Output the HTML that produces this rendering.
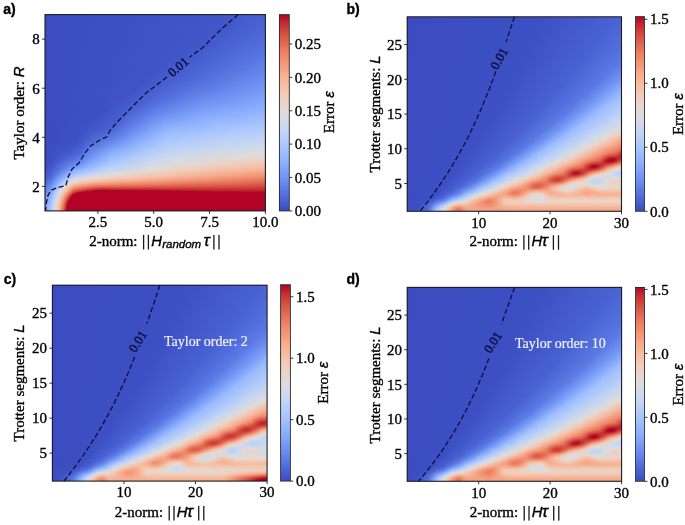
<!DOCTYPE html>
<html><head><meta charset="utf-8"><style>
html,body{margin:0;padding:0;background:#fff}
#w{position:relative;width:685px;height:525px;overflow:hidden;background:#fff}
.hm{position:absolute;overflow:hidden}
.hm i{position:absolute;left:0;width:100%;display:block}
svg{position:absolute;left:0;top:0;will-change:transform}
text{stroke:#000;stroke-width:.35px}
</style></head><body><div id="w">
<div class="hm" style="left:45px;top:15px;width:220px;height:196px"><i style="top:0px;height:1px;background:linear-gradient(90deg,#3a4cc0 0.2%,#4156c9 81.6%,#4962d3 99.8%)"></i><i style="top:1px;height:2px;background:linear-gradient(90deg,#3a4cc0 0.2%,#4156c9 81.6%,#4962d3 99.8%)"></i><i style="top:3px;height:1px;background:linear-gradient(90deg,#3a4cc0 0.2%,#4156c9 81.1%,#4962d3 99.8%)"></i><i style="top:4px;height:1px;background:linear-gradient(90deg,#3a4cc0 0.2%,#4156c9 81.1%,#4962d3 99.8%)"></i><i style="top:5px;height:1px;background:linear-gradient(90deg,#3a4cc0 0.2%,#4156c9 81.1%,#4962d3 99.8%)"></i><i style="top:6px;height:1px;background:linear-gradient(90deg,#3a4cc0 0.2%,#4156c9 80.7%,#4962d3 99.8%)"></i><i style="top:7px;height:1px;background:linear-gradient(90deg,#3a4cc0 0.2%,#4156c9 80.7%,#4962d3 99.8%)"></i><i style="top:8px;height:1px;background:linear-gradient(90deg,#3a4cc0 0.2%,#4156c9 80.2%,#4b64d4 99.8%)"></i><i style="top:9px;height:1px;background:linear-gradient(90deg,#3a4cc0 0.2%,#4258ca 83.0%,#4b64d4 99.8%)"></i><i style="top:10px;height:1px;background:linear-gradient(90deg,#3a4cc0 0.2%,#4258ca 83.0%,#4b64d4 99.8%)"></i><i style="top:11px;height:1px;background:linear-gradient(90deg,#3a4cc0 0.2%,#4258ca 82.5%,#4b64d4 99.8%)"></i><i style="top:12px;height:1px;background:linear-gradient(90deg,#3a4cc0 0.2%,#4258ca 82.0%,#4b64d4 99.8%)"></i><i style="top:13px;height:1px;background:linear-gradient(90deg,#3a4cc0 0.2%,#4258ca 81.6%,#4c66d6 99.8%)"></i><i style="top:14px;height:1px;background:linear-gradient(90deg,#3a4cc0 0.2%,#4258ca 81.1%,#4c66d6 99.8%)"></i><i style="top:15px;height:1px;background:linear-gradient(90deg,#3a4cc0 0.2%,#4156c9 77.0%,#4c66d6 99.8%)"></i><i style="top:16px;height:1px;background:linear-gradient(90deg,#3a4cc0 0.2%,#4156c9 76.6%,#4d67d7 99.8%)"></i><i style="top:17px;height:1px;background:linear-gradient(90deg,#3a4cc0 0.2%,#4258ca 79.8%,#4d67d7 99.8%)"></i><i style="top:18px;height:1px;background:linear-gradient(90deg,#3a4cc0 0.2%,#4156c9 75.2%,#4d67d7 99.8%)"></i><i style="top:19px;height:1px;background:linear-gradient(90deg,#3a4cc0 0.2%,#4156c9 74.8%,#4e69d8 99.8%)"></i><i style="top:20px;height:1px;background:linear-gradient(90deg,#3a4cc0 0.2%,#4156c9 74.3%,#4e69d8 99.8%)"></i><i style="top:21px;height:1px;background:linear-gradient(90deg,#3a4cc0 0.2%,#4156c9 73.4%,#4e69d8 99.8%)"></i><i style="top:22px;height:1px;background:linear-gradient(90deg,#3a4cc0 0.2%,#4156c9 73.0%,#506bda 99.8%)"></i><i style="top:23px;height:1px;background:linear-gradient(90deg,#3a4cc0 0.2%,#4156c9 72.5%,#506bda 99.8%)"></i><i style="top:24px;height:1px;background:linear-gradient(90deg,#3a4cc0 0.2%,#4156c9 72.0%,#516cdb 99.8%)"></i><i style="top:25px;height:1px;background:linear-gradient(90deg,#3a4cc0 0.2%,#4156c9 71.1%,#516cdb 99.8%)"></i><i style="top:26px;height:1px;background:linear-gradient(90deg,#3a4cc0 0.2%,#4156c9 70.7%,#516cdb 99.8%)"></i><i style="top:27px;height:1px;background:linear-gradient(90deg,#3a4cc0 0.2%,#4156c9 70.2%,#526edc 99.8%)"></i><i style="top:28px;height:1px;background:linear-gradient(90deg,#3a4cc0 0.2%,#4156c9 69.8%,#526edc 99.8%)"></i><i style="top:29px;height:1px;background:linear-gradient(90deg,#3a4cc0 0.2%,#4156c9 69.3%,#5370dd 99.8%)"></i><i style="top:30px;height:1px;background:linear-gradient(90deg,#3a4cc0 0.2%,#4156c9 68.9%,#526edc 98.0%,#5370dd 99.8%)"></i><i style="top:31px;height:1px;background:linear-gradient(90deg,#3a4cc0 0.2%,#4156c9 68.4%,#5571de 99.8%)"></i><i style="top:32px;height:1px;background:linear-gradient(90deg,#3a4cc0 0.2%,#4156c9 68.0%,#5571de 99.8%)"></i><i style="top:33px;height:1px;background:linear-gradient(90deg,#3a4cc0 0.2%,#4156c9 67.0%,#5673e0 99.8%)"></i><i style="top:34px;height:1px;background:linear-gradient(90deg,#3a4cc0 0.2%,#4156c9 66.6%,#5571de 98.4%,#5673e0 99.8%)"></i><i style="top:35px;height:1px;background:linear-gradient(90deg,#3a4cc0 0.2%,#4156c9 65.7%,#5571de 97.5%,#5775e1 99.8%)"></i><i style="top:36px;height:1px;background:linear-gradient(90deg,#3a4cc0 0.2%,#4156c9 65.2%,#5673e0 98.4%,#5775e1 99.8%)"></i><i style="top:37px;height:1px;background:linear-gradient(90deg,#3a4cc0 0.2%,#4156c9 64.3%,#5571de 96.1%,#5775e1 99.8%)"></i><i style="top:38px;height:1px;background:linear-gradient(90deg,#3a4cc0 0.2%,#4156c9 63.9%,#5876e2 99.8%)"></i><i style="top:39px;height:1px;background:linear-gradient(90deg,#3a4cc0 0.2%,#4156c9 63.4%,#5673e0 96.1%,#5876e2 99.8%)"></i><i style="top:40px;height:1px;background:linear-gradient(90deg,#3a4cc0 0.2%,#4156c9 62.5%,#5876e2 98.9%,#5a78e3 99.8%)"></i><i style="top:41px;height:1px;background:linear-gradient(90deg,#3a4cc0 0.2%,#4156c9 62.0%,#5571de 93.0%,#5a78e3 99.8%)"></i><i style="top:42px;height:1px;background:linear-gradient(90deg,#3a4cc0 0.2%,#4156c9 61.6%,#4b64d4 78.4%,#5b79e4 99.8%)"></i><i style="top:43px;height:1px;background:linear-gradient(90deg,#3a4cc0 0.2%,#4156c9 60.7%,#5571de 91.6%,#5b79e4 99.8%)"></i><i style="top:44px;height:1px;background:linear-gradient(90deg,#3a4cc0 0.2%,#4156c9 60.2%,#4e69d8 82.5%,#5c7be5 99.8%)"></i><i style="top:45px;height:1px;background:linear-gradient(90deg,#3a4cc0 0.2%,#4156c9 59.8%,#5673e0 91.6%,#5c7be5 99.8%)"></i><i style="top:46px;height:1px;background:linear-gradient(90deg,#3a4cc0 0.2%,#4156c9 58.9%,#4d67d7 78.9%,#5d7de6 99.8%)"></i><i style="top:47px;height:1px;background:linear-gradient(90deg,#3a4cc0 0.2%,#4156c9 58.4%,#4d67d7 78.4%,#5d7de6 99.8%)"></i><i style="top:48px;height:1px;background:linear-gradient(90deg,#3a4cc0 0.2%,#4156c9 58.0%,#4e69d8 78.9%,#5f7ee7 99.8%)"></i><i style="top:49px;height:1px;background:linear-gradient(90deg,#3a4cc0 0.2%,#4156c9 57.5%,#4e69d8 78.4%,#6080e8 99.8%)"></i><i style="top:50px;height:1px;background:linear-gradient(90deg,#3a4cc0 0.2%,#4156c9 57.0%,#4e69d8 77.5%,#6080e8 99.8%)"></i><i style="top:51px;height:1px;background:linear-gradient(90deg,#3a4cc0 0.2%,#4156c9 56.1%,#4e69d8 77.0%,#6182ea 99.8%)"></i><i style="top:52px;height:1px;background:linear-gradient(90deg,#3a4cc0 0.2%,#4054c7 53.0%,#4e69d8 76.1%,#6182ea 99.8%)"></i><i style="top:53px;height:1px;background:linear-gradient(90deg,#3a4cc0 0.2%,#4156c9 55.2%,#4e69d8 75.7%,#6383ea 99.8%)"></i><i style="top:54px;height:1px;background:linear-gradient(90deg,#3a4cc0 0.2%,#4054c7 51.6%,#4e69d8 74.8%,#6383ea 99.8%)"></i><i style="top:55px;height:1px;background:linear-gradient(90deg,#3a4cc0 0.2%,#4054c7 51.1%,#4e69d8 74.3%,#6485eb 99.8%)"></i><i style="top:56px;height:1px;background:linear-gradient(90deg,#3a4cc0 0.2%,#4054c7 50.7%,#4e69d8 73.4%,#6586ec 99.8%)"></i><i style="top:57px;height:1px;background:linear-gradient(90deg,#3a4cc0 0.2%,#4054c7 50.2%,#516cdb 75.7%,#6586ec 98.9%,#6586ec 99.8%)"></i><i style="top:58px;height:1px;background:linear-gradient(90deg,#3a4cc0 0.2%,#4054c7 49.3%,#516cdb 74.8%,#6586ec 98.0%,#6788ed 99.8%)"></i><i style="top:59px;height:1px;background:linear-gradient(90deg,#3a4cc0 0.2%,#4054c7 48.9%,#4e69d8 71.1%,#6586ec 97.5%,#6889ee 99.8%)"></i><i style="top:60px;height:1px;background:linear-gradient(90deg,#3a4cc0 0.2%,#4054c7 48.4%,#526edc 74.8%,#6586ec 96.6%,#6889ee 99.8%)"></i><i style="top:61px;height:1px;background:linear-gradient(90deg,#3a4cc0 0.2%,#4054c7 47.5%,#4e69d8 69.8%,#6383ea 92.0%,#698bef 99.8%)"></i><i style="top:62px;height:1px;background:linear-gradient(90deg,#3a4cc0 0.2%,#4054c7 47.0%,#4e69d8 68.9%,#6383ea 91.1%,#6b8df0 99.8%)"></i><i style="top:63px;height:1px;background:linear-gradient(90deg,#3a4cc0 0.2%,#4054c7 46.6%,#4b64d4 63.4%,#6485eb 92.0%,#6b8df0 99.8%)"></i><i style="top:64px;height:1px;background:linear-gradient(90deg,#3a4cc0 0.2%,#4054c7 46.1%,#4d67d7 65.7%,#6586ec 92.0%,#6c8ef1 99.8%)"></i><i style="top:65px;height:1px;background:linear-gradient(90deg,#3a4cc0 0.2%,#4054c7 45.2%,#4d67d7 64.8%,#6586ec 91.1%,#6d90f1 99.8%)"></i><i style="top:66px;height:1px;background:linear-gradient(90deg,#3a4cc0 0.2%,#4054c7 44.8%,#4d67d7 63.9%,#6383ea 87.0%,#6d90f1 99.8%)"></i><i style="top:67px;height:1px;background:linear-gradient(90deg,#3a4cc0 0.2%,#4054c7 44.3%,#4e69d8 64.3%,#6383ea 86.1%,#6f91f2 99.8%)"></i><i style="top:68px;height:1px;background:linear-gradient(90deg,#3a4cc0 0.2%,#4054c7 43.9%,#4e69d8 63.4%,#6889ee 90.7%,#7093f3 99.8%)"></i><i style="top:69px;height:1px;background:linear-gradient(90deg,#3a4cc0 0.2%,#4054c7 43.4%,#4e69d8 63.0%,#6586ec 86.6%,#7194f4 99.8%)"></i><i style="top:70px;height:1px;background:linear-gradient(90deg,#3a4cc0 0.2%,#4054c7 43.0%,#516cdb 64.3%,#6586ec 85.2%,#7194f4 99.8%)"></i><i style="top:71px;height:1px;background:linear-gradient(90deg,#3a4cc0 0.2%,#4054c7 42.5%,#4e69d8 61.1%,#6586ec 84.3%,#7395f4 99.8%)"></i><i style="top:72px;height:1px;background:linear-gradient(90deg,#3a4cc0 0.2%,#4054c7 42.0%,#516cdb 62.5%,#6889ee 85.7%,#7497f5 99.8%)"></i><i style="top:73px;height:1px;background:linear-gradient(90deg,#3a4cc0 0.2%,#4054c7 41.6%,#526edc 63.0%,#6889ee 84.8%,#7598f6 99.8%)"></i><i style="top:74px;height:1px;background:linear-gradient(90deg,#3a4cc0 0.2%,#4054c7 41.1%,#526edc 62.0%,#6c8ef1 88.0%,#779af6 99.8%)"></i><i style="top:75px;height:1px;background:linear-gradient(90deg,#3a4cc0 0.2%,#4054c7 40.7%,#5673e0 64.3%,#6f91f2 89.8%,#779af6 99.8%)"></i><i style="top:76px;height:1px;background:linear-gradient(90deg,#3a4cc0 0.2%,#4054c7 40.2%,#5673e0 63.4%,#6f91f2 88.9%,#789bf7 99.8%)"></i><i style="top:77px;height:1px;background:linear-gradient(90deg,#3a4cc0 0.2%,#4054c7 39.8%,#5876e2 64.3%,#7395f4 91.1%,#7a9df8 99.8%)"></i><i style="top:78px;height:1px;background:linear-gradient(90deg,#3a4cc0 0.2%,#4054c7 39.3%,#6485eb 74.3%,#7b9ef8 99.8%)"></i><i style="top:79px;height:1px;background:linear-gradient(90deg,#3a4cc0 0.2%,#4054c7 38.9%,#6586ec 74.3%,#7ca0f9 99.8%)"></i><i style="top:80px;height:1px;background:linear-gradient(90deg,#3a4cc0 0.2%,#4054c7 38.4%,#6586ec 73.0%,#7ea1f9 99.8%)"></i><i style="top:81px;height:1px;background:linear-gradient(90deg,#3a4cc0 0.2%,#3f53c6 34.8%,#4962d3 48.0%,#6788ed 73.0%,#7fa2fa 99.8%)"></i><i style="top:82px;height:1px;background:linear-gradient(90deg,#3a4cc0 0.2%,#4054c7 37.0%,#6586ec 70.2%,#80a4fa 99.8%)"></i><i style="top:83px;height:1px;background:linear-gradient(90deg,#3a4cc0 0.2%,#3f53c6 33.9%,#4962d3 46.6%,#6889ee 70.7%,#80a4fa 99.8%)"></i><i style="top:84px;height:1px;background:linear-gradient(90deg,#3a4cc0 0.2%,#4054c7 36.1%,#4e69d8 49.3%,#6b8df0 72.5%,#82a5fb 99.8%)"></i><i style="top:85px;height:1px;background:linear-gradient(90deg,#3a4cc0 0.2%,#3f53c6 33.0%,#4860d1 44.3%,#5876e2 56.6%,#6f91f2 74.8%,#83a6fb 99.8%)"></i><i style="top:86px;height:1px;background:linear-gradient(90deg,#3a4cc0 0.2%,#3f53c6 32.5%,#4962d3 44.8%,#5876e2 55.2%,#6f91f2 73.4%,#85a8fb 99.8%)"></i><i style="top:87px;height:1px;background:linear-gradient(90deg,#3a4cc0 0.2%,#3f53c6 32.0%,#4962d3 44.3%,#5876e2 53.9%,#7093f3 73.4%,#86a9fc 99.8%)"></i><i style="top:88px;height:1px;background:linear-gradient(90deg,#3a4cc0 0.2%,#3f53c6 31.6%,#4962d3 43.9%,#5876e2 53.0%,#7194f4 73.0%,#87aafc 99.8%)"></i><i style="top:89px;height:1px;background:linear-gradient(90deg,#3a4cc0 0.2%,#3f53c6 31.1%,#4962d3 43.0%,#5b79e4 53.9%,#7395f4 72.0%,#89acfc 99.8%)"></i><i style="top:90px;height:1px;background:linear-gradient(90deg,#3a4cc0 0.2%,#3f53c6 30.7%,#4962d3 42.5%,#5d7de6 54.3%,#7598f6 73.4%,#8aadfd 99.8%)"></i><i style="top:91px;height:1px;background:linear-gradient(90deg,#3a4cc0 0.2%,#3e51c4 27.5%,#4860d1 41.1%,#5b79e4 51.6%,#7598f6 71.6%,#8baefd 99.8%)"></i><i style="top:92px;height:1px;background:linear-gradient(90deg,#3a4cc0 0.2%,#3f53c6 30.2%,#4b64d4 42.0%,#5f7ee7 53.0%,#789bf7 73.0%,#8daffd 99.8%)"></i><i style="top:93px;height:1px;background:linear-gradient(90deg,#3a4cc0 0.2%,#3e51c4 26.6%,#465dcf 38.0%,#6383ea 54.8%,#7b9ef8 73.9%,#8eb1fd 99.8%)"></i><i style="top:94px;height:1px;background:linear-gradient(90deg,#3a4cc0 0.2%,#3e51c4 26.1%,#465dcf 37.5%,#5c7be5 49.3%,#7b9ef8 72.0%,#90b2fe 99.8%)"></i><i style="top:95px;height:1px;background:linear-gradient(90deg,#3a4cc0 0.2%,#3e51c4 25.7%,#465dcf 37.0%,#5f7ee7 49.8%,#7ea1f9 72.5%,#91b3fe 99.8%)"></i><i style="top:96px;height:1px;background:linear-gradient(90deg,#3a4cc0 0.2%,#3e51c4 25.2%,#465dcf 36.6%,#5d7de6 48.4%,#7ca0f9 69.8%,#92b4fe 99.8%)"></i><i style="top:97px;height:1px;background:linear-gradient(90deg,#3a4cc0 0.2%,#3e51c4 24.8%,#465dcf 36.1%,#6080e8 48.9%,#7fa2fa 69.8%,#95b7fe 99.8%)"></i><i style="top:98px;height:1px;background:linear-gradient(90deg,#3a4cc0 0.2%,#3e51c4 24.8%,#465dcf 35.7%,#6383ea 49.3%,#7fa2fa 68.4%,#97b8fe 99.8%)"></i><i style="top:99px;height:1px;background:linear-gradient(90deg,#3a4cc0 0.2%,#3e51c4 24.3%,#465dcf 34.8%,#6080e8 47.5%,#7194f4 57.0%,#86a9fc 74.3%,#98b9fe 99.8%)"></i><i style="top:100px;height:1px;background:linear-gradient(90deg,#3a4cc0 0.2%,#3e51c4 23.9%,#465dcf 34.3%,#6080e8 47.0%,#7395f4 56.6%,#87aafc 73.9%,#99bafe 99.8%)"></i><i style="top:101px;height:1px;background:linear-gradient(90deg,#3a4cc0 0.2%,#3e51c4 23.4%,#465dcf 33.9%,#698bef 49.8%,#85a8fb 68.4%,#9bbbfe 99.8%)"></i><i style="top:102px;height:1px;background:linear-gradient(90deg,#3a4cc0 0.2%,#3e51c4 23.0%,#455bcd 32.5%,#6182ea 46.1%,#7395f4 53.4%,#8baefd 73.9%,#9cbcfe 99.8%)"></i><i style="top:103px;height:1px;background:linear-gradient(90deg,#3a4cc0 0.2%,#3e51c4 22.5%,#455bcd 32.0%,#698bef 48.4%,#7b9ef8 57.5%,#8daffd 73.4%,#9fbefe 99.8%)"></i><i style="top:104px;height:1px;background:linear-gradient(90deg,#3a4cc0 0.2%,#3e51c4 22.0%,#455bcd 31.6%,#698bef 48.0%,#7ca0f9 57.0%,#91b3fe 76.6%,#a0bffe 99.8%)"></i><i style="top:105px;height:1px;background:linear-gradient(90deg,#3a4cc0 0.2%,#3e51c4 21.6%,#455bcd 31.1%,#5673e0 39.3%,#7a9df8 53.4%,#91b3fe 73.9%,#a2c0fe 99.8%)"></i><i style="top:106px;height:1px;background:linear-gradient(90deg,#3a4cc0 0.2%,#3e51c4 21.1%,#465dcf 31.6%,#6d90f1 48.0%,#80a4fa 56.6%,#95b7fe 76.1%,#a3c1fe 99.8%)"></i><i style="top:107px;height:1px;background:linear-gradient(90deg,#3a4cc0 0.2%,#3e51c4 20.7%,#465dcf 31.1%,#5876e2 38.9%,#7fa2fa 53.9%,#98b9fe 77.0%,#a4c2fe 99.8%)"></i><i style="top:108px;height:1px;background:linear-gradient(90deg,#3a4cc0 0.2%,#3e51c4 20.2%,#465dcf 30.7%,#5876e2 38.4%,#80a4fa 53.4%,#98b9fe 75.2%,#a7c4fd 99.8%)"></i><i style="top:109px;height:1px;background:linear-gradient(90deg,#3a4cc0 0.2%,#3e51c4 19.3%,#475fd0 30.7%,#5571de 37.0%,#7194f4 47.0%,#86a9fc 55.7%,#9bbbfe 76.1%,#a8c5fd 99.8%)"></i><i style="top:110px;height:1px;background:linear-gradient(90deg,#3a4cc0 0.2%,#3e51c4 18.9%,#4860d1 31.1%,#698bef 43.4%,#87aafc 54.3%,#9dbdfe 77.0%,#aac6fd 99.8%)"></i><i style="top:111px;height:1px;background:linear-gradient(90deg,#3a4cc0 0.2%,#3e51c4 18.4%,#4860d1 30.2%,#6c8ef1 43.9%,#8aadfd 54.8%,#a0bffe 78.0%,#acc8fc 99.8%)"></i><i style="top:112px;height:1px;background:linear-gradient(90deg,#3a4cc0 0.2%,#3e51c4 18.0%,#4860d1 29.8%,#5f7ee7 38.4%,#83a6fb 51.1%,#8eb1fd 56.6%,#a4c2fe 81.6%,#aec9fc 99.8%)"></i><i style="top:113px;height:1px;background:linear-gradient(90deg,#3a4cc0 0.2%,#3e51c4 17.5%,#4860d1 28.9%,#5c7be5 37.0%,#7ca0f9 48.0%,#90b2fe 56.1%,#a4c2fe 78.9%,#afcafb 99.8%)"></i><i style="top:114px;height:1px;background:linear-gradient(90deg,#3a4cc0 0.2%,#3e51c4 17.0%,#4962d3 28.9%,#5f7ee7 37.5%,#6d90f1 42.0%,#91b3fe 54.3%,#a7c4fd 79.8%,#b2cbfb 99.8%)"></i><i style="top:115px;height:1px;background:linear-gradient(90deg,#3a4cc0 0.2%,#3e51c4 16.6%,#4d67d7 30.2%,#6586ec 38.4%,#8baefd 51.6%,#98b9fe 58.4%,#acc8fc 86.1%,#b3ccfa 99.8%)"></i><i style="top:116px;height:1px;background:linear-gradient(90deg,#3a4cc0 0.2%,#3e51c4 16.6%,#4e69d8 30.2%,#6788ed 38.4%,#8daffd 51.1%,#99bafe 58.0%,#acc8fc 83.0%,#b4cdfa 99.8%)"></i><i style="top:117px;height:1px;background:linear-gradient(90deg,#3a4cc0 0.2%,#3e51c4 16.1%,#4e69d8 29.3%,#6182ea 36.6%,#7395f4 41.1%,#98b9fe 54.8%,#acc8fc 79.3%,#b7cff9 99.8%)"></i><i style="top:118px;height:1px;background:linear-gradient(90deg,#3a4cc0 0.2%,#3e51c4 15.7%,#516cdb 29.8%,#698bef 38.0%,#7497f5 41.1%,#9bbbfe 54.8%,#b0cbfb 83.4%,#b8cff8 99.8%)"></i><i style="top:119px;height:1px;background:linear-gradient(90deg,#3a4cc0 0.2%,#3e51c4 15.7%,#5370dd 29.8%,#6889ee 37.0%,#7ca0f9 43.0%,#9dbdfe 55.2%,#b3ccfa 83.9%,#b9d0f8 99.8%)"></i><i style="top:120px;height:1px;background:linear-gradient(90deg,#3a4cc0 0.2%,#3e51c4 15.2%,#5370dd 28.9%,#6889ee 36.6%,#7b9ef8 41.6%,#a0bffe 55.2%,#b7cff9 89.3%,#bcd1f6 99.8%)"></i><i style="top:121px;height:1px;background:linear-gradient(90deg,#3a4cc0 0.2%,#3e51c4 15.2%,#5876e2 30.2%,#7395f4 38.4%,#87aafc 45.2%,#a3c1fe 56.1%,#b8cff8 88.0%,#bdd2f6 99.8%)"></i><i style="top:122px;height:1px;background:linear-gradient(90deg,#3a4cc0 0.2%,#3e51c4 14.8%,#5d7de6 31.6%,#779af6 38.9%,#9cbcfe 52.0%,#a7c4fd 58.0%,#b9d0f8 87.0%,#c0d3f5 99.8%)"></i><i style="top:123px;height:1px;background:linear-gradient(90deg,#3a4cc0 0.2%,#3e51c4 14.8%,#6383ea 32.5%,#7fa2fa 40.2%,#a7c4fd 55.7%,#bdd2f6 90.7%,#c1d4f4 99.8%)"></i><i style="top:124px;height:1px;background:linear-gradient(90deg,#3a4cc0 0.2%,#3e51c4 14.3%,#698bef 33.9%,#82a5fb 40.7%,#a8c5fd 55.2%,#bdd2f6 86.1%,#c3d5f2 99.8%)"></i><i style="top:125px;height:1px;background:linear-gradient(90deg,#3a4cc0 0.2%,#3e51c4 13.9%,#465dcf 18.0%,#6d90f1 34.3%,#89acfc 42.5%,#abc7fc 55.7%,#c1d4f4 91.6%,#c5d5f2 99.8%)"></i><i style="top:126px;height:1px;background:linear-gradient(90deg,#3a4cc0 0.2%,#3c4fc3 11.6%,#4258ca 16.6%,#526edc 23.0%,#789bf7 36.6%,#8baefd 42.0%,#acc8fc 55.2%,#c2d4f3 89.3%,#c7d6f0 99.8%)"></i><i style="top:127px;height:1px;background:linear-gradient(90deg,#3a4cc0 0.2%,#3e51c4 13.0%,#465dcf 17.5%,#5775e1 24.3%,#83a6fb 38.4%,#afcafb 55.2%,#c6d6f1 93.9%,#c8d7ef 99.8%)"></i><i style="top:128px;height:1px;background:linear-gradient(90deg,#3a4cc0 0.2%,#3e51c4 12.5%,#455bcd 17.0%,#516cdb 20.2%,#7a9df8 35.2%,#97b8fe 44.3%,#b2cbfb 56.1%,#c8d7ef 95.2%,#cad8ee 99.8%)"></i><i style="top:129px;height:1px;background:linear-gradient(90deg,#3a4cc0 0.2%,#3e51c4 12.0%,#465dcf 17.0%,#5571de 21.1%,#7a9df8 34.3%,#97b8fe 43.4%,#b4cdfa 56.6%,#c9d7ee 93.4%,#ccd8ed 99.8%)"></i><i style="top:130px;height:1px;background:linear-gradient(90deg,#3a4cc0 0.2%,#3e51c4 11.1%,#465dcf 16.6%,#5370dd 20.2%,#779af6 32.0%,#99bafe 43.4%,#b6cef9 56.6%,#ced9eb 99.3%,#ced9eb 99.8%)"></i><i style="top:131px;height:1px;background:linear-gradient(90deg,#3a4cc0 0.2%,#3e51c4 10.7%,#455bcd 16.1%,#5775e1 20.7%,#7a9df8 32.0%,#9cbcfe 43.4%,#b8cff8 56.6%,#ced9eb 95.2%,#d0dae9 99.8%)"></i><i style="top:132px;height:1px;background:linear-gradient(90deg,#3a4cc0 0.2%,#3f53c6 11.1%,#4860d1 16.6%,#5a78e3 20.7%,#7ea1f9 32.0%,#9dbdfe 43.4%,#b9d0f8 56.1%,#cfd9ea 92.5%,#d2dae7 99.8%)"></i><i style="top:133px;height:1px;background:linear-gradient(90deg,#3a4cc0 0.2%,#4054c7 11.6%,#475fd0 16.1%,#5a78e3 20.2%,#7ea1f9 31.1%,#9fbefe 42.5%,#bcd1f6 56.6%,#d2dae7 96.6%,#d3dbe6 99.8%)"></i><i style="top:134px;height:1px;background:linear-gradient(90deg,#3a4cc0 0.2%,#4156c9 12.0%,#4b64d4 16.6%,#5c7be5 20.2%,#82a5fb 31.1%,#abc7fc 46.6%,#bdd2f6 56.1%,#d2dae7 91.6%,#d6dbe4 99.8%)"></i><i style="top:135px;height:1px;background:linear-gradient(90deg,#3a4cc0 0.2%,#4156c9 11.1%,#4b64d4 16.1%,#6080e8 20.7%,#83a6fb 30.2%,#acc8fc 46.1%,#c1d4f4 57.5%,#d8dbe1 99.8%)"></i><i style="top:136px;height:1px;background:linear-gradient(90deg,#3a4cc0 0.2%,#4258ca 11.1%,#4d67d7 16.6%,#6182ea 20.2%,#89acfc 31.1%,#b0cbfb 47.0%,#c2d4f3 57.0%,#dadcdf 99.8%)"></i><i style="top:137px;height:1px;background:linear-gradient(90deg,#3a4cc0 0.2%,#4156c9 9.8%,#4d67d7 16.1%,#6182ea 19.8%,#89acfc 29.8%,#b2cbfb 46.6%,#c3d5f2 56.6%,#dcdcdd 98.9%,#dcdcdd 99.8%)"></i><i style="top:138px;height:1px;background:linear-gradient(90deg,#3a4cc0 0.2%,#4156c9 8.9%,#4d67d7 15.7%,#6485eb 19.8%,#8baefd 29.8%,#b3ccfa 45.7%,#c6d6f1 57.0%,#dfdbd9 99.8%)"></i><i style="top:139px;height:1px;background:linear-gradient(90deg,#3a4cc0 0.2%,#3e51c4 5.2%,#4b64d4 13.4%,#5370dd 16.6%,#6b8df0 20.7%,#90b2fe 30.2%,#b7cff9 46.6%,#c8d7ef 57.5%,#dfdbd9 96.1%,#e1dad6 99.8%)"></i><i style="top:140px;height:1px;background:linear-gradient(90deg,#3a4cc0 0.2%,#4156c9 7.5%,#5370dd 16.1%,#6d90f1 20.7%,#94b5fe 30.2%,#b7cff9 45.7%,#cad8ee 57.0%,#e1dad6 95.7%,#e3d9d3 99.8%)"></i><i style="top:141px;height:1px;background:linear-gradient(90deg,#3a4cc0 0.2%,#3e51c4 4.3%,#526edc 15.2%,#6f91f2 20.2%,#97b8fe 30.2%,#bbd1f7 46.1%,#ced9eb 59.3%,#e3d9d3 95.2%,#e5d8d0 99.8%)"></i><i style="top:142px;height:1px;background:linear-gradient(90deg,#3a4cc0 0.2%,#4054c7 5.2%,#516cdb 13.4%,#5b79e4 16.6%,#7194f4 20.2%,#99bafe 30.2%,#bbd1f7 44.8%,#cfd9ea 58.4%,#e3d9d3 90.2%,#e7d6cc 99.8%)"></i><i style="top:143px;height:1px;background:linear-gradient(90deg,#3a4cc0 0.2%,#4054c7 4.8%,#5b79e4 16.1%,#7497f5 20.2%,#9cbcfe 29.8%,#c0d3f5 46.1%,#d1dae8 58.4%,#e3d9d3 86.1%,#ead3c7 99.8%)"></i><i style="top:144px;height:1px;background:linear-gradient(90deg,#3a4cc0 0.2%,#4258ca 5.7%,#6080e8 16.6%,#779af6 20.2%,#9dbdfe 29.3%,#c0d3f5 44.8%,#d3dbe6 58.9%,#e6d7cf 87.0%,#ecd2c4 99.8%)"></i><i style="top:145px;height:1px;background:linear-gradient(90deg,#3a4cc0 0.2%,#4156c9 4.8%,#5571de 12.0%,#6485eb 16.6%,#7ca0f9 20.7%,#a3c1fe 30.2%,#c2d4f3 44.8%,#d8dbe1 61.1%,#e8d5ca 88.0%,#edcfc0 99.8%)"></i><i style="top:146px;height:1px;background:linear-gradient(90deg,#3a4cc0 0.2%,#4054c7 3.9%,#5a78e3 12.5%,#6889ee 16.6%,#80a4fa 20.7%,#a8c5fd 30.7%,#c9d7ee 47.5%,#d9dce0 60.2%,#edcfc0 94.8%,#efcdbb 99.8%)"></i><i style="top:147px;height:1px;background:linear-gradient(90deg,#3a4cc0 0.2%,#4054c7 3.9%,#5d7de6 12.5%,#6d90f1 17.0%,#82a5fb 20.2%,#acc8fc 31.1%,#ced9eb 49.3%,#dedbda 63.9%,#f1cab6 99.8%)"></i><i style="top:148px;height:1px;background:linear-gradient(90deg,#3a4cc0 0.2%,#4258ca 4.3%,#5f7ee7 12.0%,#7598f6 17.5%,#86a9fc 20.2%,#afcafb 30.7%,#d5dbe5 51.6%,#e6d7cf 71.6%,#f2c7b2 99.8%)"></i><i style="top:149px;height:1px;background:linear-gradient(90deg,#3a4cc0 0.2%,#4258ca 3.9%,#6080e8 11.6%,#7ca0f9 18.0%,#8baefd 20.7%,#b2cbfb 30.7%,#d2dae7 48.4%,#e3d9d3 64.8%,#f2c7b2 95.2%,#f4c4ad 99.8%)"></i><i style="top:150px;height:1px;background:linear-gradient(90deg,#3b4dc1 0.2%,#4156c9 3.4%,#698bef 12.5%,#7ea1f9 17.5%,#92b4fe 21.1%,#b7cff9 31.1%,#dbdcde 53.0%,#efcebc 81.1%,#f5c1a8 99.8%)"></i><i style="top:151px;height:1px;background:linear-gradient(90deg,#3b4dc1 0.2%,#4258ca 3.4%,#698bef 11.6%,#86a9fc 18.0%,#97b8fe 21.1%,#bbd1f7 31.1%,#dddcdb 52.5%,#efcdbb 78.0%,#f6bda4 99.8%)"></i><i style="top:152px;height:1px;background:linear-gradient(90deg,#3b4dc1 0.2%,#465dcf 3.9%,#6d90f1 11.6%,#7b9ef8 14.3%,#92b4fe 18.9%,#b9d0f8 28.9%,#dbdcde 48.9%,#e9d4c9 63.0%,#f6bca2 97.0%,#f6ba9f 99.8%)"></i><i style="top:153px;height:1px;background:linear-gradient(90deg,#3c4fc3 0.2%,#475fd0 3.9%,#6f91f2 11.1%,#7ea1f9 13.4%,#94b5fe 18.4%,#b2cbfb 25.7%,#c3d5f2 31.6%,#dfdbd9 49.8%,#edcfc0 67.0%,#f6b69a 99.8%)"></i><i style="top:154px;height:1px;background:linear-gradient(90deg,#3c4fc3 0.2%,#465dcf 3.4%,#6b8df0 9.8%,#85a8fb 13.4%,#9dbdfe 18.9%,#c1d4f4 28.9%,#dedbda 46.1%,#efcebc 66.1%,#f7b295 99.8%)"></i><i style="top:155px;height:1px;background:linear-gradient(90deg,#3e51c4 0.2%,#475fd0 3.4%,#6383ea 8.0%,#8baefd 13.4%,#a4c2fe 18.9%,#c3d5f2 28.0%,#dedbda 43.4%,#efcebc 62.0%,#f7ad8f 99.8%)"></i><i style="top:156px;height:1px;background:linear-gradient(90deg,#3e51c4 0.2%,#4962d3 3.4%,#7598f6 9.8%,#95b7fe 13.9%,#abc7fc 18.9%,#ced9eb 30.2%,#e3d9d3 44.8%,#f1cab6 62.5%,#f6aa8c 97.5%,#f6a98a 99.8%)"></i><i style="top:157px;height:1px;background:linear-gradient(90deg,#3f53c6 0.2%,#465dcf 2.5%,#6f91f2 8.4%,#94b5fe 12.5%,#bbd1f7 21.6%,#d7dbe2 32.5%,#e8d5ca 46.6%,#f2c7b2 62.0%,#f6a384 99.8%)"></i><i style="top:158px;height:1px;background:linear-gradient(90deg,#4054c7 0.2%,#4962d3 3.0%,#7093f3 8.0%,#9fbefe 13.0%,#c1d4f4 21.1%,#dbdcde 32.0%,#f1cab6 53.9%,#f6a98a 88.9%,#f59e7f 99.8%)"></i><i style="top:159px;height:1px;background:linear-gradient(90deg,#4156c9 0.2%,#4860d1 2.5%,#6d90f1 7.0%,#95b7fe 11.1%,#abc7fc 13.4%,#c9d7ee 21.6%,#dfdbd9 31.6%,#f1cab6 50.2%,#f6ab8d 82.0%,#f39879 99.8%)"></i><i style="top:160px;height:1px;background:linear-gradient(90deg,#4258ca 0.2%,#4b64d4 2.5%,#7395f4 7.0%,#a3c1fe 11.6%,#b7cff9 14.3%,#d8dbe1 24.3%,#ecd2c4 38.4%,#f6bda4 58.4%,#f49a7b 93.4%,#f29375 99.8%)"></i><i style="top:161px;height:1px;background:linear-gradient(90deg,#435acc 0.2%,#4c66d6 2.5%,#7ca0f9 7.5%,#a4c2fe 11.1%,#bcd1f6 13.4%,#dbdcde 23.0%,#ebd3c6 33.0%,#f6b99d 58.4%,#f18e70 99.3%,#f08d6f 99.8%)"></i><i style="top:162px;height:1px;background:linear-gradient(90deg,#455bcd 0.2%,#526edc 3.0%,#7ca0f9 7.0%,#a8c5fd 10.7%,#c5d5f2 13.4%,#dfdbd9 21.6%,#efcebc 32.5%,#f7b397 57.0%,#ef896c 98.0%,#ee876a 99.8%)"></i><i style="top:163px;height:1px;background:linear-gradient(90deg,#475fd0 0.2%,#5571de 3.0%,#7ea1f9 6.6%,#a6c3fd 9.8%,#ccd8ed 13.0%,#e1dad6 19.3%,#efcdbb 28.0%,#f7ae91 55.2%,#ec8064 99.8%)"></i><i style="top:164px;height:1px;background:linear-gradient(90deg,#4860d1 0.2%,#5370dd 2.5%,#7ea1f9 6.1%,#a7c4fd 9.3%,#cad8ee 12.0%,#d7dbe2 13.4%,#e8d5ca 19.3%,#f2c8b3 26.6%,#f7b194 45.7%,#f19072 78.4%,#e9795e 99.8%)"></i><i style="top:165px;height:1px;background:linear-gradient(90deg,#4b64d4 0.2%,#5673e0 2.5%,#7ea1f9 5.7%,#a2c0fe 8.4%,#c8d7ef 11.1%,#dfdbd9 13.4%,#f2c8b3 22.0%,#f6b99d 32.0%,#f49d7e 57.5%,#e6745a 99.8%)"></i><i style="top:166px;height:1px;background:linear-gradient(90deg,#4c66d6 0.2%,#5a78e3 2.5%,#83a6fb 5.7%,#b0cbfb 8.9%,#d6dbe4 11.6%,#e7d6cc 13.4%,#f5c0a7 21.6%,#f7b397 27.5%,#f39678 53.9%,#e36c54 99.8%)"></i><i style="top:167px;height:1px;background:linear-gradient(90deg,#4e69d8 0.2%,#5c7be5 2.5%,#89acfc 5.7%,#b2cbfb 8.4%,#d3dbe6 10.7%,#e4d8d1 12.0%,#efcdbb 13.9%,#f7ad8f 23.9%,#f39678 43.4%,#e7755c 81.6%,#e06650 99.8%)"></i><i style="top:168px;height:1px;background:linear-gradient(90deg,#516cdb 0.2%,#6080e8 2.5%,#87aafc 5.2%,#abc7fc 7.5%,#cfd9ea 9.8%,#e1dad6 11.1%,#f2c9b5 13.0%,#f5c0a7 14.8%,#f5a182 23.4%,#f29375 33.9%,#eb7f63 57.5%,#dc5e4b 99.8%)"></i><i style="top:169px;height:1px;background:linear-gradient(90deg,#5370dd 0.2%,#6383ea 2.5%,#8daffd 5.2%,#b3ccfa 7.5%,#d7dbe2 9.8%,#e8d5ca 11.1%,#f5c0a7 13.0%,#f6b99d 13.9%,#f19072 23.9%,#e7755c 54.3%,#d95847 99.8%)"></i><i style="top:170px;height:1px;background:linear-gradient(90deg,#5673e0 0.2%,#6182ea 2.0%,#92b4fe 5.2%,#b2cbfb 7.0%,#d8dbe1 9.3%,#ead3c7 10.7%,#f7b397 13.0%,#f6a789 14.8%,#eb7f63 23.9%,#e16852 55.7%,#d65243 98.0%,#d44f42 99.8%)"></i><i style="top:171px;height:1px;background:linear-gradient(90deg,#5876e2 0.2%,#6b8df0 2.5%,#98b9fe 5.2%,#c1d4f4 7.5%,#d9dce0 8.9%,#f0ccb9 10.7%,#f6a789 13.0%,#f39879 14.8%,#e26a53 24.3%,#da5a48 58.0%,#d34d40 91.1%,#d1493e 99.8%)"></i><i style="top:172px;height:1px;background:linear-gradient(90deg,#5b79e4 0.2%,#6889ee 2.0%,#95b7fe 4.8%,#c1d4f4 7.0%,#d9dce0 8.4%,#f1cbb8 10.2%,#f6ab8d 12.0%,#f29173 13.4%,#dc5e4b 22.5%,#d85646 25.2%,#d34d40 52.0%,#d1493e 79.3%,#cc3f39 99.8%)"></i><i style="top:173px;height:1px;background:linear-gradient(90deg,#5d7de6 0.2%,#6c8ef1 2.0%,#92b4fe 4.3%,#b6cef9 6.1%,#d8dbe1 8.0%,#e7d6cd 8.9%,#f6bba0 10.7%,#f29173 12.5%,#ec8064 13.4%,#d34d40 21.6%,#ca3d38 24.8%,#ca3d38 46.1%,#c93b37 92.5%,#c83835 99.8%)"></i><i style="top:174px;height:1px;background:linear-gradient(90deg,#6080e8 0.2%,#7598f6 2.5%,#a0bffe 4.8%,#c5d5f2 6.6%,#dddcdb 8.0%,#f1cbb8 9.3%,#f6a789 11.1%,#e9795e 13.0%,#e36c54 13.9%,#c53233 22.0%,#be232d 24.8%,#be232d 27.0%,#bf282e 28.0%,#c12a30 54.3%,#c43032 67.0%,#c43032 99.8%)"></i><i style="top:175px;height:1px;background:linear-gradient(90deg,#6383ea 0.2%,#7395f4 2.0%,#9cbcfe 4.3%,#c2d4f3 6.1%,#dcdcdd 7.5%,#f4c4ad 9.3%,#f49a7b 11.1%,#e06650 13.0%,#d44f42 14.8%,#bc1f2c 20.7%,#b60d28 22.0%,#b30326 23.0%,#b30326 40.7%,#b50827 41.6%,#b50827 50.7%,#b60d28 51.6%,#b60d28 53.4%,#b81129 55.2%,#b81129 57.0%,#b9162a 58.0%,#b9162a 61.1%,#bb1a2b 63.0%,#bb1a2b 66.6%,#bc1f2c 67.5%,#bc1f2c 74.8%,#be232d 76.6%,#be232d 99.8%)"></i><i style="top:176px;height:1px;background:linear-gradient(90deg,#6586ec 0.2%,#7ea1f9 2.5%,#a2c0fe 4.3%,#c7d6f0 6.1%,#d9dce0 7.0%,#efcebc 8.4%,#f7b194 9.8%,#eb7f63 11.6%,#d75444 13.0%,#cd423a 13.9%,#be232d 17.0%,#b30326 19.3%,#b30326 68.9%,#b50827 69.8%,#b50827 73.9%,#b60d28 74.8%,#b60d28 80.2%,#b81129 82.0%,#b81129 90.2%,#b9162a 91.1%,#b9162a 99.8%)"></i><i style="top:177px;height:1px;background:linear-gradient(90deg,#698bef 0.2%,#7a9df8 2.0%,#a7c4fd 4.3%,#c3d5f2 5.7%,#dfdbd9 7.0%,#f6bda4 8.9%,#f08d6f 10.7%,#dc5e4b 12.0%,#ca3d38 13.0%,#b81129 15.2%,#b30326 16.1%,#b30326 95.2%,#b50827 96.1%,#b50827 99.8%)"></i><i style="top:178px;height:1px;background:linear-gradient(90deg,#6b8df0 0.2%,#7ca0f9 2.0%,#a2c0fe 3.9%,#bed3f5 5.2%,#dbdcde 6.6%,#f1cbb8 8.0%,#f6aa8c 9.3%,#ec8064 10.7%,#c93b37 12.5%,#b81129 13.4%,#b30326 13.9%,#b30326 99.8%)"></i><i style="top:179px;height:1px;background:linear-gradient(90deg,#6d90f1 0.2%,#80a4fa 2.0%,#a6c3fd 3.9%,#c3d5f2 5.2%,#e0dad7 6.6%,#f3c5af 8.0%,#f5a081 9.3%,#de624e 11.1%,#be232d 12.5%,#b30326 13.0%,#b30326 99.8%)"></i><i style="top:180px;height:1px;background:linear-gradient(90deg,#7093f3 0.2%,#8baefd 2.5%,#b4cdfa 4.3%,#dbdcde 6.1%,#f2c9b5 7.5%,#f6a687 8.9%,#e7755c 10.2%,#ca3d38 11.6%,#b30326 12.5%,#b30326 99.8%)"></i><i style="top:181px;height:1px;background:linear-gradient(90deg,#7395f4 0.2%,#87aafc 2.0%,#aec9fc 3.9%,#d6dbe4 5.7%,#e8d5ca 6.6%,#f6b99d 8.0%,#f08d6f 9.3%,#cd423a 11.1%,#c12a30 11.6%,#b30326 12.0%,#b30326 99.8%)"></i><i style="top:182px;height:1px;background:linear-gradient(90deg,#7598f6 0.2%,#8aadfd 2.0%,#b2cbfb 3.9%,#cfd9ea 5.2%,#e3d9d3 6.1%,#f5c0a7 7.5%,#f39576 8.9%,#d1493e 10.7%,#c53233 11.1%,#b60d28 11.6%,#b30326 12.0%,#b30326 99.8%)"></i><i style="top:183px;height:1px;background:linear-gradient(90deg,#789bf7 0.2%,#8daffd 2.0%,#b6cef9 3.9%,#d3dbe6 5.2%,#dddcdb 5.7%,#f3c5af 7.0%,#f7ad8f 8.0%,#e9795e 9.3%,#c93b37 10.7%,#bb1a2b 11.1%,#b30326 11.6%,#b30326 99.8%)"></i><i style="top:184px;height:1px;background:linear-gradient(90deg,#7a9df8 0.2%,#98b9fe 2.5%,#b8cff8 3.9%,#d7dbe2 5.2%,#e9d4c9 6.1%,#f7b598 7.5%,#f39576 8.4%,#da5a48 9.8%,#c12a30 10.7%,#b30326 11.1%,#b30326 99.8%)"></i><i style="top:185px;height:1px;background:linear-gradient(90deg,#7ca0f9 0.2%,#91b3fe 2.0%,#bcd1f6 3.9%,#dadcdf 5.2%,#ecd2c4 6.1%,#f7b092 7.5%,#ea7b60 8.9%,#c83835 10.2%,#b9162a 10.7%,#b30326 11.1%,#b30326 99.8%)"></i><i style="top:186px;height:1px;background:linear-gradient(90deg,#7ea1f9 0.2%,#8daffd 1.6%,#a8c5fd 3.0%,#c8d7ef 4.3%,#dcdcdd 5.2%,#f3c5af 6.6%,#f49b7c 8.0%,#dc5e4b 9.3%,#c12a30 10.2%,#b30326 10.7%,#b30326 99.8%)"></i><i style="top:187px;height:1px;background:linear-gradient(90deg,#7fa2fa 0.2%,#95b7fe 2.0%,#c1d4f4 3.9%,#dedbda 5.2%,#f4c3ab 6.6%,#f39576 8.0%,#d85646 9.3%,#ca3d38 9.8%,#bb1a2b 10.2%,#b30326 10.7%,#b30326 99.8%)"></i><i style="top:188px;height:1px;background:linear-gradient(90deg,#80a4fa 0.2%,#97b8fe 2.0%,#b8cff8 3.4%,#d7dbe2 4.8%,#e9d4c9 5.7%,#f5c0a7 6.6%,#f6a384 7.5%,#e06650 8.9%,#c53233 9.8%,#b50827 10.2%,#b30326 11.1%,#b30326 99.8%)"></i><i style="top:189px;height:1px;background:linear-gradient(90deg,#82a5fb 0.2%,#99bafe 2.0%,#c5d5f2 3.9%,#d8dbe1 4.8%,#ebd3c6 5.7%,#f7b092 7.0%,#e8775d 8.4%,#c12a30 9.8%,#b30326 10.2%,#b30326 99.8%)"></i><i style="top:190px;height:1px;background:linear-gradient(90deg,#83a6fb 0.2%,#99bafe 2.0%,#bcd1f6 3.4%,#dadcdf 4.8%,#ecd1c3 5.7%,#f7ad8f 7.0%,#ef896c 8.0%,#cd423a 9.3%,#bc1f2c 9.8%,#b30326 10.2%,#b30326 99.8%)"></i><i style="top:191px;height:1px;background:linear-gradient(90deg,#83a6fb 0.2%,#9bbbfe 2.0%,#bdd2f6 3.4%,#dbdcde 4.8%,#edd0c1 5.7%,#f6ba9f 6.6%,#f49a7b 7.5%,#d95847 8.9%,#ca3d38 9.3%,#b9162a 9.8%,#b30326 10.2%,#b30326 99.8%)"></i><i style="top:192px;height:1px;background:linear-gradient(90deg,#85a8fb 0.2%,#9cbcfe 2.0%,#bdd2f6 3.4%,#dcdcdd 4.8%,#f3c5af 6.1%,#f6a98a 7.0%,#ec8266 8.0%,#d75444 8.9%,#c83835 9.3%,#b60d28 9.8%,#b30326 10.2%,#b30326 99.8%)"></i><i style="top:193px;height:1px;background:linear-gradient(90deg,#85a8fb 0.2%,#9cbcfe 2.0%,#bed3f5 3.4%,#dddcdb 4.8%,#eecfbe 5.7%,#f6b69a 6.6%,#f39576 7.5%,#d65243 8.9%,#c63534 9.3%,#b50827 9.8%,#b30326 10.7%,#b30326 99.8%)"></i><i style="top:194px;height:1px;background:linear-gradient(90deg,#86a9fc 0.2%,#9dbdfe 2.0%,#bed3f5 3.4%,#dddcdb 4.8%,#f4c3ab 6.1%,#f6a687 7.0%,#e16852 8.4%,#c53233 9.3%,#b30326 9.8%,#b30326 99.8%)"></i><i style="top:195px;height:1px;background:linear-gradient(90deg,#86a9fc 0.2%,#9dbdfe 2.0%,#c0d3f5 3.4%,#dddcdb 4.8%,#f4c3ab 6.1%,#f6a687 7.0%,#e16852 8.4%,#c43032 9.3%,#b30326 9.8%,#b30326 99.8%)"></i></div>
<div class="hm" style="left:279px;top:15px;width:10px;height:196px;background:linear-gradient(180deg,#b40426 0%,#c53334 5%,#d65244 10%,#e36c55 15%,#ee8468 20%,#f4987a 25%,#f7ac8e 30%,#f6bda2 35%,#f2cbb7 40%,#e9d5cb 45%,#dddcdc 50%,#cfdaea 55%,#c0d4f5 60%,#afcafc 65%,#9ebeff 70%,#8db0fe 75%,#7b9ff9 80%,#6a8bef 85%,#5977e3 90%,#4961d2 95%,#3b4cc0 100%)"></div>
<div class="hm" style="left:407px;top:17px;width:215px;height:194px"><i style="top:0px;height:1px;background:linear-gradient(90deg,#3a4cc0 0.2%,#3c4fc3 59.8%,#4962d3 96.0%,#4c66d6 99.8%)"></i><i style="top:1px;height:1px;background:linear-gradient(90deg,#3a4cc0 0.2%,#3c4fc3 59.8%,#4860d1 93.7%,#4c66d6 99.8%)"></i><i style="top:2px;height:1px;background:linear-gradient(90deg,#3a4cc0 0.2%,#3c4fc3 59.8%,#4962d3 96.0%,#4c66d6 99.8%)"></i><i style="top:3px;height:1px;background:linear-gradient(90deg,#3a4cc0 0.2%,#3c4fc3 59.8%,#4962d3 96.0%,#4c66d6 99.8%)"></i><i style="top:4px;height:1px;background:linear-gradient(90deg,#3a4cc0 0.2%,#3c4fc3 59.8%,#4962d3 95.6%,#4c66d6 99.8%)"></i><i style="top:5px;height:1px;background:linear-gradient(90deg,#3a4cc0 0.2%,#3c4fc3 59.3%,#4962d3 95.6%,#4c66d6 99.8%)"></i><i style="top:6px;height:1px;background:linear-gradient(90deg,#3a4cc0 0.2%,#3c4fc3 59.3%,#4962d3 95.1%,#4c66d6 99.8%)"></i><i style="top:7px;height:1px;background:linear-gradient(90deg,#3a4cc0 0.2%,#3c4fc3 59.3%,#4962d3 94.7%,#4d67d7 99.8%)"></i><i style="top:8px;height:1px;background:linear-gradient(90deg,#3a4cc0 0.2%,#3c4fc3 58.8%,#4962d3 94.7%,#4d67d7 99.8%)"></i><i style="top:9px;height:1px;background:linear-gradient(90deg,#3a4cc0 0.2%,#3c4fc3 58.8%,#4962d3 94.2%,#4d67d7 99.8%)"></i><i style="top:10px;height:1px;background:linear-gradient(90deg,#3a4cc0 0.2%,#3c4fc3 58.4%,#4860d1 91.4%,#4d67d7 99.8%)"></i><i style="top:11px;height:1px;background:linear-gradient(90deg,#3a4cc0 0.2%,#3c4fc3 58.4%,#4962d3 93.3%,#4d67d7 99.8%)"></i><i style="top:12px;height:1px;background:linear-gradient(90deg,#3a4cc0 0.2%,#3c4fc3 57.9%,#4962d3 92.8%,#4e69d8 99.8%)"></i><i style="top:13px;height:1px;background:linear-gradient(90deg,#3a4cc0 0.2%,#3c4fc3 57.9%,#4962d3 92.8%,#4e69d8 99.8%)"></i><i style="top:14px;height:1px;background:linear-gradient(90deg,#3a4cc0 0.2%,#3c4fc3 57.9%,#4962d3 92.3%,#4e69d8 99.8%)"></i><i style="top:15px;height:1px;background:linear-gradient(90deg,#3a4cc0 0.2%,#3c4fc3 57.4%,#4962d3 91.9%,#4e69d8 99.8%)"></i><i style="top:16px;height:1px;background:linear-gradient(90deg,#3a4cc0 0.2%,#3c4fc3 57.4%,#4962d3 91.4%,#4e69d8 99.8%)"></i><i style="top:17px;height:1px;background:linear-gradient(90deg,#3a4cc0 0.2%,#3c4fc3 57.0%,#4962d3 91.4%,#506bda 99.8%)"></i><i style="top:18px;height:1px;background:linear-gradient(90deg,#3a4cc0 0.2%,#3c4fc3 57.0%,#4962d3 90.9%,#506bda 99.8%)"></i><i style="top:19px;height:1px;background:linear-gradient(90deg,#3a4cc0 0.2%,#3c4fc3 56.5%,#4962d3 90.5%,#506bda 99.8%)"></i><i style="top:20px;height:1px;background:linear-gradient(90deg,#3a4cc0 0.2%,#3c4fc3 56.5%,#4962d3 90.0%,#506bda 99.8%)"></i><i style="top:21px;height:1px;background:linear-gradient(90deg,#3a4cc0 0.2%,#3c4fc3 56.0%,#4962d3 90.0%,#516cdb 99.8%)"></i><i style="top:22px;height:1px;background:linear-gradient(90deg,#3a4cc0 0.2%,#3c4fc3 56.0%,#4962d3 89.5%,#516cdb 99.8%)"></i><i style="top:23px;height:1px;background:linear-gradient(90deg,#3a4cc0 0.2%,#3c4fc3 56.0%,#4962d3 89.1%,#516cdb 99.8%)"></i><i style="top:24px;height:1px;background:linear-gradient(90deg,#3a4cc0 0.2%,#3c4fc3 55.6%,#4962d3 88.6%,#516cdb 99.8%)"></i><i style="top:25px;height:1px;background:linear-gradient(90deg,#3a4cc0 0.2%,#3c4fc3 55.6%,#4962d3 88.6%,#526edc 99.8%)"></i><i style="top:26px;height:1px;background:linear-gradient(90deg,#3a4cc0 0.2%,#3c4fc3 55.1%,#4962d3 88.1%,#526edc 99.8%)"></i><i style="top:27px;height:1px;background:linear-gradient(90deg,#3a4cc0 0.2%,#3c4fc3 55.1%,#4962d3 87.7%,#526edc 99.8%)"></i><i style="top:28px;height:1px;background:linear-gradient(90deg,#3a4cc0 0.2%,#3c4fc3 54.7%,#4962d3 87.2%,#5370dd 99.8%)"></i><i style="top:29px;height:1px;background:linear-gradient(90deg,#3a4cc0 0.2%,#3c4fc3 54.7%,#4962d3 86.7%,#5370dd 99.8%)"></i><i style="top:30px;height:1px;background:linear-gradient(90deg,#3a4cc0 0.2%,#3c4fc3 54.2%,#4962d3 86.7%,#5370dd 99.8%)"></i><i style="top:31px;height:1px;background:linear-gradient(90deg,#3a4cc0 0.2%,#3c4fc3 54.2%,#4962d3 86.3%,#5370dd 99.8%)"></i><i style="top:32px;height:1px;background:linear-gradient(90deg,#3a4cc0 0.2%,#3c4fc3 53.7%,#4962d3 85.8%,#5571de 99.8%)"></i><i style="top:33px;height:1px;background:linear-gradient(90deg,#3a4cc0 0.2%,#3c4fc3 53.7%,#4962d3 85.3%,#5571de 99.8%)"></i><i style="top:34px;height:1px;background:linear-gradient(90deg,#3a4cc0 0.2%,#3c4fc3 53.3%,#4962d3 84.9%,#5571de 99.8%)"></i><i style="top:35px;height:1px;background:linear-gradient(90deg,#3a4cc0 0.2%,#3c4fc3 53.3%,#4962d3 84.9%,#5673e0 99.8%)"></i><i style="top:36px;height:1px;background:linear-gradient(90deg,#3a4cc0 0.2%,#3c4fc3 53.3%,#4962d3 84.4%,#5673e0 99.8%)"></i><i style="top:37px;height:1px;background:linear-gradient(90deg,#3a4cc0 0.2%,#3c4fc3 52.8%,#4962d3 84.0%,#5775e1 99.8%)"></i><i style="top:38px;height:1px;background:linear-gradient(90deg,#3a4cc0 0.2%,#3c4fc3 52.8%,#4962d3 83.5%,#5775e1 99.8%)"></i><i style="top:39px;height:1px;background:linear-gradient(90deg,#3a4cc0 0.2%,#3c4fc3 52.3%,#4962d3 83.5%,#5876e2 99.8%)"></i><i style="top:40px;height:1px;background:linear-gradient(90deg,#3a4cc0 0.2%,#3c4fc3 52.3%,#4962d3 83.0%,#5876e2 99.8%)"></i><i style="top:41px;height:1px;background:linear-gradient(90deg,#3a4cc0 0.2%,#3c4fc3 51.9%,#4962d3 82.6%,#5a78e3 99.8%)"></i><i style="top:42px;height:1px;background:linear-gradient(90deg,#3a4cc0 0.2%,#3c4fc3 51.9%,#4962d3 82.1%,#5a78e3 99.8%)"></i><i style="top:43px;height:1px;background:linear-gradient(90deg,#3a4cc0 0.2%,#3c4fc3 51.4%,#4962d3 81.6%,#5b79e4 99.8%)"></i><i style="top:44px;height:1px;background:linear-gradient(90deg,#3a4cc0 0.2%,#3c4fc3 51.4%,#4962d3 81.6%,#5c7be5 99.8%)"></i><i style="top:45px;height:1px;background:linear-gradient(90deg,#3a4cc0 0.2%,#3c4fc3 50.9%,#4962d3 81.2%,#5b79e4 98.4%,#5c7be5 99.8%)"></i><i style="top:46px;height:1px;background:linear-gradient(90deg,#3a4cc0 0.2%,#3c4fc3 50.9%,#4962d3 80.7%,#5b79e4 97.9%,#5d7de6 99.8%)"></i><i style="top:47px;height:1px;background:linear-gradient(90deg,#3a4cc0 0.2%,#3c4fc3 50.5%,#4962d3 80.2%,#5b79e4 97.4%,#5f7ee7 99.8%)"></i><i style="top:48px;height:1px;background:linear-gradient(90deg,#3a4cc0 0.2%,#3c4fc3 50.5%,#4962d3 79.8%,#5b79e4 97.0%,#6080e8 99.8%)"></i><i style="top:49px;height:1px;background:linear-gradient(90deg,#3a4cc0 0.2%,#3c4fc3 50.0%,#4962d3 79.8%,#5b79e4 96.5%,#6182ea 99.8%)"></i><i style="top:50px;height:1px;background:linear-gradient(90deg,#3a4cc0 0.2%,#3c4fc3 50.0%,#4962d3 79.3%,#5b79e4 96.0%,#6182ea 99.8%)"></i><i style="top:51px;height:1px;background:linear-gradient(90deg,#3a4cc0 0.2%,#3c4fc3 49.5%,#4962d3 78.8%,#5b79e4 95.6%,#6383ea 99.8%)"></i><i style="top:52px;height:1px;background:linear-gradient(90deg,#3a4cc0 0.2%,#3c4fc3 49.5%,#4962d3 78.4%,#5b79e4 95.1%,#6485eb 99.8%)"></i><i style="top:53px;height:1px;background:linear-gradient(90deg,#3a4cc0 0.2%,#3c4fc3 49.1%,#4962d3 77.9%,#5b79e4 94.7%,#6586ec 99.8%)"></i><i style="top:54px;height:1px;background:linear-gradient(90deg,#3a4cc0 0.2%,#3c4fc3 49.1%,#4962d3 77.4%,#5b79e4 94.2%,#6889ee 99.8%)"></i><i style="top:55px;height:1px;background:linear-gradient(90deg,#3a4cc0 0.2%,#3c4fc3 48.6%,#4962d3 77.4%,#5b79e4 93.7%,#698bef 99.8%)"></i><i style="top:56px;height:1px;background:linear-gradient(90deg,#3a4cc0 0.2%,#3c4fc3 48.6%,#4962d3 77.0%,#5b79e4 93.3%,#6b8df0 99.8%)"></i><i style="top:57px;height:1px;background:linear-gradient(90deg,#3a4cc0 0.2%,#3c4fc3 48.1%,#4962d3 76.5%,#5b79e4 92.8%,#6c8ef1 99.8%)"></i><i style="top:58px;height:1px;background:linear-gradient(90deg,#3a4cc0 0.2%,#3c4fc3 48.1%,#4962d3 76.0%,#5b79e4 92.3%,#6d90f1 99.8%)"></i><i style="top:59px;height:1px;background:linear-gradient(90deg,#3a4cc0 0.2%,#3c4fc3 47.7%,#4962d3 75.6%,#5b79e4 91.9%,#6f91f2 99.3%,#6f91f2 99.8%)"></i><i style="top:60px;height:1px;background:linear-gradient(90deg,#3a4cc0 0.2%,#3c4fc3 47.7%,#4962d3 75.1%,#5b79e4 91.4%,#7194f4 99.8%)"></i><i style="top:61px;height:1px;background:linear-gradient(90deg,#3a4cc0 0.2%,#3c4fc3 47.2%,#4962d3 75.1%,#5c7be5 91.4%,#7395f4 99.8%)"></i><i style="top:62px;height:1px;background:linear-gradient(90deg,#3a4cc0 0.2%,#3c4fc3 47.2%,#4962d3 74.7%,#5c7be5 90.9%,#7598f6 99.8%)"></i><i style="top:63px;height:1px;background:linear-gradient(90deg,#3a4cc0 0.2%,#3c4fc3 47.2%,#4962d3 74.2%,#5c7be5 90.5%,#779af6 99.8%)"></i><i style="top:64px;height:1px;background:linear-gradient(90deg,#3a4cc0 0.2%,#3c4fc3 46.7%,#4962d3 73.7%,#5c7be5 90.0%,#7a9df8 99.8%)"></i><i style="top:65px;height:1px;background:linear-gradient(90deg,#3a4cc0 0.2%,#3c4fc3 46.7%,#4962d3 73.3%,#5b79e4 88.6%,#7b9ef8 99.8%)"></i><i style="top:66px;height:1px;background:linear-gradient(90deg,#3a4cc0 0.2%,#3c4fc3 46.3%,#4962d3 72.8%,#5b79e4 88.1%,#789bf7 97.9%,#7ea1f9 99.8%)"></i><i style="top:67px;height:1px;background:linear-gradient(90deg,#3a4cc0 0.2%,#3c4fc3 46.3%,#4962d3 72.8%,#5b79e4 87.7%,#779af6 97.0%,#80a4fa 99.8%)"></i><i style="top:68px;height:1px;background:linear-gradient(90deg,#3a4cc0 0.2%,#3c4fc3 45.8%,#4962d3 72.3%,#5b79e4 87.2%,#7598f6 96.0%,#83a6fb 99.8%)"></i><i style="top:69px;height:1px;background:linear-gradient(90deg,#3a4cc0 0.2%,#3c4fc3 45.3%,#4962d3 71.9%,#5b79e4 86.7%,#7598f6 95.6%,#86a9fc 99.8%)"></i><i style="top:70px;height:1px;background:linear-gradient(90deg,#3a4cc0 0.2%,#3c4fc3 45.3%,#4962d3 71.4%,#5b79e4 86.3%,#7497f5 94.7%,#89acfc 99.8%)"></i><i style="top:71px;height:1px;background:linear-gradient(90deg,#3a4cc0 0.2%,#3c4fc3 44.9%,#4962d3 70.9%,#5b79e4 85.8%,#7497f5 94.2%,#8baefd 99.8%)"></i><i style="top:72px;height:1px;background:linear-gradient(90deg,#3a4cc0 0.2%,#3c4fc3 44.9%,#4962d3 70.5%,#5b79e4 85.3%,#779af6 94.2%,#8eb1fd 99.8%)"></i><i style="top:73px;height:1px;background:linear-gradient(90deg,#3a4cc0 0.2%,#3c4fc3 44.4%,#4860d1 68.6%,#5b79e4 84.9%,#779af6 93.7%,#91b3fe 99.8%)"></i><i style="top:74px;height:1px;background:linear-gradient(90deg,#3a4cc0 0.2%,#3c4fc3 44.4%,#4860d1 68.1%,#5b79e4 84.4%,#789bf7 93.3%,#94b5fe 99.3%,#94b5fe 99.8%)"></i><i style="top:75px;height:1px;background:linear-gradient(90deg,#3a4cc0 0.2%,#3c4fc3 44.0%,#4962d3 69.5%,#5c7be5 84.4%,#7ca0f9 93.7%,#97b8fe 99.8%)"></i><i style="top:76px;height:1px;background:linear-gradient(90deg,#3a4cc0 0.2%,#3c4fc3 44.0%,#4962d3 69.1%,#5c7be5 84.0%,#80a4fa 94.2%,#98b9fe 99.3%,#99bafe 99.8%)"></i><i style="top:77px;height:1px;background:linear-gradient(90deg,#3a4cc0 0.2%,#3c4fc3 43.5%,#4860d1 67.2%,#5b79e4 83.0%,#7ca0f9 92.8%,#9bbbfe 99.3%,#9cbcfe 99.8%)"></i><i style="top:78px;height:1px;background:linear-gradient(90deg,#3a4cc0 0.2%,#3c4fc3 43.5%,#4962d3 68.1%,#5c7be5 83.0%,#7b9ef8 91.9%,#9dbdfe 99.3%,#9dbdfe 99.8%)"></i><i style="top:79px;height:1px;background:linear-gradient(90deg,#3a4cc0 0.2%,#3c4fc3 43.0%,#4860d1 66.3%,#5b79e4 82.1%,#789bf7 90.5%,#9cbcfe 98.4%,#a0bffe 99.8%)"></i><i style="top:80px;height:1px;background:linear-gradient(90deg,#3a4cc0 0.2%,#3c4fc3 43.0%,#4962d3 67.2%,#5b79e4 81.2%,#7598f6 89.5%,#9dbdfe 97.9%,#a2c0fe 99.8%)"></i><i style="top:81px;height:1px;background:linear-gradient(90deg,#3a4cc0 0.2%,#3c4fc3 42.6%,#4962d3 67.2%,#5b79e4 80.7%,#7497f5 88.6%,#9cbcfe 97.0%,#a3c1fe 99.8%)"></i><i style="top:82px;height:1px;background:linear-gradient(90deg,#3a4cc0 0.2%,#3c4fc3 42.6%,#4962d3 66.7%,#5b79e4 80.2%,#7497f5 88.1%,#9bbbfe 96.0%,#a6c3fd 99.8%)"></i><i style="top:83px;height:1px;background:linear-gradient(90deg,#3a4cc0 0.2%,#3c4fc3 42.1%,#4962d3 66.3%,#5b79e4 79.8%,#779af6 88.1%,#9dbdfe 96.0%,#a7c4fd 99.8%)"></i><i style="top:84px;height:1px;background:linear-gradient(90deg,#3a4cc0 0.2%,#3c4fc3 42.1%,#4962d3 65.8%,#5b79e4 79.3%,#7598f6 87.2%,#9dbdfe 95.6%,#a8c5fd 99.8%)"></i><i style="top:85px;height:1px;background:linear-gradient(90deg,#3a4cc0 0.2%,#3c4fc3 41.6%,#4962d3 65.3%,#5876e2 77.4%,#7194f4 85.8%,#9bbbfe 94.2%,#aac6fd 99.8%)"></i><i style="top:86px;height:1px;background:linear-gradient(90deg,#3a4cc0 0.2%,#3c4fc3 41.6%,#4962d3 64.9%,#5876e2 77.0%,#7093f3 84.9%,#97b8fe 92.8%,#abc7fc 98.8%,#abc7fc 99.8%)"></i><i style="top:87px;height:1px;background:linear-gradient(90deg,#3a4cc0 0.2%,#3c4fc3 41.2%,#4962d3 64.4%,#5876e2 76.5%,#7497f5 85.3%,#99bafe 92.8%,#acc8fc 98.8%,#aec9fc 99.8%)"></i><i style="top:88px;height:1px;background:linear-gradient(90deg,#3a4cc0 0.2%,#3c4fc3 41.2%,#4962d3 64.0%,#5876e2 76.0%,#7395f4 84.4%,#98b9fe 91.9%,#afcafb 99.3%,#afcafb 99.8%)"></i><i style="top:89px;height:1px;background:linear-gradient(90deg,#3a4cc0 0.2%,#3c4fc3 40.7%,#4962d3 64.0%,#5b79e4 77.0%,#7ca0f9 85.8%,#9fbefe 92.8%,#b0cbfb 99.8%)"></i><i style="top:90px;height:1px;background:linear-gradient(90deg,#3a4cc0 0.2%,#3c4fc3 40.7%,#4962d3 63.5%,#5c7be5 77.0%,#789bf7 84.4%,#9dbdfe 91.9%,#b2cbfb 99.3%,#b2cbfb 99.8%)"></i><i style="top:91px;height:1px;background:linear-gradient(90deg,#3a4cc0 0.2%,#3c4fc3 40.2%,#4962d3 63.0%,#5b79e4 75.6%,#7497f5 83.0%,#9bbbfe 90.5%,#b4cdfa 99.8%)"></i><i style="top:92px;height:1px;background:linear-gradient(90deg,#3a4cc0 0.2%,#3c4fc3 39.8%,#4860d1 61.2%,#5b79e4 75.1%,#7598f6 82.6%,#9cbcfe 90.5%,#b3ccfa 97.9%,#b6cef9 99.8%)"></i><i style="top:93px;height:1px;background:linear-gradient(90deg,#3a4cc0 0.2%,#3c4fc3 39.8%,#4962d3 62.1%,#5b79e4 74.7%,#7598f6 82.1%,#99bafe 89.1%,#aec9fc 95.6%,#b7cff9 99.8%)"></i><i style="top:94px;height:1px;background:linear-gradient(90deg,#3a4cc0 0.2%,#3c4fc3 39.3%,#4962d3 61.6%,#5b79e4 74.2%,#7598f6 81.6%,#9cbcfe 89.1%,#b8cff8 99.3%,#b9d0f8 99.8%)"></i><i style="top:95px;height:1px;background:linear-gradient(90deg,#3a4cc0 0.2%,#3c4fc3 39.3%,#4860d1 59.8%,#5b79e4 73.7%,#7b9ef8 82.1%,#9fbefe 89.1%,#bbd1f7 99.8%)"></i><i style="top:96px;height:1px;background:linear-gradient(90deg,#3a4cc0 0.2%,#3c4fc3 38.8%,#4860d1 59.3%,#5b79e4 73.3%,#779af6 80.7%,#9dbdfe 88.1%,#bcd1f6 98.8%,#bcd1f6 99.8%)"></i><i style="top:97px;height:1px;background:linear-gradient(90deg,#3a4cc0 0.2%,#3c4fc3 38.8%,#4962d3 60.2%,#5c7be5 73.3%,#86a9fc 83.0%,#a2c0fe 88.6%,#bed3f5 99.8%)"></i><i style="top:98px;height:1px;background:linear-gradient(90deg,#3a4cc0 0.2%,#3c4fc3 38.4%,#4962d3 59.8%,#5c7be5 72.8%,#82a5fb 81.6%,#a4c2fe 88.6%,#c0d3f5 99.8%)"></i><i style="top:99px;height:1px;background:linear-gradient(90deg,#3a4cc0 0.2%,#3c4fc3 38.4%,#4962d3 59.3%,#5b79e4 71.4%,#7497f5 78.4%,#99bafe 85.3%,#b7cff9 94.7%,#c2d4f3 99.8%)"></i><i style="top:100px;height:1px;background:linear-gradient(90deg,#3a4cc0 0.2%,#3c4fc3 37.9%,#4962d3 59.3%,#5b79e4 70.9%,#779af6 78.4%,#9cbcfe 85.3%,#b8cff8 94.7%,#c5d5f2 99.8%)"></i><i style="top:101px;height:1px;background:linear-gradient(90deg,#3a4cc0 0.2%,#3c4fc3 37.9%,#4962d3 58.8%,#5b79e4 70.5%,#7598f6 77.4%,#9bbbfe 84.4%,#bed3f5 96.0%,#c6d6f1 99.8%)"></i><i style="top:102px;height:1px;background:linear-gradient(90deg,#3a4cc0 0.2%,#3c4fc3 37.4%,#4962d3 58.4%,#5b79e4 70.0%,#789bf7 77.4%,#9cbcfe 84.0%,#bdd2f6 95.1%,#c8d7ef 99.8%)"></i><i style="top:103px;height:1px;background:linear-gradient(90deg,#3a4cc0 0.2%,#3c4fc3 37.0%,#4962d3 57.9%,#5d7de6 70.5%,#80a4fa 78.4%,#9fbefe 84.0%,#c3d5f2 96.5%,#cad8ee 99.8%)"></i><i style="top:104px;height:1px;background:linear-gradient(90deg,#3a4cc0 0.2%,#3c4fc3 37.0%,#4962d3 57.4%,#5d7de6 70.0%,#82a5fb 77.9%,#a3c1fe 84.4%,#c7d6f0 97.0%,#ccd8ed 99.8%)"></i><i style="top:105px;height:1px;background:linear-gradient(90deg,#3a4cc0 0.2%,#3c4fc3 36.5%,#4860d1 55.6%,#5a78e3 67.7%,#7395f4 74.7%,#99bafe 81.6%,#afcafb 87.7%,#ced9eb 99.8%)"></i><i style="top:106px;height:1px;background:linear-gradient(90deg,#3a4cc0 0.2%,#3c4fc3 36.5%,#4962d3 56.5%,#5c7be5 68.1%,#7ea1f9 76.0%,#9fbefe 82.1%,#c5d5f2 94.7%,#d0dae9 99.8%)"></i><i style="top:107px;height:1px;background:linear-gradient(90deg,#3a4cc0 0.2%,#3c4fc3 36.0%,#4962d3 56.0%,#5c7be5 67.7%,#7ca0f9 75.1%,#9fbefe 81.6%,#c1d4f4 92.8%,#d2dae7 99.8%)"></i><i style="top:108px;height:1px;background:linear-gradient(90deg,#3a4cc0 0.2%,#3c4fc3 36.0%,#4962d3 55.6%,#5c7be5 67.2%,#7ca0f9 74.7%,#9dbdfe 80.7%,#b8cff8 89.1%,#d5dbe5 99.8%)"></i><i style="top:109px;height:1px;background:linear-gradient(90deg,#3a4cc0 0.2%,#3c4fc3 35.6%,#4962d3 55.1%,#5c7be5 66.7%,#7b9ef8 73.7%,#9dbdfe 79.8%,#c1d4f4 91.4%,#d8dbe1 99.8%)"></i><i style="top:110px;height:1px;background:linear-gradient(90deg,#3a4cc0 0.2%,#3c4fc3 35.1%,#4962d3 54.7%,#5c7be5 66.3%,#7ca0f9 73.3%,#a2c0fe 80.2%,#c6d6f1 92.3%,#dbdcde 99.8%)"></i><i style="top:111px;height:1px;background:linear-gradient(90deg,#3a4cc0 0.2%,#3c4fc3 35.1%,#4962d3 54.2%,#5b79e4 64.9%,#7093f3 70.5%,#98b9fe 77.4%,#b8cff8 86.7%,#d5dbe5 96.5%,#dedbda 99.8%)"></i><i style="top:112px;height:1px;background:linear-gradient(90deg,#3a4cc0 0.2%,#3c4fc3 34.7%,#4860d1 52.8%,#5b79e4 64.4%,#7598f6 70.9%,#9dbdfe 77.9%,#c1d4f4 89.1%,#d8dbe1 96.5%,#e1dad6 99.8%)"></i><i style="top:113px;height:1px;background:linear-gradient(90deg,#3a4cc0 0.2%,#3c4fc3 34.7%,#4962d3 53.3%,#5b79e4 64.0%,#7b9ef8 71.4%,#9cbcfe 77.0%,#b7cff9 84.9%,#d7dbe2 95.6%,#e5d8d0 99.8%)"></i><i style="top:114px;height:1px;background:linear-gradient(90deg,#3a4cc0 0.2%,#3c4fc3 34.2%,#4962d3 52.8%,#5c7be5 64.0%,#7ca0f9 70.9%,#9cbcfe 76.5%,#bcd1f6 85.8%,#d8dbe1 95.1%,#e8d5ca 99.8%)"></i><i style="top:115px;height:1px;background:linear-gradient(90deg,#3a4cc0 0.2%,#3c4fc3 34.2%,#4962d3 52.3%,#5b79e4 63.0%,#789bf7 69.5%,#9cbcfe 75.6%,#c1d4f4 86.7%,#dbdcde 95.1%,#ecd2c4 99.8%)"></i><i style="top:116px;height:1px;background:linear-gradient(90deg,#3a4cc0 0.2%,#3c4fc3 33.7%,#4962d3 51.9%,#5a78e3 62.1%,#7497f5 68.1%,#9bbbfe 74.7%,#bdd2f6 84.9%,#d9dce0 93.7%,#eecfbe 99.3%,#eecfbe 99.8%)"></i><i style="top:117px;height:1px;background:linear-gradient(90deg,#3a4cc0 0.2%,#3c4fc3 33.3%,#4962d3 51.4%,#5b79e4 61.6%,#779af6 68.1%,#9dbdfe 74.7%,#c1d4f4 85.3%,#d9dce0 92.8%,#ecd2c4 97.4%,#f1cab6 99.8%)"></i><i style="top:118px;height:1px;background:linear-gradient(90deg,#3a4cc0 0.2%,#3c4fc3 33.3%,#4962d3 50.9%,#5b79e4 61.2%,#789bf7 67.7%,#a2c0fe 74.7%,#c7d6f0 86.3%,#dbdcde 92.3%,#ecd2c4 96.5%,#f3c6b0 99.3%,#f3c6b0 99.8%)"></i><i style="top:119px;height:1px;background:linear-gradient(90deg,#3a4cc0 0.2%,#3c4fc3 32.8%,#4962d3 50.5%,#5b79e4 60.7%,#7598f6 66.7%,#9dbdfe 73.3%,#c3d5f2 84.4%,#dadcdf 91.4%,#edd0c1 96.0%,#f4c2aa 99.3%,#f5c1a8 99.8%)"></i><i style="top:120px;height:1px;background:linear-gradient(90deg,#3a4cc0 0.2%,#3c4fc3 32.8%,#4962d3 50.5%,#5a78e3 59.8%,#7497f5 65.8%,#99bafe 71.9%,#b3ccfa 78.4%,#d2dae7 88.6%,#e2d9d4 92.3%,#f2c7b2 97.0%,#f6bca2 99.3%,#f6bca2 99.8%)"></i><i style="top:121px;height:1px;background:linear-gradient(90deg,#3a4cc0 0.2%,#3c4fc3 32.3%,#4860d1 48.6%,#5876e2 58.4%,#6d90f1 64.0%,#95b7fe 70.5%,#afcafb 76.5%,#d0dae9 86.7%,#e3d9d3 91.9%,#f4c2aa 97.0%,#f6b69a 99.8%)"></i><i style="top:122px;height:1px;background:linear-gradient(90deg,#3a4cc0 0.2%,#3c4fc3 31.9%,#4860d1 48.1%,#5876e2 57.9%,#6f91f2 63.5%,#98b9fe 70.0%,#bbd1f7 79.3%,#d6dbe4 87.7%,#e5d8d0 91.4%,#f6ba9f 97.4%,#f7b194 99.3%,#f7b194 99.8%)"></i><i style="top:123px;height:1px;background:linear-gradient(90deg,#3a4cc0 0.2%,#3c4fc3 31.9%,#4b64d4 50.0%,#5c7be5 58.8%,#7ca0f9 65.3%,#9fbefe 70.9%,#c6d6f1 82.1%,#dedbda 89.1%,#f3c6b0 94.7%,#f7ad8f 98.8%,#f6ab8d 99.8%)"></i><i style="top:124px;height:1px;background:linear-gradient(90deg,#3a4cc0 0.2%,#3c4fc3 31.4%,#4860d1 47.2%,#5c7be5 58.4%,#7ea1f9 64.9%,#a0bffe 70.5%,#c6d6f1 81.2%,#dedbda 88.1%,#f3c6b0 93.7%,#f6aa8c 98.4%,#f6a687 99.8%)"></i><i style="top:125px;height:1px;background:linear-gradient(90deg,#3a4cc0 0.2%,#3c4fc3 30.9%,#4860d1 46.7%,#5876e2 56.0%,#6c8ef1 61.2%,#94b5fe 67.7%,#abc7fc 72.3%,#ced9eb 83.0%,#e2d9d4 88.1%,#f4c2aa 93.7%,#f6a486 98.4%,#f5a182 99.8%)"></i><i style="top:126px;height:1px;background:linear-gradient(90deg,#3a4cc0 0.2%,#3c4fc3 30.9%,#4860d1 46.3%,#5876e2 55.6%,#7497f5 62.1%,#98b9fe 67.7%,#b6cef9 74.7%,#d2dae7 83.5%,#e2d9d4 87.2%,#f4c2aa 92.8%,#f49d7e 98.8%,#f49b7c 99.8%)"></i><i style="top:127px;height:1px;background:linear-gradient(90deg,#3a4cc0 0.2%,#3c4fc3 30.5%,#4860d1 45.8%,#5b79e4 56.0%,#789bf7 62.1%,#99bafe 67.2%,#b3ccfa 73.3%,#d6dbe4 83.5%,#e7d6cc 87.7%,#f5bfa5 92.3%,#f39678 99.3%,#f39678 99.8%)"></i><i style="top:128px;height:1px;background:linear-gradient(90deg,#3a4cc0 0.2%,#3c4fc3 30.5%,#4962d3 46.3%,#5b79e4 55.6%,#7ca0f9 62.1%,#9dbdfe 67.2%,#bbd1f7 74.7%,#d7dbe2 83.0%,#e7d6cc 86.7%,#f6bba0 91.9%,#f19072 99.3%,#f19072 99.8%)"></i><i style="top:129px;height:1px;background:linear-gradient(90deg,#3a4cc0 0.2%,#3c4fc3 30.0%,#4860d1 44.9%,#5876e2 54.2%,#789bf7 60.7%,#9bbbfe 65.8%,#b8cff8 73.3%,#d6dbe4 81.6%,#e5d8d0 85.3%,#f5bfa5 90.5%,#f6a687 94.7%,#ef896c 99.3%,#ef896c 99.8%)"></i><i style="top:130px;height:1px;background:linear-gradient(90deg,#3a4cc0 0.2%,#3c4fc3 29.5%,#4860d1 44.4%,#5b79e4 54.2%,#7395f4 59.3%,#99bafe 64.9%,#bbd1f7 73.3%,#d6dbe4 80.7%,#e5d8d0 84.4%,#f6bca2 90.0%,#f6aa8c 92.8%,#f08d6f 97.9%,#ec8064 99.8%)"></i><i style="top:131px;height:1px;background:linear-gradient(90deg,#3a4cc0 0.2%,#3c4fc3 29.5%,#4962d3 44.9%,#5c7be5 54.2%,#83a6fb 61.2%,#a4c2fe 66.3%,#cad8ee 77.0%,#e1dad6 82.6%,#f5c0a7 88.6%,#f6a789 92.3%,#f08b6d 97.4%,#e7755c 99.8%)"></i><i style="top:132px;height:1px;background:linear-gradient(90deg,#3a4cc0 0.2%,#3c4fc3 29.1%,#4860d1 43.5%,#5a78e3 52.8%,#7598f6 58.4%,#9dbdfe 64.4%,#b7cff9 70.5%,#d5dbe5 78.8%,#e5d8d0 82.6%,#f6bda4 88.1%,#f59e7f 92.8%,#ed8467 97.4%,#e26a53 99.8%)"></i><i style="top:133px;height:1px;background:linear-gradient(90deg,#3a4cc0 0.2%,#3c4fc3 28.6%,#4860d1 43.0%,#5775e1 51.4%,#7194f4 57.0%,#99bafe 63.0%,#b9d0f8 70.5%,#d5dbe5 77.9%,#e5d8d0 81.6%,#f5c0a7 86.7%,#f39879 92.8%,#ec8266 97.0%,#dc5e4b 99.8%)"></i><i style="top:134px;height:1px;background:linear-gradient(90deg,#3a4cc0 0.2%,#3c4fc3 28.6%,#4962d3 43.5%,#5b79e4 51.9%,#789bf7 57.4%,#9bbbfe 62.6%,#bbd1f7 70.0%,#d6dbe4 77.4%,#e7d6cc 81.2%,#f6bca2 86.3%,#f29173 92.8%,#e7755c 97.4%,#d85646 99.3%,#d75444 99.8%)"></i><i style="top:135px;height:1px;background:linear-gradient(90deg,#3a4cc0 0.2%,#3c4fc3 28.1%,#4962d3 43.0%,#5b79e4 51.4%,#7ca0f9 57.4%,#9cbcfe 62.1%,#bbd1f7 69.1%,#d6dbe4 76.5%,#e7d6cd 80.2%,#f6b99d 85.8%,#f39879 90.9%,#e9795e 95.6%,#e36c54 97.4%,#d24b3f 99.3%,#cf463d 99.8%)"></i><i style="top:136px;height:1px;background:linear-gradient(90deg,#3a4cc0 0.2%,#3c4fc3 28.1%,#4962d3 42.6%,#5a78e3 50.5%,#789bf7 56.0%,#9cbcfe 61.2%,#bdd2f6 69.1%,#dadcdf 76.5%,#eecfbe 81.2%,#f7ad8f 86.7%,#f39879 90.0%,#e67259 94.7%,#de624e 97.4%,#cc3f39 99.3%,#c93b37 99.8%)"></i><i style="top:137px;height:1px;background:linear-gradient(90deg,#3a4cc0 0.2%,#3c4fc3 27.7%,#4962d3 42.1%,#5c7be5 50.5%,#86a9fc 57.4%,#a0bffe 61.2%,#c6d6f1 70.5%,#dedbda 76.5%,#f1cab6 81.2%,#f6ab8d 85.8%,#f39576 89.5%,#e26a53 93.7%,#d85646 97.4%,#c43032 99.8%)"></i><i style="top:138px;height:1px;background:linear-gradient(90deg,#3a4cc0 0.2%,#3c4fc3 27.2%,#4962d3 41.6%,#5b79e4 49.5%,#7497f5 54.2%,#9cbcfe 59.8%,#bbd1f7 66.7%,#d6dbe4 73.7%,#e8d5ca 77.9%,#f6b99d 83.0%,#f49b7c 87.7%,#ef896c 90.0%,#da5a48 93.7%,#d34d40 95.6%,#d24b3f 97.0%,#c93b37 98.4%,#bf282e 99.8%)"></i><i style="top:139px;height:1px;background:linear-gradient(90deg,#3a4cc0 0.2%,#3c4fc3 27.2%,#4962d3 41.2%,#5b79e4 48.6%,#6c8ef1 52.3%,#97b8fe 58.4%,#b2cbfb 63.5%,#d1dae8 71.9%,#e3d9d3 75.6%,#f5c0a7 81.2%,#f6a384 85.3%,#ee876a 89.5%,#d1493e 93.7%,#c93b37 95.6%,#c83835 97.4%,#be232d 99.8%)"></i><i style="top:140px;height:1px;background:linear-gradient(90deg,#3a4cc0 0.2%,#3c4fc3 26.7%,#4962d3 40.7%,#5775e1 47.2%,#7497f5 52.8%,#98b9fe 57.9%,#b8cff8 64.4%,#d6dbe4 71.9%,#e7d6cc 75.6%,#f6bca2 80.7%,#f39576 86.3%,#eb7f63 89.5%,#c93b37 93.3%,#be232d 95.1%,#be232d 96.0%,#c12a30 97.4%,#bf282e 99.3%,#be232d 99.8%)"></i><i style="top:141px;height:1px;background:linear-gradient(90deg,#3a4cc0 0.2%,#3c4fc3 26.3%,#4962d3 40.2%,#5b79e4 47.7%,#7ca0f9 53.3%,#9cbcfe 57.9%,#bbd1f7 64.4%,#d9dce0 71.9%,#efcebc 76.5%,#f7ad8f 82.1%,#f08d6f 86.3%,#ea7b60 89.1%,#e06650 90.5%,#c12a30 93.3%,#b60d28 94.7%,#b50827 95.6%,#b9162a 97.0%,#bf282e 98.4%,#c22d31 99.8%)"></i><i style="top:142px;height:1px;background:linear-gradient(90deg,#3a4cc0 0.2%,#3c4fc3 26.3%,#4b64d4 40.2%,#5d7de6 47.7%,#85a8fb 53.7%,#a2c0fe 57.9%,#c6d6f1 66.3%,#e0dad7 72.3%,#f3c6b0 77.0%,#f5a182 82.6%,#ea7d61 87.2%,#e36c54 89.5%,#cf463d 91.4%,#b50827 93.7%,#b30326 94.7%,#b30326 96.5%,#bf282e 97.9%,#c83835 99.8%)"></i><i style="top:143px;height:1px;background:linear-gradient(90deg,#3a4cc0 0.2%,#3c4fc3 25.8%,#4b64d4 39.8%,#5c7be5 46.7%,#86a9fc 53.3%,#a0bffe 57.0%,#c0d3f5 64.0%,#dcdcdd 70.5%,#f0ccb9 75.1%,#f7ae91 79.8%,#ec8266 84.9%,#e46e56 87.7%,#dd604c 89.5%,#d65243 90.5%,#b9162a 92.8%,#b50827 93.3%,#b30326 94.2%,#b30326 96.0%,#b50827 96.5%,#c43032 97.9%,#cd423a 98.8%,#d1493e 99.8%)"></i><i style="top:144px;height:1px;background:linear-gradient(90deg,#3a4cc0 0.2%,#3c4fc3 25.3%,#4962d3 38.4%,#5a78e3 45.3%,#7497f5 50.0%,#9dbdfe 55.6%,#c0d3f5 63.0%,#dcdcdd 69.5%,#f0ccb9 74.2%,#f7ad8f 78.8%,#f19072 82.6%,#e06650 86.3%,#d75444 89.5%,#c12a30 91.9%,#b30326 93.7%,#b30326 95.1%,#b81129 96.0%,#d24b3f 98.4%,#dc5e4b 99.8%)"></i><i style="top:145px;height:1px;background:linear-gradient(90deg,#3a4cc0 0.2%,#3c4fc3 24.9%,#4860d1 37.4%,#5c7be5 45.3%,#86a9fc 51.9%,#a7c4fd 56.5%,#cad8ee 64.9%,#e1dad6 69.5%,#f5c1a8 75.1%,#f5a081 79.8%,#ee8669 82.6%,#dc5e4b 85.3%,#d24b3f 87.7%,#cf463d 89.5%,#bb1a2b 93.3%,#bb1a2b 94.2%,#c43032 96.0%,#e67259 99.3%,#e6745a 99.8%)"></i><i style="top:146px;height:1px;background:linear-gradient(90deg,#3a4cc0 0.2%,#3c4fc3 24.9%,#4962d3 37.4%,#5b79e4 44.4%,#779af6 49.1%,#99bafe 53.7%,#b6cef9 58.8%,#d1dae8 65.3%,#e1dad6 68.6%,#f5c0a7 74.2%,#f39879 79.8%,#ef896c 81.6%,#d24b3f 85.3%,#ca3d38 86.7%,#c83835 89.1%,#c22d31 92.3%,#cd423a 95.1%,#dc5e4b 97.0%,#ed8467 98.8%,#f08d6f 99.8%)"></i><i style="top:147px;height:1px;background:linear-gradient(90deg,#3a4cc0 0.2%,#3c4fc3 24.4%,#4860d1 36.0%,#5a78e3 43.5%,#7598f6 48.1%,#95b7fe 52.3%,#b7cff9 58.4%,#d6dbe4 65.3%,#e4d8d1 68.1%,#f6bca2 73.7%,#f29375 79.3%,#eb7f63 81.6%,#d1493e 84.4%,#c12a30 86.3%,#be232d 87.7%,#c83835 91.9%,#e26a53 96.0%,#f49b7c 98.8%,#f6a384 99.8%)"></i><i style="top:148px;height:1px;background:linear-gradient(90deg,#3a4cc0 0.2%,#3c4fc3 24.0%,#4860d1 35.6%,#5b79e4 43.0%,#779af6 47.7%,#98b9fe 51.9%,#bdd2f6 58.8%,#d8dbe1 64.9%,#ebd3c6 68.6%,#f7b194 74.2%,#f08d6f 78.8%,#e7755c 81.6%,#c43032 84.9%,#b81129 86.3%,#b50827 87.7%,#bf282e 89.5%,#c53233 90.5%,#dc5e4b 93.3%,#f39576 97.0%,#f7b598 99.3%,#f6b79c 99.8%)"></i><i style="top:149px;height:1px;background:linear-gradient(90deg,#3a4cc0 0.2%,#3c4fc3 24.0%,#4962d3 36.0%,#5d7de6 43.0%,#80a4fa 48.1%,#a0bffe 52.3%,#c3d5f2 59.3%,#dcdcdd 64.9%,#f3c6b0 70.0%,#f5a081 75.1%,#ec8064 78.8%,#e67259 81.2%,#d44f42 83.0%,#b9162a 85.3%,#b50827 85.8%,#b30326 86.7%,#b30326 87.7%,#bb1a2b 89.1%,#c93b37 90.5%,#e36c54 92.8%,#f18e70 94.7%,#f6b99d 97.9%,#f3c6b0 99.3%,#f2c7b2 99.8%)"></i><i style="top:150px;height:1px;background:linear-gradient(90deg,#3a4cc0 0.2%,#3c4fc3 23.5%,#4962d3 35.6%,#5c7be5 42.1%,#8aadfd 48.6%,#a2c0fe 51.9%,#c5d5f2 58.8%,#dfdbd9 64.4%,#f3c6b0 69.1%,#f6a384 73.7%,#e9795e 77.9%,#dd604c 81.6%,#bf282e 84.4%,#b81129 85.3%,#b30326 86.3%,#b30326 87.2%,#b81129 88.1%,#d75444 90.9%,#f39576 93.7%,#f6bba0 96.5%,#ebd3c6 99.3%,#ead3c7 99.8%)"></i><i style="top:151px;height:1px;background:linear-gradient(90deg,#3a4cc0 0.2%,#3c4fc3 23.0%,#4962d3 34.7%,#5d7de6 41.6%,#87aafc 47.7%,#a4c2fe 51.4%,#ccd8ed 59.3%,#e0dad7 63.5%,#f3c6b0 68.1%,#f6a384 72.8%,#e57057 77.0%,#db5c4a 79.8%,#d75444 81.6%,#be232d 84.9%,#bb1a2b 85.3%,#bb1a2b 86.7%,#c63534 88.6%,#e26a53 90.9%,#f5a182 93.3%,#f6bda4 95.1%,#e5d8d0 98.4%,#dfdbd9 99.8%)"></i><i style="top:152px;height:1px;background:linear-gradient(90deg,#3a4cc0 0.2%,#3c4fc3 22.6%,#4962d3 34.2%,#5c7be5 40.7%,#7fa2fa 45.8%,#aac6fd 51.4%,#cdd9ec 58.8%,#e3d9d3 63.0%,#f5c0a7 68.1%,#f49b7c 72.8%,#dc5e4b 77.0%,#d34d40 78.8%,#cf463d 81.6%,#c43032 84.4%,#c63534 86.3%,#d1493e 88.1%,#e8775d 90.5%,#f6ab8d 92.8%,#f2c7b2 94.7%,#dddcdb 97.9%,#d5dbe5 99.8%)"></i><i style="top:153px;height:1px;background:linear-gradient(90deg,#3a4cc0 0.2%,#3c4fc3 22.6%,#4962d3 33.7%,#5b79e4 39.8%,#7b9ef8 44.4%,#a2c0fe 49.5%,#bdd2f6 54.7%,#d7dbe2 59.8%,#ebd3c6 63.5%,#f7b194 69.1%,#f08d6f 73.3%,#d65243 76.5%,#c93b37 78.4%,#c93b37 80.7%,#cc3f39 84.4%,#dc5e4b 87.7%,#f19072 90.5%,#f6bca2 92.8%,#e8d5ca 95.1%,#d9dce0 97.0%,#cad8ee 99.8%)"></i><i style="top:154px;height:1px;background:linear-gradient(90deg,#3a4cc0 0.2%,#3c4fc3 22.1%,#4860d1 32.3%,#5673e0 37.9%,#7497f5 43.0%,#90b2fe 46.3%,#b7cff9 52.3%,#d3dbe6 58.4%,#e4d8d1 61.2%,#f5c0a7 65.8%,#f39678 71.4%,#ed8467 73.3%,#cd423a 76.5%,#c12a30 77.9%,#be232d 79.3%,#d24b3f 84.0%,#f08b6d 88.6%,#f6b69a 91.4%,#ebd3c6 93.7%,#dbdcde 95.6%,#c7d6f0 98.4%,#c3d5f2 99.8%)"></i><i style="top:155px;height:1px;background:linear-gradient(90deg,#3a4cc0 0.2%,#3c4fc3 21.6%,#4860d1 31.9%,#5b79e4 38.4%,#7b9ef8 43.0%,#97b8fe 46.3%,#bed3f5 52.8%,#d9dce0 58.4%,#efcdbb 62.6%,#f7ad8f 67.2%,#ec8064 72.8%,#e16852 74.2%,#c53233 76.5%,#b9162a 77.9%,#b81129 78.8%,#b9162a 79.8%,#d75444 83.5%,#f18e70 86.7%,#f6bca2 90.5%,#e7d6cd 93.3%,#d3dbe6 95.6%,#c0d3f5 98.8%,#bed3f5 99.8%)"></i><i style="top:156px;height:1px;background:linear-gradient(90deg,#3a4cc0 0.2%,#3c4fc3 21.2%,#4860d1 31.4%,#5a78e3 37.4%,#7ca0f9 42.6%,#9dbdfe 46.3%,#c0d3f5 52.3%,#dcdcdd 57.9%,#efcebc 61.6%,#f7ae91 65.8%,#f08b6d 70.0%,#e8775d 72.8%,#e16852 73.7%,#c12a30 76.5%,#b60d28 77.9%,#b81129 79.3%,#bc1f2c 80.2%,#db5c4a 83.0%,#f19072 85.3%,#f7ad8f 87.2%,#efcebc 90.9%,#dcdcdd 93.7%,#c2d4f3 97.4%,#bdd2f6 99.8%)"></i><i style="top:157px;height:1px;background:linear-gradient(90deg,#3a4cc0 0.2%,#3c4fc3 21.2%,#4962d3 31.4%,#5b79e4 37.0%,#82a5fb 42.6%,#9dbdfe 45.3%,#c5d5f2 52.3%,#dfdbd9 57.4%,#f1cbb8 61.2%,#f6a384 65.8%,#ec8064 69.5%,#e46e56 72.8%,#d44f42 74.7%,#be232d 77.0%,#bb1a2b 78.4%,#c53233 80.2%,#d95847 82.1%,#f29173 84.4%,#f7b092 85.8%,#f2c8b3 88.1%,#dddcdb 92.8%,#c6d6f1 97.0%,#c0d3f5 99.8%)"></i><i style="top:158px;height:1px;background:linear-gradient(90deg,#3a4cc0 0.2%,#3c4fc3 20.7%,#4962d3 30.9%,#5c7be5 36.5%,#85a8fb 42.1%,#a6c3fd 45.8%,#c9d7ee 52.3%,#e1dad6 56.5%,#f4c4ad 61.2%,#f6a384 64.9%,#e8775d 68.6%,#e16852 70.9%,#dd604c 73.3%,#c93b37 76.0%,#c53233 77.9%,#ce443c 79.8%,#e57057 82.1%,#f6a789 84.4%,#f2c7b2 86.3%,#e9d4c9 88.1%,#d9dce0 92.8%,#c5d5f2 98.8%,#c5d5f2 99.8%)"></i><i style="top:159px;height:1px;background:linear-gradient(90deg,#3a4cc0 0.2%,#3c4fc3 20.2%,#4860d1 29.5%,#5571de 34.2%,#6d90f1 38.4%,#90b2fe 42.6%,#afcafb 46.3%,#cdd9ec 51.9%,#e2d9d4 55.6%,#f4c3ab 60.2%,#f5a081 64.4%,#e36c54 68.1%,#db5c4a 70.0%,#d95847 73.7%,#d24b3f 75.6%,#d34d40 77.9%,#dd604c 79.8%,#ef896c 82.1%,#f7b194 84.0%,#edcfc0 85.8%,#e3d9d3 87.2%,#dadcdf 90.0%,#d1dae8 97.0%,#ccd8ed 99.8%)"></i><i style="top:160px;height:1px;background:linear-gradient(90deg,#3a4cc0 0.2%,#3c4fc3 19.8%,#4860d1 29.1%,#5a78e3 34.7%,#789bf7 38.8%,#9fbefe 43.5%,#b7cff9 46.7%,#d5dbe5 52.3%,#e6d7cf 55.1%,#f5bfa5 59.8%,#f39879 64.4%,#de624e 67.7%,#d44f42 69.5%,#d34d40 71.4%,#d95847 73.7%,#db5c4a 76.0%,#e9795e 79.3%,#f49a7b 81.6%,#f4c2aa 84.0%,#e3d9d3 85.8%,#d6dbe4 87.7%,#d3dbe6 90.5%,#dadcdf 96.5%,#d3dbe6 99.8%)"></i><i style="top:161px;height:1px;background:linear-gradient(90deg,#3a4cc0 0.2%,#3c4fc3 19.8%,#4b64d4 29.5%,#5b79e4 34.2%,#7598f6 37.9%,#97b8fe 41.6%,#b9d0f8 46.3%,#d7dbe2 51.9%,#e8d5ca 54.7%,#f6bba0 58.8%,#f19072 64.4%,#d85646 67.7%,#cd423a 69.5%,#cf463d 71.4%,#e67259 76.0%,#f5a081 80.2%,#f4c3ab 83.0%,#e4d8d1 84.9%,#d0dae9 86.7%,#cdd9ec 89.1%,#e1dad6 96.0%,#dbdcde 99.8%)"></i><i style="top:162px;height:1px;background:linear-gradient(90deg,#3a4cc0 0.2%,#3c4fc3 19.3%,#4b64d4 29.1%,#5f7ee7 34.2%,#8baefd 39.3%,#b3ccfa 44.4%,#d6dbe4 50.5%,#e6d7cf 53.3%,#f5bfa5 57.0%,#f39678 62.6%,#ec8266 64.9%,#d44f42 67.7%,#cc3f39 69.1%,#ca3d38 70.5%,#d24b3f 71.9%,#ea7b60 75.1%,#f6aa8c 78.8%,#f1cbb8 82.6%,#dbdcde 84.9%,#c8d7ef 86.7%,#c8d7ef 89.1%,#dfdbd9 93.7%,#e7d6cc 96.0%,#e2d9d4 99.8%)"></i><i style="top:163px;height:1px;background:linear-gradient(90deg,#3a4cc0 0.2%,#3c4fc3 18.8%,#4860d1 27.2%,#5775e1 31.9%,#7598f6 36.5%,#97b8fe 39.8%,#bed3f5 45.3%,#dedbda 50.9%,#f2c9b5 54.7%,#f6a98a 58.4%,#ee876a 63.5%,#ea7d61 64.9%,#d44f42 67.7%,#cc3f39 69.5%,#d24b3f 71.4%,#ee8669 74.7%,#f7b092 77.4%,#f2c9b5 80.7%,#e3d9d3 83.5%,#cfd9ea 85.3%,#c1d4f4 87.2%,#cad8ee 90.0%,#e0dad7 93.3%,#ecd1c3 96.5%,#e7d6cd 99.8%)"></i><i style="top:164px;height:1px;background:linear-gradient(90deg,#3a4cc0 0.2%,#3c4fc3 18.4%,#4962d3 27.2%,#5b79e4 31.9%,#7ea1f9 36.5%,#a3c1fe 40.2%,#c5d5f2 45.3%,#dddcdb 49.5%,#edcfc0 52.8%,#f7b598 56.0%,#f19072 59.8%,#ec8064 63.5%,#e6745a 65.3%,#d85646 67.7%,#d34d40 69.5%,#db5c4a 71.4%,#ee876a 73.7%,#f7b194 76.0%,#f2c7b2 78.4%,#e2d9d4 83.0%,#cdd9ec 85.3%,#c1d4f4 87.2%,#c5d5f2 89.1%,#dedbda 92.8%,#edd0c1 96.0%,#edd0c1 97.9%,#e9d4c9 99.8%)"></i><i style="top:165px;height:1px;background:linear-gradient(90deg,#3a4cc0 0.2%,#3c4fc3 17.9%,#4962d3 26.7%,#5c7be5 31.4%,#85a8fb 36.5%,#acc8fc 40.7%,#ced9eb 45.8%,#e2d9d4 49.1%,#f2c9b5 52.8%,#f6ab8d 56.0%,#ef896c 58.8%,#e8775d 62.1%,#e8775d 64.9%,#de624e 68.1%,#e16852 70.5%,#ed8467 72.3%,#f7b092 74.7%,#f1cab6 77.0%,#ebd3c6 78.8%,#dedbda 83.5%,#c5d5f2 86.7%,#c5d5f2 88.6%,#dbdcde 92.3%,#edcfc0 96.0%,#edcfc0 97.9%,#ead3c7 99.8%)"></i><i style="top:166px;height:1px;background:linear-gradient(90deg,#3a4cc0 0.2%,#3c4fc3 17.4%,#4962d3 26.3%,#5b79e4 30.5%,#80a4fa 35.1%,#a8c5fd 39.3%,#c8d7ef 44.0%,#e1dad6 47.7%,#f5c1a8 52.8%,#f5a182 56.0%,#ea7b60 58.8%,#e46e56 60.7%,#e57057 63.0%,#e9795e 64.9%,#e8775d 67.7%,#ed8467 70.5%,#f49d7e 72.3%,#f4c2aa 74.7%,#ead3c7 77.0%,#e4d8d1 79.8%,#e3d9d3 83.0%,#ced9eb 86.3%,#c8d7ef 88.6%,#dcdcdd 92.3%,#ecd1c3 96.0%,#ecd1c3 98.4%,#ead3c7 99.8%)"></i><i style="top:167px;height:1px;background:linear-gradient(90deg,#3a4cc0 0.2%,#3c4fc3 17.4%,#4962d3 25.3%,#5c7be5 30.0%,#86a9fc 34.7%,#afcafb 39.3%,#d1dae8 44.4%,#e5d8d0 47.2%,#f4c4ad 50.9%,#f6a98a 54.7%,#ea7d61 57.9%,#e16852 59.8%,#df644f 61.6%,#eb7f63 65.8%,#f49d7e 70.5%,#f7b295 72.3%,#ebd3c6 75.1%,#e1dad6 77.4%,#e7d6cd 83.0%,#d6dbe4 86.3%,#ced9eb 88.6%,#dfdbd9 92.8%,#ecd1c3 96.5%,#e9d4c9 99.8%)"></i><i style="top:168px;height:1px;background:linear-gradient(90deg,#3a4cc0 0.2%,#3c4fc3 17.0%,#4962d3 24.9%,#5d7de6 29.5%,#7ca0f9 32.8%,#a6c3fd 37.4%,#c3d5f2 41.2%,#dbdcde 44.9%,#f0ccb9 48.1%,#f7b092 52.8%,#f39678 55.6%,#e16852 58.8%,#dc5e4b 60.7%,#e06650 62.6%,#f6a384 68.6%,#f6ba9f 71.4%,#e8d5ca 74.2%,#dfdbd9 75.6%,#dcdcdd 77.4%,#ecd1c3 83.0%,#e4d8d1 85.3%,#d7dbe2 87.7%,#d7dbe2 90.5%,#ebd3c6 96.5%,#e8d5ca 99.8%)"></i><i style="top:169px;height:1px;background:linear-gradient(90deg,#3a4cc0 0.2%,#3c4fc3 16.5%,#4860d1 23.5%,#6080e8 29.1%,#7fa2fa 32.3%,#98b9fe 34.7%,#bbd1f7 38.8%,#dcdcdd 44.0%,#f2c8b3 47.7%,#f7b194 50.9%,#f29173 55.6%,#e06650 58.8%,#dc5e4b 60.2%,#df644f 62.1%,#ed8467 64.9%,#f7b295 68.6%,#eecfbe 72.3%,#dcdcdd 74.7%,#d8dbe1 76.5%,#e3d9d3 79.3%,#f1cbb8 83.0%,#edcfc0 84.9%,#dedbda 88.1%,#dcdcdd 90.9%,#ead3c7 97.0%,#e8d5ca 99.8%)"></i><i style="top:170px;height:1px;background:linear-gradient(90deg,#3a4cc0 0.2%,#3c4fc3 16.0%,#4b64d4 24.0%,#6788ed 29.1%,#8daffd 32.8%,#acc8fc 36.0%,#d3dbe6 41.2%,#e3d9d3 44.0%,#f5bfa5 47.7%,#f6a486 50.9%,#f19072 55.6%,#e06650 59.3%,#e06650 61.2%,#ed8467 64.4%,#f6ab8d 67.2%,#f4c3ab 69.5%,#e5d8d0 72.8%,#d5dbe5 75.1%,#dbdcde 77.4%,#f2c9b5 81.6%,#f4c3ab 83.5%,#efcdbb 85.8%,#e5d8d0 88.6%,#e2d9d4 91.4%,#ebd3c6 97.9%,#e9d4c9 99.8%)"></i><i style="top:171px;height:1px;background:linear-gradient(90deg,#3a4cc0 0.2%,#3c4fc3 15.6%,#4860d1 22.6%,#5d7de6 26.7%,#7fa2fa 30.9%,#a6c3fd 34.2%,#cad8ee 38.8%,#e0dad7 42.1%,#f1cbb8 45.3%,#f6a687 49.1%,#f39879 51.4%,#f08b6d 56.5%,#e6745a 59.3%,#e7755c 61.2%,#f39678 65.3%,#f7b092 67.2%,#f4c4ad 69.1%,#e3d9d3 72.8%,#d8dbe1 74.7%,#dcdcdd 77.0%,#f2c9b5 80.7%,#f6bba0 83.0%,#f5bfa5 84.9%,#ecd2c4 88.6%,#e8d5ca 91.4%,#edd0c1 98.4%,#ecd1c3 99.8%)"></i><i style="top:172px;height:1px;background:linear-gradient(90deg,#3a4cc0 0.2%,#3c4fc3 15.1%,#4860d1 21.6%,#5c7be5 25.8%,#7fa2fa 30.0%,#aac6fd 33.7%,#cfd9ea 38.4%,#e3d9d3 41.2%,#f5bfa5 45.8%,#f49a7b 49.1%,#f08d6f 51.4%,#f29375 56.5%,#ee8669 59.8%,#f49a7b 64.9%,#f6ab8d 66.7%,#f5c1a8 68.6%,#e3d9d3 73.3%,#dcdcdd 75.1%,#e6d7cf 77.4%,#f6bca2 81.6%,#f7b397 83.5%,#f6ba9f 85.3%,#efcdbb 89.1%,#edcfc0 91.9%,#f0ccb9 99.8%)"></i><i style="top:173px;height:1px;background:linear-gradient(90deg,#3a4cc0 0.2%,#3c4fc3 14.7%,#4860d1 21.2%,#5f7ee7 25.3%,#80a4fa 29.1%,#a8c5fd 32.8%,#c6d6f1 36.0%,#dfdbd9 39.3%,#f1cab6 43.0%,#f7b092 46.3%,#f18e70 49.1%,#ed8467 51.4%,#f19072 54.2%,#f59e7f 56.5%,#f59e7f 60.7%,#f6a384 64.0%,#f6a486 65.8%,#f6b69a 67.7%,#f2c9b5 70.5%,#e5d8d0 74.7%,#e8d5ca 76.5%,#f6b99d 81.2%,#f7ad8f 83.5%,#f7b598 85.8%,#f2c7b2 90.0%,#f3c6b0 99.8%)"></i><i style="top:174px;height:1px;background:linear-gradient(90deg,#3a4cc0 0.2%,#3c4fc3 14.2%,#4860d1 20.2%,#5c7be5 24.4%,#83a6fb 28.1%,#b2cbfb 32.8%,#d6dbe4 37.0%,#e7d6cc 39.3%,#f4c4ad 42.6%,#f7ad8f 45.8%,#ee8669 49.1%,#ea7d61 50.9%,#ef896c 53.3%,#f6a98a 56.5%,#f6b69a 62.1%,#f6a98a 65.8%,#f7b092 67.2%,#f4c4ad 70.5%,#ecd1c3 74.7%,#f0ccb9 77.0%,#f6aa8c 82.6%,#f6ab8d 84.9%,#f5c1a8 90.5%,#f5c0a7 99.8%)"></i><i style="top:175px;height:1px;background:linear-gradient(90deg,#3a4cc0 0.2%,#3c4fc3 13.7%,#4860d1 19.3%,#5f7ee7 24.0%,#89acfc 27.7%,#b2cbfb 31.9%,#d2dae7 35.6%,#e5d8d0 37.9%,#f5c1a8 41.6%,#f6a687 45.8%,#ec8064 49.1%,#e9795e 50.9%,#f29173 53.7%,#f7b397 56.5%,#f5c0a7 59.3%,#f3c6b0 62.1%,#f7b295 64.9%,#f6ab8d 66.3%,#f3c5af 72.8%,#f2c9b5 75.1%,#f6b99d 79.3%,#f6a687 83.5%,#f6ba9f 90.9%,#f6ba9f 99.8%)"></i><i style="top:176px;height:1px;background:linear-gradient(90deg,#3a4cc0 0.2%,#3c4fc3 13.3%,#465dcf 17.9%,#6182ea 23.5%,#87aafc 26.7%,#a7c4fd 29.5%,#ced9eb 33.7%,#e3d9d3 36.5%,#f5c1a8 40.2%,#f59e7f 46.3%,#ea7d61 49.5%,#ea7d61 51.4%,#f59e7f 54.2%,#f4c2aa 57.0%,#ecd1c3 60.7%,#edcfc0 62.6%,#f7b194 65.8%,#f7ae91 67.2%,#f5c1a8 74.2%,#f6bda4 77.0%,#f6a789 83.0%,#f7b295 88.6%,#f6b69a 93.7%,#f7b598 99.8%)"></i><i style="top:177px;height:1px;background:linear-gradient(90deg,#3a4cc0 0.2%,#3c4fc3 12.8%,#4962d3 18.4%,#6f91f2 24.0%,#99bafe 27.2%,#bdd2f6 30.5%,#dfdbd9 34.7%,#f3c5af 38.4%,#f7b295 41.2%,#f5a081 46.3%,#ed8467 49.1%,#ec8266 50.9%,#f29375 52.8%,#f6bca2 55.6%,#ecd1c3 57.9%,#e2d9d4 61.2%,#e6d7cf 62.6%,#f4c2aa 64.9%,#f7b194 66.7%,#f6bca2 75.6%,#f6ab8d 83.5%,#f7b598 92.8%,#f7b397 99.8%)"></i><i style="top:178px;height:1px;background:linear-gradient(90deg,#3a4cc0 0.2%,#3c4fc3 12.3%,#4860d1 17.4%,#7497f5 23.5%,#9dbdfe 26.7%,#bcd1f6 29.1%,#dcdcdd 32.8%,#efcdbb 36.0%,#f7b397 39.3%,#f6aa8c 42.1%,#f6a789 45.8%,#f39678 48.1%,#f08d6f 50.0%,#f39576 51.9%,#f7b194 54.2%,#ecd1c3 57.0%,#dfdbd9 59.8%,#dcdcdd 62.1%,#ecd2c4 64.0%,#f6ba9f 66.3%,#f6b69a 68.1%,#f6bca2 75.6%,#f7b295 84.0%,#f6b79c 94.2%,#f6b79c 99.8%)"></i><i style="top:179px;height:1px;background:linear-gradient(90deg,#3a4cc0 0.2%,#3c4fc3 11.9%,#4962d3 17.0%,#7395f4 22.1%,#8eb1fd 24.9%,#b7cff9 27.7%,#dcdcdd 31.4%,#f1cab6 35.1%,#f6ab8d 38.8%,#f6a687 41.6%,#f7b092 45.8%,#f49b7c 50.0%,#f6a687 52.3%,#f3c5af 55.1%,#e5d8d0 57.4%,#dadcdf 59.8%,#d6dbe4 61.6%,#e2d9d4 63.5%,#f4c4ad 65.8%,#f6bca2 67.7%,#f6bca2 79.8%,#f6bca2 96.5%,#f6bca2 99.8%)"></i><i style="top:180px;height:1px;background:linear-gradient(90deg,#3a4cc0 0.2%,#3c4fc3 10.9%,#4d67d7 17.0%,#6182ea 19.3%,#7b9ef8 21.6%,#a2c0fe 25.3%,#c7d6f0 28.1%,#dfdbd9 30.5%,#f3c6b0 34.2%,#f5a182 38.4%,#f5a182 41.6%,#f6b79c 45.8%,#f7ae91 48.6%,#f6ab8d 50.5%,#f6bba0 53.3%,#ebd3c6 56.0%,#dcdcdd 58.4%,#d5dbe5 61.6%,#dfdbd9 63.5%,#f1cab6 65.8%,#f4c3ab 68.1%,#f4c3ab 99.8%)"></i><i style="top:181px;height:1px;background:linear-gradient(90deg,#3a4cc0 0.2%,#3c4fc3 10.0%,#4962d3 15.1%,#5f7ee7 18.4%,#7fa2fa 20.7%,#a6c3fd 24.4%,#c7d6f0 27.2%,#e0dad7 29.5%,#f2c9b5 32.3%,#f6a486 36.5%,#f39576 38.4%,#f49a7b 40.7%,#f6a789 42.6%,#f5bfa5 45.3%,#f5c0a7 47.2%,#f6b99d 50.5%,#f4c4ad 53.3%,#e0dad7 57.4%,#d5dbe5 60.7%,#d8dbe1 62.6%,#ecd2c4 65.3%,#f1cab6 67.2%,#f2c9b5 99.8%)"></i><i style="top:182px;height:1px;background:linear-gradient(90deg,#3a4cc0 0.2%,#3c4fc3 9.5%,#516cdb 15.6%,#6383ea 17.9%,#87aafc 20.2%,#a7c4fd 23.0%,#c7d6f0 26.3%,#e0dad7 28.6%,#f2c7b2 31.4%,#f6a384 35.6%,#f08d6f 37.9%,#f18e70 39.8%,#f7ad8f 43.0%,#f4c4ad 45.3%,#f2c7b2 47.2%,#f4c3ab 50.0%,#efcdbb 53.7%,#dcdcdd 58.4%,#dadcdf 62.6%,#edd0c1 66.3%,#efcebc 74.2%,#efcebc 99.8%)"></i><i style="top:183px;height:1px;background:linear-gradient(90deg,#3a4cc0 0.2%,#3e51c4 9.1%,#475fd0 12.3%,#6889ee 17.4%,#8eb1fd 19.8%,#b4cdfa 22.6%,#d7dbe2 26.7%,#e7d6cc 28.6%,#f5bfa5 31.4%,#f39879 35.6%,#ed8467 37.9%,#ee876a 39.3%,#f6a384 42.1%,#f3c5af 44.9%,#efcdbb 47.2%,#f1cab6 50.5%,#ebd3c6 54.7%,#dedbda 58.8%,#dedbda 62.6%,#ecd2c4 66.7%,#ecd1c3 99.8%)"></i><i style="top:184px;height:1px;background:linear-gradient(90deg,#3a4cc0 0.2%,#3e51c4 8.6%,#4962d3 11.9%,#7093f3 17.0%,#8baefd 18.8%,#afcafb 20.7%,#ced9eb 23.5%,#e1dad6 26.7%,#f5c0a7 30.5%,#f59e7f 34.2%,#ec8064 37.4%,#ed8467 39.3%,#f6a98a 42.6%,#f1cab6 45.3%,#eecfbe 47.2%,#eecfbe 51.9%,#e2d9d4 59.8%,#e3d9d3 63.0%,#ecd2c4 67.7%,#ecd2c4 99.8%)"></i><i style="top:185px;height:1px;background:linear-gradient(90deg,#3a4cc0 0.2%,#3e51c4 7.7%,#4860d1 10.9%,#7093f3 15.6%,#8daffd 17.9%,#b2cbfb 19.8%,#ced9eb 21.6%,#e1dad6 24.0%,#efcdbb 28.1%,#f7ad8f 31.9%,#ec8064 37.4%,#ed8467 39.3%,#f6a98a 42.6%,#f2c9b5 45.3%,#eecfbe 48.1%,#eecfbe 52.3%,#e7d6cc 61.2%,#edd0c1 69.1%,#edd0c1 99.8%)"></i><i style="top:186px;height:1px;background:linear-gradient(90deg,#3a4cc0 0.2%,#3e51c4 6.7%,#4860d1 10.5%,#7598f6 14.7%,#9fbefe 17.9%,#c3d5f2 19.8%,#dedbda 21.6%,#eecfbe 24.0%,#f2c8b3 27.7%,#f6a486 32.3%,#ec8266 37.4%,#ed8467 38.8%,#f6a98a 42.6%,#f3c6b0 45.3%,#f0ccb9 47.2%,#efcebc 55.6%,#edcfc0 63.0%,#efcdbb 72.3%,#efcdbb 99.8%)"></i><i style="top:187px;height:1px;background:linear-gradient(90deg,#3a4cc0 0.2%,#3e51c4 6.3%,#475fd0 9.5%,#5673e0 11.4%,#7ca0f9 14.2%,#aac6fd 17.4%,#ccd8ed 19.3%,#dbdcde 20.2%,#eecfbe 22.1%,#f5c1a8 24.0%,#f5c1a8 27.7%,#f49d7e 33.3%,#ee876a 37.4%,#f18e70 39.8%,#f7ad8f 43.0%,#f4c4ad 45.8%,#f2c7b2 48.1%,#f2c8b3 99.8%)"></i><i style="top:188px;height:1px;background:linear-gradient(90deg,#3a4cc0 0.2%,#3e51c4 5.8%,#4962d3 9.5%,#5b79e4 11.4%,#82a5fb 13.7%,#abc7fc 16.5%,#cad8ee 18.4%,#dbdcde 19.3%,#f1cab6 21.2%,#f7b194 23.5%,#f7b194 25.3%,#f6b99d 27.7%,#f39576 35.1%,#f08d6f 38.4%,#f6a789 42.6%,#f5bfa5 45.8%,#f4c2aa 64.4%,#f4c2aa 99.8%)"></i><i style="top:189px;height:1px;background:linear-gradient(90deg,#3a4cc0 0.2%,#3e51c4 5.3%,#4860d1 9.1%,#5876e2 10.9%,#85a8fb 13.3%,#abc7fc 15.6%,#c8d7ef 17.4%,#e0dad7 18.8%,#f4c4ad 20.7%,#f59e7f 23.5%,#f5a081 24.9%,#f7b194 27.2%,#f7ad8f 29.5%,#f39879 35.6%,#f29375 38.8%,#f6ab8d 43.5%,#f6b99d 46.3%,#f6ba9f 99.8%)"></i><i style="top:190px;height:1px;background:linear-gradient(90deg,#3a4cc0 0.2%,#3e51c4 5.3%,#4860d1 8.6%,#5673e0 10.5%,#789bf7 12.3%,#9fbefe 14.2%,#c5d5f2 16.5%,#dcdcdd 17.9%,#f3c6b0 19.8%,#f5a182 22.1%,#f08d6f 23.5%,#f08d6f 24.4%,#f6a98a 27.2%,#f6a98a 30.0%,#f39879 38.4%,#f7ad8f 44.4%,#f7b397 48.1%,#f7b397 99.8%)"></i><i style="top:191px;height:1px;background:linear-gradient(90deg,#3a4cc0 0.2%,#3e51c4 4.9%,#475fd0 8.1%,#526edc 10.0%,#7194f4 11.9%,#94b5fe 13.3%,#bed3f5 15.6%,#dcdcdd 17.4%,#f3c5af 19.3%,#f6a687 21.2%,#ed8467 23.0%,#ea7d61 24.0%,#f29173 25.8%,#f6a687 27.7%,#f6a687 30.5%,#f49d7e 38.8%,#f7ae91 47.7%,#f7ae91 99.8%)"></i><i style="top:192px;height:1px;background:linear-gradient(90deg,#3a4cc0 0.2%,#3e51c4 4.9%,#4c66d6 9.1%,#6080e8 10.9%,#8baefd 12.8%,#acc8fc 14.2%,#d2dae7 16.5%,#e1dad6 17.4%,#f5c0a7 19.3%,#f39576 21.6%,#e6745a 23.5%,#e7755c 24.4%,#f59e7f 27.2%,#f6a687 29.1%,#f5a081 39.8%,#f6aa8c 49.1%,#f6aa8c 99.8%)"></i><i style="top:193px;height:1px;background:linear-gradient(90deg,#3a4cc0 0.2%,#4054c7 5.8%,#506bda 9.5%,#6182ea 10.9%,#8eb1fd 12.8%,#b7cff9 14.7%,#d5dbe5 16.5%,#e4d8d1 17.4%,#f6bca2 19.3%,#f39879 21.2%,#e7755c 23.0%,#e46e56 24.0%,#e8775d 24.9%,#f49d7e 27.2%,#f6a486 29.1%,#f5a182 40.2%,#f6a789 49.1%,#f6a789 99.8%)"></i></div>
<div class="hm" style="left:636px;top:17px;width:8px;height:194px;background:linear-gradient(180deg,#b40426 0%,#c53334 5%,#d65244 10%,#e36c55 15%,#ee8468 20%,#f4987a 25%,#f7ac8e 30%,#f6bda2 35%,#f2cbb7 40%,#e9d5cb 45%,#dddcdc 50%,#cfdaea 55%,#c0d4f5 60%,#afcafc 65%,#9ebeff 70%,#8db0fe 75%,#7b9ff9 80%,#6a8bef 85%,#5977e3 90%,#4961d2 95%,#3b4cc0 100%)"></div>
<div class="hm" style="left:52px;top:285px;width:215px;height:196px"><i style="top:0px;height:1px;background:linear-gradient(90deg,#3a4cc0 0.2%,#3c4fc3 60.2%,#4962d3 96.5%,#4c66d6 99.8%)"></i><i style="top:1px;height:1px;background:linear-gradient(90deg,#3a4cc0 0.2%,#3c4fc3 60.2%,#4962d3 96.5%,#4c66d6 99.8%)"></i><i style="top:2px;height:1px;background:linear-gradient(90deg,#3a4cc0 0.2%,#3c4fc3 60.2%,#4962d3 96.5%,#4c66d6 99.8%)"></i><i style="top:3px;height:1px;background:linear-gradient(90deg,#3a4cc0 0.2%,#3c4fc3 60.2%,#4962d3 96.5%,#4c66d6 99.8%)"></i><i style="top:4px;height:1px;background:linear-gradient(90deg,#3a4cc0 0.2%,#3c4fc3 59.8%,#4962d3 96.0%,#4c66d6 99.8%)"></i><i style="top:5px;height:1px;background:linear-gradient(90deg,#3a4cc0 0.2%,#3c4fc3 59.8%,#4962d3 96.0%,#4c66d6 99.8%)"></i><i style="top:6px;height:1px;background:linear-gradient(90deg,#3a4cc0 0.2%,#3c4fc3 59.8%,#4962d3 95.6%,#4c66d6 99.8%)"></i><i style="top:7px;height:1px;background:linear-gradient(90deg,#3a4cc0 0.2%,#3c4fc3 59.3%,#4962d3 95.1%,#4c66d6 99.8%)"></i><i style="top:8px;height:1px;background:linear-gradient(90deg,#3a4cc0 0.2%,#3c4fc3 59.3%,#4962d3 95.1%,#4c66d6 99.8%)"></i><i style="top:9px;height:1px;background:linear-gradient(90deg,#3a4cc0 0.2%,#3c4fc3 58.8%,#4962d3 94.7%,#4d67d7 99.8%)"></i><i style="top:10px;height:1px;background:linear-gradient(90deg,#3a4cc0 0.2%,#3c4fc3 58.8%,#4962d3 94.2%,#4d67d7 99.8%)"></i><i style="top:11px;height:1px;background:linear-gradient(90deg,#3a4cc0 0.2%,#3c4fc3 58.8%,#4962d3 93.7%,#4d67d7 99.8%)"></i><i style="top:12px;height:1px;background:linear-gradient(90deg,#3a4cc0 0.2%,#3c4fc3 58.4%,#4962d3 93.7%,#4d67d7 99.8%)"></i><i style="top:13px;height:1px;background:linear-gradient(90deg,#3a4cc0 0.2%,#3c4fc3 58.4%,#4962d3 93.3%,#4d67d7 99.8%)"></i><i style="top:14px;height:1px;background:linear-gradient(90deg,#3a4cc0 0.2%,#3c4fc3 57.9%,#4962d3 92.8%,#4e69d8 99.8%)"></i><i style="top:15px;height:1px;background:linear-gradient(90deg,#3a4cc0 0.2%,#3c4fc3 57.9%,#4962d3 92.3%,#4e69d8 99.8%)"></i><i style="top:16px;height:1px;background:linear-gradient(90deg,#3a4cc0 0.2%,#3c4fc3 57.4%,#4962d3 92.3%,#4e69d8 99.8%)"></i><i style="top:17px;height:1px;background:linear-gradient(90deg,#3a4cc0 0.2%,#3c4fc3 57.4%,#4962d3 91.9%,#4e69d8 99.8%)"></i><i style="top:18px;height:1px;background:linear-gradient(90deg,#3a4cc0 0.2%,#3c4fc3 57.0%,#4962d3 91.4%,#506bda 99.8%)"></i><i style="top:19px;height:1px;background:linear-gradient(90deg,#3a4cc0 0.2%,#3c4fc3 57.0%,#4962d3 90.9%,#506bda 99.8%)"></i><i style="top:20px;height:1px;background:linear-gradient(90deg,#3a4cc0 0.2%,#3c4fc3 57.0%,#4962d3 90.9%,#506bda 99.8%)"></i><i style="top:21px;height:1px;background:linear-gradient(90deg,#3a4cc0 0.2%,#3c4fc3 56.5%,#4962d3 90.5%,#506bda 99.8%)"></i><i style="top:22px;height:1px;background:linear-gradient(90deg,#3a4cc0 0.2%,#3c4fc3 56.5%,#4962d3 90.0%,#516cdb 99.8%)"></i><i style="top:23px;height:1px;background:linear-gradient(90deg,#3a4cc0 0.2%,#3c4fc3 56.0%,#4962d3 89.5%,#516cdb 99.8%)"></i><i style="top:24px;height:1px;background:linear-gradient(90deg,#3a4cc0 0.2%,#3c4fc3 56.0%,#4962d3 89.1%,#516cdb 99.8%)"></i><i style="top:25px;height:1px;background:linear-gradient(90deg,#3a4cc0 0.2%,#3c4fc3 55.6%,#4962d3 89.1%,#516cdb 99.8%)"></i><i style="top:26px;height:1px;background:linear-gradient(90deg,#3a4cc0 0.2%,#3c4fc3 55.6%,#4962d3 88.6%,#526edc 99.8%)"></i><i style="top:27px;height:1px;background:linear-gradient(90deg,#3a4cc0 0.2%,#3c4fc3 55.1%,#4962d3 88.1%,#526edc 99.8%)"></i><i style="top:28px;height:1px;background:linear-gradient(90deg,#3a4cc0 0.2%,#3c4fc3 55.1%,#4962d3 87.7%,#526edc 99.8%)"></i><i style="top:29px;height:1px;background:linear-gradient(90deg,#3a4cc0 0.2%,#3c4fc3 54.7%,#4962d3 87.7%,#526edc 99.8%)"></i><i style="top:30px;height:1px;background:linear-gradient(90deg,#3a4cc0 0.2%,#3c4fc3 54.7%,#4962d3 87.2%,#5370dd 99.8%)"></i><i style="top:31px;height:1px;background:linear-gradient(90deg,#3a4cc0 0.2%,#3c4fc3 54.7%,#4962d3 86.7%,#5370dd 99.8%)"></i><i style="top:32px;height:1px;background:linear-gradient(90deg,#3a4cc0 0.2%,#3c4fc3 54.2%,#4962d3 86.3%,#5370dd 99.8%)"></i><i style="top:33px;height:1px;background:linear-gradient(90deg,#3a4cc0 0.2%,#3c4fc3 54.2%,#4962d3 85.8%,#5571de 99.8%)"></i><i style="top:34px;height:1px;background:linear-gradient(90deg,#3a4cc0 0.2%,#3c4fc3 53.7%,#4962d3 85.8%,#5571de 99.8%)"></i><i style="top:35px;height:1px;background:linear-gradient(90deg,#3a4cc0 0.2%,#3c4fc3 53.7%,#4962d3 85.3%,#5571de 99.8%)"></i><i style="top:36px;height:1px;background:linear-gradient(90deg,#3a4cc0 0.2%,#3c4fc3 53.3%,#4962d3 84.9%,#5673e0 99.8%)"></i><i style="top:37px;height:1px;background:linear-gradient(90deg,#3a4cc0 0.2%,#3c4fc3 53.3%,#4962d3 84.4%,#5673e0 99.8%)"></i><i style="top:38px;height:1px;background:linear-gradient(90deg,#3a4cc0 0.2%,#3c4fc3 52.8%,#4962d3 84.4%,#5775e1 99.8%)"></i><i style="top:39px;height:1px;background:linear-gradient(90deg,#3a4cc0 0.2%,#3c4fc3 52.8%,#4962d3 84.0%,#5775e1 99.8%)"></i><i style="top:40px;height:1px;background:linear-gradient(90deg,#3a4cc0 0.2%,#3c4fc3 52.3%,#4860d1 81.6%,#5876e2 99.8%)"></i><i style="top:41px;height:1px;background:linear-gradient(90deg,#3a4cc0 0.2%,#3c4fc3 52.3%,#4962d3 83.0%,#5876e2 99.8%)"></i><i style="top:42px;height:1px;background:linear-gradient(90deg,#3a4cc0 0.2%,#3c4fc3 51.9%,#4962d3 82.6%,#5a78e3 99.8%)"></i><i style="top:43px;height:1px;background:linear-gradient(90deg,#3a4cc0 0.2%,#3c4fc3 51.9%,#4962d3 82.6%,#5876e2 97.9%,#5b79e4 99.8%)"></i><i style="top:44px;height:1px;background:linear-gradient(90deg,#3a4cc0 0.2%,#3c4fc3 51.4%,#4962d3 82.1%,#5876e2 97.4%,#5b79e4 99.8%)"></i><i style="top:45px;height:1px;background:linear-gradient(90deg,#3a4cc0 0.2%,#3c4fc3 51.4%,#4962d3 81.6%,#5876e2 97.0%,#5c7be5 99.8%)"></i><i style="top:46px;height:1px;background:linear-gradient(90deg,#3a4cc0 0.2%,#3c4fc3 51.4%,#4962d3 81.2%,#5876e2 96.5%,#5d7de6 99.8%)"></i><i style="top:47px;height:1px;background:linear-gradient(90deg,#3a4cc0 0.2%,#3c4fc3 50.9%,#4962d3 80.7%,#5876e2 96.0%,#5f7ee7 99.8%)"></i><i style="top:48px;height:1px;background:linear-gradient(90deg,#3a4cc0 0.2%,#3c4fc3 50.9%,#4962d3 80.7%,#5b79e4 97.0%,#5f7ee7 99.8%)"></i><i style="top:49px;height:1px;background:linear-gradient(90deg,#3a4cc0 0.2%,#3c4fc3 50.5%,#4962d3 80.2%,#5b79e4 96.5%,#6080e8 99.8%)"></i><i style="top:50px;height:1px;background:linear-gradient(90deg,#3a4cc0 0.2%,#3c4fc3 50.5%,#4962d3 79.8%,#5b79e4 96.0%,#6182ea 99.8%)"></i><i style="top:51px;height:1px;background:linear-gradient(90deg,#3a4cc0 0.2%,#3c4fc3 50.0%,#4962d3 79.3%,#5b79e4 95.6%,#6383ea 99.8%)"></i><i style="top:52px;height:1px;background:linear-gradient(90deg,#3a4cc0 0.2%,#3c4fc3 50.0%,#4962d3 78.8%,#5b79e4 95.1%,#6485eb 99.8%)"></i><i style="top:53px;height:1px;background:linear-gradient(90deg,#3a4cc0 0.2%,#3c4fc3 49.5%,#4962d3 78.4%,#5876e2 93.3%,#6586ec 99.8%)"></i><i style="top:54px;height:1px;background:linear-gradient(90deg,#3a4cc0 0.2%,#3c4fc3 49.5%,#4962d3 78.4%,#5876e2 92.8%,#6788ed 99.8%)"></i><i style="top:55px;height:1px;background:linear-gradient(90deg,#3a4cc0 0.2%,#3c4fc3 49.1%,#4962d3 77.9%,#5876e2 92.3%,#6889ee 99.8%)"></i><i style="top:56px;height:1px;background:linear-gradient(90deg,#3a4cc0 0.2%,#3c4fc3 49.1%,#4962d3 77.4%,#5876e2 91.9%,#698bef 99.8%)"></i><i style="top:57px;height:1px;background:linear-gradient(90deg,#3a4cc0 0.2%,#3c4fc3 48.6%,#4962d3 77.0%,#5876e2 91.4%,#6c8ef1 99.8%)"></i><i style="top:58px;height:1px;background:linear-gradient(90deg,#3a4cc0 0.2%,#3c4fc3 48.6%,#4962d3 76.5%,#5b79e4 92.3%,#6d90f1 99.8%)"></i><i style="top:59px;height:1px;background:linear-gradient(90deg,#3a4cc0 0.2%,#3c4fc3 48.1%,#4962d3 76.5%,#5b79e4 91.9%,#6f91f2 99.8%)"></i><i style="top:60px;height:1px;background:linear-gradient(90deg,#3a4cc0 0.2%,#3c4fc3 48.1%,#4962d3 76.0%,#5b79e4 91.4%,#7093f3 99.8%)"></i><i style="top:61px;height:1px;background:linear-gradient(90deg,#3a4cc0 0.2%,#3c4fc3 47.7%,#4962d3 75.6%,#5b79e4 90.9%,#7395f4 99.8%)"></i><i style="top:62px;height:1px;background:linear-gradient(90deg,#3a4cc0 0.2%,#3c4fc3 47.7%,#4962d3 75.1%,#5b79e4 90.5%,#7497f5 99.8%)"></i><i style="top:63px;height:1px;background:linear-gradient(90deg,#3a4cc0 0.2%,#3c4fc3 47.2%,#4962d3 74.7%,#5b79e4 90.0%,#779af6 99.8%)"></i><i style="top:64px;height:1px;background:linear-gradient(90deg,#3a4cc0 0.2%,#3c4fc3 47.2%,#4962d3 74.2%,#5b79e4 89.5%,#789bf7 99.8%)"></i><i style="top:65px;height:1px;background:linear-gradient(90deg,#3a4cc0 0.2%,#3c4fc3 46.7%,#4962d3 74.2%,#5b79e4 89.1%,#7598f6 97.9%,#7b9ef8 99.8%)"></i><i style="top:66px;height:1px;background:linear-gradient(90deg,#3a4cc0 0.2%,#3c4fc3 46.7%,#4962d3 73.7%,#5b79e4 88.6%,#7ca0f9 99.8%)"></i><i style="top:67px;height:1px;background:linear-gradient(90deg,#3a4cc0 0.2%,#3c4fc3 46.3%,#4860d1 71.4%,#5b79e4 88.1%,#7ca0f9 98.4%,#7fa2fa 99.8%)"></i><i style="top:68px;height:1px;background:linear-gradient(90deg,#3a4cc0 0.2%,#3c4fc3 46.3%,#4962d3 72.8%,#5876e2 86.3%,#789bf7 97.0%,#82a5fb 99.8%)"></i><i style="top:69px;height:1px;background:linear-gradient(90deg,#3a4cc0 0.2%,#3c4fc3 45.8%,#4962d3 72.3%,#5876e2 85.8%,#789bf7 96.5%,#85a8fb 99.8%)"></i><i style="top:70px;height:1px;background:linear-gradient(90deg,#3a4cc0 0.2%,#3c4fc3 45.8%,#4962d3 71.9%,#5876e2 85.3%,#779af6 95.6%,#86a9fc 99.8%)"></i><i style="top:71px;height:1px;background:linear-gradient(90deg,#3a4cc0 0.2%,#3c4fc3 45.3%,#4962d3 71.9%,#5b79e4 86.3%,#789bf7 95.1%,#89acfc 99.8%)"></i><i style="top:72px;height:1px;background:linear-gradient(90deg,#3a4cc0 0.2%,#3c4fc3 45.3%,#4962d3 71.4%,#5a78e3 84.9%,#7093f3 92.8%,#8baefd 99.3%,#8baefd 99.8%)"></i><i style="top:73px;height:1px;background:linear-gradient(90deg,#3a4cc0 0.2%,#3c4fc3 44.9%,#4962d3 70.9%,#5a78e3 84.4%,#7497f5 93.3%,#8eb1fd 99.8%)"></i><i style="top:74px;height:1px;background:linear-gradient(90deg,#3a4cc0 0.2%,#3c4fc3 44.9%,#4962d3 70.5%,#5a78e3 84.0%,#7497f5 92.8%,#91b3fe 99.3%,#91b3fe 99.8%)"></i><i style="top:75px;height:1px;background:linear-gradient(90deg,#3a4cc0 0.2%,#3c4fc3 44.4%,#4962d3 70.0%,#5a78e3 83.5%,#7395f4 91.9%,#94b5fe 99.3%,#94b5fe 99.8%)"></i><i style="top:76px;height:1px;background:linear-gradient(90deg,#3a4cc0 0.2%,#3c4fc3 44.4%,#4962d3 69.5%,#5a78e3 83.0%,#7395f4 91.4%,#95b7fe 99.3%,#97b8fe 99.8%)"></i><i style="top:77px;height:1px;background:linear-gradient(90deg,#3a4cc0 0.2%,#3c4fc3 44.0%,#4860d1 67.7%,#5a78e3 82.6%,#7194f4 90.5%,#98b9fe 99.3%,#98b9fe 99.8%)"></i><i style="top:78px;height:1px;background:linear-gradient(90deg,#3a4cc0 0.2%,#3c4fc3 44.0%,#4962d3 69.1%,#5b79e4 82.6%,#7598f6 90.9%,#99bafe 98.8%,#9bbbfe 99.8%)"></i><i style="top:79px;height:1px;background:linear-gradient(90deg,#3a4cc0 0.2%,#3c4fc3 43.5%,#4962d3 68.6%,#5b79e4 82.1%,#7497f5 90.0%,#99bafe 98.4%,#9cbcfe 99.8%)"></i><i style="top:80px;height:1px;background:linear-gradient(90deg,#3a4cc0 0.2%,#3c4fc3 43.5%,#4962d3 68.1%,#5b79e4 81.6%,#7497f5 89.5%,#98b9fe 97.4%,#9dbdfe 99.8%)"></i><i style="top:81px;height:1px;background:linear-gradient(90deg,#3a4cc0 0.2%,#3c4fc3 43.0%,#4962d3 67.7%,#5b79e4 81.2%,#779af6 89.5%,#9bbbfe 97.4%,#a0bffe 99.8%)"></i><i style="top:82px;height:1px;background:linear-gradient(90deg,#3a4cc0 0.2%,#3c4fc3 43.0%,#4962d3 67.2%,#5b79e4 80.7%,#779af6 89.1%,#99bafe 96.5%,#a2c0fe 99.8%)"></i><i style="top:83px;height:1px;background:linear-gradient(90deg,#3a4cc0 0.2%,#3c4fc3 42.6%,#4962d3 66.7%,#5b79e4 80.2%,#789bf7 88.6%,#99bafe 96.0%,#a3c1fe 99.8%)"></i><i style="top:84px;height:1px;background:linear-gradient(90deg,#3a4cc0 0.2%,#3c4fc3 42.6%,#4962d3 66.3%,#5b79e4 79.8%,#789bf7 88.1%,#9cbcfe 96.0%,#a4c2fe 99.8%)"></i><i style="top:85px;height:1px;background:linear-gradient(90deg,#3a4cc0 0.2%,#3c4fc3 42.1%,#4962d3 65.8%,#5b79e4 79.3%,#7ca0f9 88.6%,#9cbcfe 95.6%,#a6c3fd 99.8%)"></i><i style="top:86px;height:1px;background:linear-gradient(90deg,#3a4cc0 0.2%,#3c4fc3 42.1%,#4962d3 65.8%,#5b79e4 78.8%,#779af6 86.7%,#9bbbfe 94.7%,#a7c4fd 99.8%)"></i><i style="top:87px;height:1px;background:linear-gradient(90deg,#3a4cc0 0.2%,#3c4fc3 41.6%,#4962d3 65.3%,#5b79e4 78.4%,#779af6 86.3%,#99bafe 93.7%,#a8c5fd 99.3%,#a8c5fd 99.8%)"></i><i style="top:88px;height:1px;background:linear-gradient(90deg,#3a4cc0 0.2%,#3c4fc3 41.6%,#4962d3 64.9%,#5b79e4 77.9%,#7ea1f9 87.2%,#9cbcfe 93.7%,#aac6fd 99.8%)"></i><i style="top:89px;height:1px;background:linear-gradient(90deg,#3a4cc0 0.2%,#3c4fc3 41.2%,#4962d3 64.4%,#5b79e4 77.0%,#789bf7 85.3%,#9bbbfe 92.8%,#abc7fc 99.8%)"></i><i style="top:90px;height:1px;background:linear-gradient(90deg,#3a4cc0 0.2%,#3c4fc3 40.7%,#4962d3 64.0%,#5b79e4 76.5%,#7497f5 84.0%,#9bbbfe 92.3%,#aec9fc 99.8%)"></i><i style="top:91px;height:1px;background:linear-gradient(90deg,#3a4cc0 0.2%,#3c4fc3 40.7%,#4962d3 63.5%,#5b79e4 76.0%,#7497f5 83.5%,#9bbbfe 91.4%,#afcafb 99.8%)"></i><i style="top:92px;height:1px;background:linear-gradient(90deg,#3a4cc0 0.2%,#3c4fc3 40.2%,#4860d1 61.6%,#5b79e4 75.6%,#779af6 83.5%,#9bbbfe 90.9%,#b0cbfb 99.8%)"></i><i style="top:93px;height:1px;background:linear-gradient(90deg,#3a4cc0 0.2%,#3c4fc3 40.2%,#4962d3 62.6%,#5b79e4 75.1%,#7598f6 82.6%,#99bafe 90.0%,#b2cbfb 99.3%,#b2cbfb 99.8%)"></i><i style="top:94px;height:1px;background:linear-gradient(90deg,#3a4cc0 0.2%,#3c4fc3 39.8%,#4962d3 62.6%,#5b79e4 74.7%,#789bf7 82.6%,#98b9fe 89.1%,#b3ccfa 99.3%,#b4cdfa 99.8%)"></i><i style="top:95px;height:1px;background:linear-gradient(90deg,#3a4cc0 0.2%,#3c4fc3 39.8%,#4962d3 62.1%,#5b79e4 74.2%,#7b9ef8 82.6%,#9cbcfe 89.5%,#b6cef9 99.8%)"></i><i style="top:96px;height:1px;background:linear-gradient(90deg,#3a4cc0 0.2%,#3c4fc3 39.3%,#4962d3 61.6%,#5b79e4 73.7%,#779af6 81.2%,#99bafe 88.1%,#b7cff9 99.8%)"></i><i style="top:97px;height:1px;background:linear-gradient(90deg,#3a4cc0 0.2%,#3c4fc3 39.3%,#4962d3 61.2%,#5c7be5 73.7%,#86a9fc 83.5%,#9cbcfe 88.1%,#b9d0f8 99.8%)"></i><i style="top:98px;height:1px;background:linear-gradient(90deg,#3a4cc0 0.2%,#3c4fc3 38.8%,#4860d1 59.3%,#5876e2 71.4%,#7598f6 79.8%,#99bafe 86.7%,#bbd1f7 99.8%)"></i><i style="top:99px;height:1px;background:linear-gradient(90deg,#3a4cc0 0.2%,#3c4fc3 38.8%,#4962d3 60.2%,#5b79e4 71.9%,#7497f5 78.8%,#99bafe 86.3%,#bcd1f6 98.8%,#bdd2f6 99.8%)"></i><i style="top:100px;height:1px;background:linear-gradient(90deg,#3a4cc0 0.2%,#3c4fc3 38.4%,#4962d3 59.8%,#5b79e4 71.4%,#779af6 78.8%,#98b9fe 85.3%,#bed3f5 99.3%,#bed3f5 99.8%)"></i><i style="top:101px;height:1px;background:linear-gradient(90deg,#3a4cc0 0.2%,#3c4fc3 37.9%,#4860d1 57.9%,#5876e2 70.0%,#7598f6 77.9%,#98b9fe 84.9%,#b2cbfb 93.3%,#c1d4f4 99.8%)"></i><i style="top:102px;height:1px;background:linear-gradient(90deg,#3a4cc0 0.2%,#3c4fc3 37.9%,#4962d3 58.8%,#5b79e4 70.5%,#789bf7 77.9%,#99bafe 84.4%,#c1d4f4 98.8%,#c2d4f3 99.8%)"></i><i style="top:103px;height:1px;background:linear-gradient(90deg,#3a4cc0 0.2%,#3c4fc3 37.4%,#4962d3 58.4%,#5b79e4 70.0%,#7497f5 76.5%,#99bafe 84.0%,#bed3f5 97.0%,#c5d5f2 99.8%)"></i><i style="top:104px;height:1px;background:linear-gradient(90deg,#3a4cc0 0.2%,#3c4fc3 37.4%,#4962d3 57.9%,#5b79e4 69.5%,#779af6 76.5%,#9bbbfe 83.5%,#c1d4f4 97.0%,#c6d6f1 99.8%)"></i><i style="top:105px;height:1px;background:linear-gradient(90deg,#3a4cc0 0.2%,#3c4fc3 37.0%,#4962d3 57.4%,#5b79e4 69.1%,#7fa2fa 77.4%,#9fbefe 84.0%,#c2d4f3 97.0%,#c8d7ef 99.8%)"></i><i style="top:106px;height:1px;background:linear-gradient(90deg,#3a4cc0 0.2%,#3c4fc3 37.0%,#4b64d4 58.4%,#5b79e4 68.6%,#80a4fa 77.0%,#9fbefe 83.5%,#c5d5f2 97.0%,#cad8ee 99.8%)"></i><i style="top:107px;height:1px;background:linear-gradient(90deg,#3a4cc0 0.2%,#3c4fc3 36.5%,#4962d3 57.0%,#5b79e4 67.7%,#7497f5 74.2%,#98b9fe 81.2%,#b7cff9 91.4%,#cdd9ec 99.8%)"></i><i style="top:108px;height:1px;background:linear-gradient(90deg,#3a4cc0 0.2%,#3c4fc3 36.5%,#4962d3 56.5%,#5b79e4 67.2%,#7497f5 73.7%,#95b7fe 79.8%,#bdd2f6 92.8%,#cfd9ea 99.8%)"></i><i style="top:109px;height:1px;background:linear-gradient(90deg,#3a4cc0 0.2%,#3c4fc3 36.0%,#4962d3 56.0%,#5c7be5 67.2%,#7fa2fa 75.1%,#9cbcfe 80.7%,#c1d4f4 93.3%,#d1dae8 99.8%)"></i><i style="top:110px;height:1px;background:linear-gradient(90deg,#3a4cc0 0.2%,#3c4fc3 35.6%,#4962d3 55.6%,#5c7be5 66.7%,#80a4fa 74.7%,#9cbcfe 80.2%,#c2d4f3 93.3%,#d3dbe6 99.8%)"></i><i style="top:111px;height:1px;background:linear-gradient(90deg,#3a4cc0 0.2%,#3c4fc3 35.6%,#4962d3 55.1%,#5c7be5 66.3%,#83a6fb 74.7%,#9cbcfe 79.3%,#c1d4f4 91.9%,#d7dbe2 99.8%)"></i><i style="top:112px;height:1px;background:linear-gradient(90deg,#3a4cc0 0.2%,#3c4fc3 35.1%,#4860d1 53.3%,#5b79e4 65.3%,#7ca0f9 72.8%,#9fbefe 79.3%,#c1d4f4 91.4%,#dbdcde 99.8%)"></i><i style="top:113px;height:1px;background:linear-gradient(90deg,#3a4cc0 0.2%,#3c4fc3 35.1%,#4b64d4 55.1%,#5b79e4 64.4%,#7598f6 70.9%,#99bafe 77.4%,#bed3f5 89.5%,#d6dbe4 97.0%,#dedbda 99.8%)"></i><i style="top:114px;height:1px;background:linear-gradient(90deg,#3a4cc0 0.2%,#3c4fc3 34.7%,#4b64d4 54.7%,#5b79e4 64.0%,#779af6 70.5%,#9fbefe 77.9%,#c2d4f3 90.0%,#d6dbe4 96.0%,#e2d9d4 99.8%)"></i><i style="top:115px;height:1px;background:linear-gradient(90deg,#3a4cc0 0.2%,#3c4fc3 34.7%,#4962d3 53.3%,#5b79e4 63.5%,#7ca0f9 70.9%,#9fbefe 77.4%,#c5d5f2 90.0%,#d7dbe2 95.6%,#e6d7cf 99.8%)"></i><i style="top:116px;height:1px;background:linear-gradient(90deg,#3a4cc0 0.2%,#3c4fc3 34.2%,#4962d3 52.8%,#5b79e4 63.0%,#789bf7 69.5%,#99bafe 75.6%,#c1d4f4 88.1%,#d8dbe1 95.1%,#e8d5ca 99.3%,#e9d4c9 99.8%)"></i><i style="top:117px;height:1px;background:linear-gradient(90deg,#3a4cc0 0.2%,#3c4fc3 33.7%,#4962d3 52.3%,#5b79e4 62.6%,#7b9ef8 69.5%,#98b9fe 74.7%,#bcd1f6 85.8%,#d6dbe4 93.7%,#e6d7cf 97.4%,#ecd1c3 99.3%,#ecd1c3 99.8%)"></i><i style="top:118px;height:1px;background:linear-gradient(90deg,#3a4cc0 0.2%,#3c4fc3 33.7%,#4962d3 51.9%,#5a78e3 61.6%,#779af6 68.1%,#99bafe 74.2%,#c1d4f4 86.7%,#dbdcde 94.2%,#efcebc 99.3%,#efcdbb 99.8%)"></i><i style="top:119px;height:1px;background:linear-gradient(90deg,#3a4cc0 0.2%,#3c4fc3 33.3%,#4962d3 51.4%,#5876e2 60.2%,#6d90f1 65.8%,#92b4fe 72.3%,#a6c3fd 77.0%,#c7d6f0 87.7%,#dedbda 94.2%,#f1cab6 99.3%,#f2c9b5 99.8%)"></i><i style="top:120px;height:1px;background:linear-gradient(90deg,#3a4cc0 0.2%,#3c4fc3 33.3%,#4962d3 50.9%,#5876e2 59.8%,#7598f6 66.7%,#97b8fe 72.3%,#bed3f5 84.4%,#d5dbe5 90.9%,#e5d8d0 94.7%,#f3c5af 99.3%,#f3c5af 99.8%)"></i><i style="top:121px;height:1px;background:linear-gradient(90deg,#3a4cc0 0.2%,#3c4fc3 32.8%,#4962d3 50.5%,#5876e2 59.3%,#7497f5 65.8%,#99bafe 72.3%,#c1d4f4 84.4%,#d5dbe5 90.0%,#e4d8d1 93.7%,#f4c2aa 98.8%,#f5c0a7 99.8%)"></i><i style="top:122px;height:1px;background:linear-gradient(90deg,#3a4cc0 0.2%,#3c4fc3 32.3%,#4962d3 50.0%,#5a78e3 59.3%,#7598f6 65.3%,#98b9fe 71.4%,#bbd1f7 81.6%,#d6dbe4 89.5%,#e8d5ca 93.7%,#f6bda4 98.8%,#f6bba0 99.8%)"></i><i style="top:123px;height:1px;background:linear-gradient(90deg,#3a4cc0 0.2%,#3c4fc3 32.3%,#4962d3 49.5%,#5b79e4 58.8%,#789bf7 65.3%,#99bafe 70.9%,#bdd2f6 81.6%,#d7dbe2 89.1%,#e7d6cc 92.8%,#f5bfa5 97.4%,#f6b69a 99.8%)"></i><i style="top:124px;height:1px;background:linear-gradient(90deg,#3a4cc0 0.2%,#3c4fc3 31.9%,#4860d1 48.1%,#5876e2 57.4%,#7497f5 64.0%,#9bbbfe 70.5%,#c1d4f4 82.1%,#d9dce0 88.6%,#edd0c1 93.3%,#f7b598 98.4%,#f7b194 99.8%)"></i><i style="top:125px;height:1px;background:linear-gradient(90deg,#3a4cc0 0.2%,#3c4fc3 31.9%,#4962d3 48.6%,#5b79e4 57.9%,#789bf7 64.0%,#9dbdfe 70.5%,#c2d4f3 81.6%,#dcdcdd 88.6%,#f1cab6 93.7%,#f7b092 98.4%,#f6ab8d 99.8%)"></i><i style="top:126px;height:1px;background:linear-gradient(90deg,#3a4cc0 0.2%,#3c4fc3 31.4%,#4962d3 48.1%,#5b79e4 57.4%,#7598f6 63.0%,#9bbbfe 69.1%,#c1d4f4 80.2%,#d5dbe5 85.8%,#e5d8d0 89.5%,#f6ba9f 95.6%,#f6a687 99.8%)"></i><i style="top:127px;height:1px;background:linear-gradient(90deg,#3a4cc0 0.2%,#3c4fc3 30.9%,#4860d1 46.7%,#5a78e3 56.5%,#779af6 62.6%,#9bbbfe 68.6%,#c1d4f4 79.8%,#dadcdf 86.3%,#efcdbb 91.4%,#f7ad8f 97.0%,#f5a182 99.8%)"></i><i style="top:128px;height:1px;background:linear-gradient(90deg,#3a4cc0 0.2%,#3c4fc3 30.9%,#4962d3 47.2%,#5673e0 54.2%,#6889ee 59.3%,#90b2fe 65.8%,#afcafb 73.3%,#cfd9ea 83.0%,#e2d9d4 87.2%,#f5c1a8 92.8%,#f5a182 97.9%,#f49a7b 99.8%)"></i><i style="top:129px;height:1px;background:linear-gradient(90deg,#3a4cc0 0.2%,#3c4fc3 30.5%,#4962d3 46.7%,#5c7be5 56.0%,#7fa2fa 62.6%,#9bbbfe 67.2%,#c1d4f4 77.9%,#d9dce0 84.4%,#efcdbb 89.5%,#f7ae91 94.7%,#f39576 98.8%,#f29375 99.8%)"></i><i style="top:130px;height:1px;background:linear-gradient(90deg,#3a4cc0 0.2%,#3c4fc3 30.0%,#4860d1 45.3%,#5b79e4 55.1%,#7ca0f9 61.6%,#99bafe 66.3%,#bed3f5 76.5%,#d7dbe2 83.0%,#e6d7cf 86.3%,#f6bba0 91.9%,#f39576 97.0%,#ef896c 99.8%)"></i><i style="top:131px;height:1px;background:linear-gradient(90deg,#3a4cc0 0.2%,#3c4fc3 30.0%,#4962d3 45.8%,#5a78e3 54.2%,#789bf7 60.2%,#99bafe 65.3%,#bed3f5 75.6%,#dadcdf 83.0%,#efcebc 87.7%,#f7ae91 92.8%,#f08b6d 97.0%,#eb7f63 99.8%)"></i><i style="top:132px;height:1px;background:linear-gradient(90deg,#3a4cc0 0.2%,#3c4fc3 29.5%,#4860d1 44.4%,#5b79e4 53.7%,#7194f4 58.4%,#9cbcfe 65.3%,#c5d5f2 76.5%,#dedbda 83.0%,#f4c4ad 88.6%,#f6a789 92.8%,#ea7d61 97.0%,#e67259 98.8%,#e57057 99.8%)"></i><i style="top:133px;height:1px;background:linear-gradient(90deg,#3a4cc0 0.2%,#3c4fc3 29.5%,#4962d3 44.9%,#5b79e4 53.3%,#789bf7 58.8%,#a0bffe 65.3%,#c3d5f2 75.6%,#dbdcde 81.2%,#efcebc 85.8%,#f6ab8d 91.4%,#f39576 93.7%,#e57057 96.5%,#dd604c 99.3%,#dd604c 99.8%)"></i><i style="top:134px;height:1px;background:linear-gradient(90deg,#3a4cc0 0.2%,#3c4fc3 29.1%,#4962d3 44.4%,#5b79e4 52.8%,#7fa2fa 59.3%,#a0bffe 64.9%,#c5d5f2 75.1%,#dfdbd9 81.2%,#f4c4ad 86.7%,#f59e7f 92.3%,#df644f 96.0%,#d65243 98.4%,#d44f42 99.8%)"></i><i style="top:135px;height:1px;background:linear-gradient(90deg,#3a4cc0 0.2%,#3c4fc3 28.6%,#4860d1 43.0%,#5876e2 51.4%,#779af6 57.4%,#95b7fe 62.1%,#b3ccfa 69.1%,#d1dae8 77.4%,#e3d9d3 81.2%,#f5c1a8 86.3%,#f39678 92.3%,#df644f 95.1%,#d1493e 97.0%,#cd423a 99.3%,#cd423a 99.8%)"></i><i style="top:136px;height:1px;background:linear-gradient(90deg,#3a4cc0 0.2%,#3c4fc3 28.6%,#4962d3 43.5%,#5775e1 50.5%,#7598f6 56.5%,#97b8fe 61.6%,#bbd1f7 70.5%,#d6dbe4 77.4%,#e7d6cc 81.2%,#f6bda4 85.8%,#f29173 91.9%,#ea7d61 93.3%,#d34d40 95.6%,#c63534 97.4%,#c53233 99.8%)"></i><i style="top:137px;height:1px;background:linear-gradient(90deg,#3a4cc0 0.2%,#3c4fc3 28.1%,#4962d3 43.0%,#5b79e4 50.9%,#7fa2fa 57.4%,#98b9fe 61.2%,#b8cff8 69.1%,#d5dbe5 76.5%,#e7d6cd 80.2%,#f6ba9f 85.3%,#f19072 90.9%,#ea7b60 92.8%,#cc3f39 95.6%,#c12a30 97.4%,#c22d31 99.8%)"></i><i style="top:138px;height:1px;background:linear-gradient(90deg,#3a4cc0 0.2%,#3c4fc3 27.7%,#4962d3 42.6%,#5a78e3 50.0%,#789bf7 55.6%,#99bafe 60.7%,#c1d4f4 70.5%,#dbdcde 77.0%,#f0ccb9 81.6%,#f6ab8d 86.3%,#ee8669 90.5%,#e57057 92.8%,#c83835 95.6%,#bf282e 97.0%,#c22d31 99.8%)"></i><i style="top:139px;height:1px;background:linear-gradient(90deg,#3a4cc0 0.2%,#3c4fc3 27.7%,#4962d3 42.1%,#5b79e4 49.5%,#7395f4 54.2%,#99bafe 59.8%,#bed3f5 69.1%,#d9dce0 75.6%,#eecfbe 80.2%,#f7b092 84.9%,#eb7f63 89.5%,#e16852 92.3%,#c63534 95.6%,#c22d31 97.0%,#c93b37 99.8%)"></i><i style="top:140px;height:1px;background:linear-gradient(90deg,#3a4cc0 0.2%,#3c4fc3 27.2%,#4962d3 41.6%,#5b79e4 49.1%,#7497f5 53.7%,#99bafe 59.3%,#b7cff9 66.3%,#d1dae8 72.8%,#e2d9d4 76.5%,#f4c2aa 81.6%,#f6a384 85.3%,#e8775d 88.6%,#dd604c 91.4%,#d44f42 93.3%,#c93b37 95.1%,#c93b37 97.0%,#d34d40 99.8%)"></i><i style="top:141px;height:1px;background:linear-gradient(90deg,#3a4cc0 0.2%,#3c4fc3 26.7%,#4962d3 41.2%,#5d7de6 49.1%,#86a9fc 55.6%,#a7c4fd 61.2%,#cad8ee 70.5%,#e0dad7 75.1%,#f4c4ad 80.2%,#f6a687 84.4%,#ea7b60 87.2%,#dd604c 89.1%,#d44f42 91.4%,#ce443c 93.7%,#cc3f39 94.7%,#d1493e 96.5%,#de624e 99.3%,#df644f 99.8%)"></i><i style="top:142px;height:1px;background:linear-gradient(90deg,#3a4cc0 0.2%,#3c4fc3 26.7%,#4962d3 40.7%,#5c7be5 48.1%,#7ea1f9 53.7%,#9cbcfe 58.4%,#c1d4f4 67.2%,#d9dce0 72.8%,#ecd2c4 76.5%,#f7b194 82.1%,#f39879 84.9%,#df644f 87.7%,#cf463d 90.0%,#cc3f39 91.4%,#ce443c 94.7%,#dd604c 97.0%,#e8775d 98.8%,#ea7b60 99.8%)"></i><i style="top:143px;height:1px;background:linear-gradient(90deg,#3a4cc0 0.2%,#3c4fc3 26.3%,#4962d3 39.8%,#5775e1 46.3%,#7b9ef8 52.8%,#91b3fe 55.6%,#b7cff9 64.0%,#d3dbe6 70.9%,#e7d6cd 74.7%,#f6bba0 79.3%,#f39576 84.4%,#e6745a 86.3%,#cc3f39 89.1%,#c63534 90.9%,#ce443c 93.7%,#e46e56 96.5%,#f18e70 98.8%,#f29375 99.8%)"></i><i style="top:144px;height:1px;background:linear-gradient(90deg,#3a4cc0 0.2%,#3c4fc3 25.8%,#4962d3 39.3%,#5571de 44.9%,#6d90f1 50.0%,#98b9fe 56.0%,#bbd1f7 64.0%,#d5dbe5 70.0%,#e5d8d0 73.3%,#f4c2aa 77.4%,#f5a081 81.6%,#ef896c 84.4%,#e16852 86.3%,#ce443c 88.1%,#c43032 89.5%,#c43032 91.4%,#d24b3f 93.7%,#f08b6d 97.0%,#f6a486 98.8%,#f6a98a 99.8%)"></i><i style="top:145px;height:1px;background:linear-gradient(90deg,#3a4cc0 0.2%,#3c4fc3 25.8%,#4962d3 38.8%,#5c7be5 46.3%,#89acfc 53.3%,#a3c1fe 57.4%,#c6d6f1 65.8%,#dddcdb 70.9%,#f3c6b0 76.0%,#f5a081 80.2%,#e8775d 84.9%,#ce443c 87.7%,#c53233 89.1%,#c22d31 90.0%,#c63534 91.4%,#de624e 94.2%,#f5a081 97.0%,#f6b79c 98.8%,#f6bba0 99.8%)"></i><i style="top:146px;height:1px;background:linear-gradient(90deg,#3a4cc0 0.2%,#3c4fc3 25.3%,#4860d1 37.4%,#5775e1 44.4%,#7093f3 49.1%,#98b9fe 54.7%,#bcd1f6 62.6%,#d5dbe5 68.1%,#e7d6cd 71.9%,#f6bca2 76.5%,#f29173 80.2%,#e8775d 83.0%,#e16852 84.9%,#cc3f39 87.7%,#c83835 89.1%,#c93b37 90.5%,#d65243 92.3%,#ec8064 94.7%,#f7b194 97.0%,#f3c5af 98.8%,#f2c8b3 99.8%)"></i><i style="top:147px;height:1px;background:linear-gradient(90deg,#3a4cc0 0.2%,#3c4fc3 24.9%,#4860d1 37.0%,#5a78e3 44.4%,#789bf7 49.5%,#a0bffe 55.1%,#c3d5f2 63.5%,#dedbda 69.1%,#f4c3ab 74.7%,#f6aa8c 77.4%,#ea7b60 80.7%,#e06650 83.0%,#d1493e 86.7%,#cd423a 88.1%,#d34d40 90.5%,#e46e56 92.8%,#f6a98a 95.6%,#f3c5af 97.4%,#ecd2c4 99.3%,#ebd3c6 99.8%)"></i><i style="top:148px;height:1px;background:linear-gradient(90deg,#3a4cc0 0.2%,#3c4fc3 24.9%,#4b64d4 37.9%,#5876e2 43.5%,#779af6 48.6%,#9dbdfe 54.2%,#c3d5f2 62.6%,#dcdcdd 67.7%,#f3c5af 73.3%,#f7ad8f 76.5%,#ec8266 79.3%,#dc5e4b 81.6%,#d65243 83.5%,#cf463d 87.2%,#dc5e4b 90.0%,#ee8669 92.8%,#f6b99d 95.6%,#ead3c7 97.9%,#e2d9d4 99.8%)"></i><i style="top:149px;height:1px;background:linear-gradient(90deg,#3a4cc0 0.2%,#3c4fc3 24.4%,#4860d1 36.0%,#5b79e4 43.5%,#7ca0f9 48.6%,#a4c2fe 54.7%,#c9d7ee 63.0%,#dedbda 67.2%,#f4c3ab 72.3%,#f6a486 76.5%,#ee876a 78.4%,#da5a48 80.7%,#ce443c 82.6%,#cf463d 85.8%,#da5a48 88.1%,#f39678 92.3%,#f6bba0 94.7%,#e6d7cf 97.4%,#dadcdf 99.3%,#d9dce0 99.8%)"></i><i style="top:150px;height:1px;background:linear-gradient(90deg,#3a4cc0 0.2%,#3c4fc3 24.0%,#4860d1 35.6%,#5a78e3 42.6%,#7ea1f9 48.1%,#98b9fe 51.9%,#bbd1f7 58.8%,#d3dbe6 64.4%,#e6d7cf 67.7%,#f6ba9f 72.3%,#f49a7b 76.5%,#e67259 78.8%,#d24b3f 80.7%,#c83835 82.6%,#cc3f39 84.9%,#da5a48 87.2%,#f08d6f 90.0%,#f6ba9f 93.3%,#e8d5ca 96.0%,#dadcdf 97.9%,#d1dae8 99.8%)"></i><i style="top:151px;height:1px;background:linear-gradient(90deg,#3a4cc0 0.2%,#3c4fc3 24.0%,#4962d3 35.6%,#5876e2 41.6%,#7fa2fa 47.7%,#9dbdfe 51.9%,#c1d4f4 59.3%,#dedbda 65.3%,#f2c8b3 69.5%,#f6a486 73.7%,#f18e70 76.5%,#e57057 78.4%,#cd423a 80.7%,#c53233 82.6%,#ca3d38 84.4%,#dd604c 86.7%,#f49b7c 89.5%,#f5c0a7 92.3%,#e6d7cf 95.1%,#d6dbe4 97.4%,#ccd8ed 99.8%)"></i><i style="top:152px;height:1px;background:linear-gradient(90deg,#3a4cc0 0.2%,#3c4fc3 23.5%,#4962d3 35.1%,#5d7de6 42.1%,#87aafc 48.1%,#9dbdfe 50.9%,#c1d4f4 58.4%,#dedbda 64.4%,#f0ccb9 68.1%,#f7b194 70.9%,#f18e70 74.7%,#e7755c 77.4%,#ce443c 80.2%,#c83835 82.1%,#cd423a 84.0%,#e16852 86.3%,#f49b7c 88.6%,#f6bba0 90.5%,#e8d5ca 93.3%,#dbdcde 95.1%,#c9d7ee 98.8%,#c8d7ef 99.8%)"></i><i style="top:153px;height:1px;background:linear-gradient(90deg,#3a4cc0 0.2%,#3c4fc3 23.0%,#4962d3 34.7%,#5c7be5 41.2%,#86a9fc 47.2%,#a2c0fe 50.9%,#c5d5f2 58.4%,#dfdbd9 63.5%,#f3c6b0 68.1%,#f6a687 70.9%,#f18e70 72.8%,#e36c54 77.0%,#ce443c 80.2%,#ce443c 82.1%,#da5a48 84.4%,#f19072 87.2%,#f6b79c 89.1%,#eecfbe 90.9%,#d9dce0 93.7%,#cad8ee 97.4%,#c7d6f0 99.8%)"></i><i style="top:154px;height:1px;background:linear-gradient(90deg,#3a4cc0 0.2%,#3c4fc3 22.6%,#4962d3 34.2%,#5a78e3 39.8%,#7093f3 43.5%,#97b8fe 48.6%,#abc7fc 51.9%,#ccd8ed 58.8%,#e0dad7 62.6%,#f4c3ab 67.7%,#f6a98a 70.0%,#ec8266 72.3%,#e16852 74.7%,#d65243 78.8%,#d24b3f 80.2%,#d65243 81.6%,#e67259 84.4%,#f6a486 87.2%,#f0ccb9 89.5%,#dddcdb 91.9%,#ccd8ed 94.2%,#c8d7ef 99.8%)"></i><i style="top:155px;height:1px;background:linear-gradient(90deg,#3a4cc0 0.2%,#3c4fc3 22.6%,#4962d3 33.7%,#5f7ee7 40.2%,#7a9df8 44.0%,#a3c1fe 49.5%,#c7d6f0 57.0%,#dedbda 61.2%,#f4c4ad 66.3%,#f7ad8f 69.1%,#e9795e 71.9%,#da5a48 74.2%,#d65243 76.5%,#d65243 79.3%,#dd604c 81.2%,#f29375 84.9%,#f5bfa5 87.7%,#e4d8d1 90.0%,#d2dae7 91.9%,#c2d4f3 94.7%,#c9d7ee 99.8%)"></i><i style="top:156px;height:1px;background:linear-gradient(90deg,#3a4cc0 0.2%,#3c4fc3 22.1%,#4962d3 33.3%,#5d7de6 39.3%,#8aadfd 45.3%,#b2cbfb 51.4%,#d2dae7 58.4%,#e4d8d1 61.2%,#f5c0a7 65.8%,#f6a384 69.1%,#e26a53 71.9%,#d34d40 73.7%,#ce443c 75.6%,#d65243 78.4%,#df644f 80.2%,#f39879 83.5%,#f6bca2 86.3%,#e4d8d1 89.1%,#d2dae7 90.9%,#bed3f5 93.7%,#c6d6f1 97.4%,#ccd8ed 99.8%)"></i><i style="top:157px;height:1px;background:linear-gradient(90deg,#3a4cc0 0.2%,#3c4fc3 21.6%,#4962d3 32.3%,#5a78e3 37.9%,#7ca0f9 43.0%,#94b5fe 45.8%,#b9d0f8 52.3%,#d6dbe4 57.9%,#e9d4c9 61.2%,#f6bba0 64.9%,#f6a486 68.1%,#ee876a 70.0%,#d34d40 72.8%,#ca3d38 74.7%,#cc3f39 76.0%,#dc5e4b 78.8%,#f49b7c 82.1%,#f6ba9f 84.4%,#e8d5ca 87.7%,#d8dbe1 89.5%,#c1d4f4 92.3%,#b9d0f8 94.2%,#cfd9ea 99.8%)"></i><i style="top:158px;height:1px;background:linear-gradient(90deg,#3a4cc0 0.2%,#3c4fc3 21.2%,#4962d3 31.9%,#5b79e4 37.4%,#83a6fb 43.0%,#9fbefe 46.7%,#c1d4f4 52.8%,#dbdcde 57.9%,#edcfc0 61.2%,#f7b397 64.4%,#f29375 68.6%,#e6745a 70.5%,#d44f42 72.3%,#cc3f39 73.7%,#cc3f39 75.6%,#d34d40 77.0%,#ec8064 79.8%,#f7b194 82.1%,#f2c7b2 84.0%,#dcdcdd 88.1%,#c2d4f3 91.9%,#b9d0f8 94.2%,#d1dae8 99.8%)"></i><i style="top:159px;height:1px;background:linear-gradient(90deg,#3a4cc0 0.2%,#3c4fc3 21.2%,#4962d3 31.4%,#5c7be5 37.0%,#85a8fb 42.6%,#a3c1fe 46.3%,#cad8ee 53.7%,#e1dad6 57.9%,#f2c9b5 61.2%,#f6a789 64.4%,#f08b6d 68.1%,#e7755c 70.0%,#d75444 71.9%,#ce443c 73.7%,#d24b3f 75.6%,#e46e56 77.9%,#f59e7f 80.2%,#f4c3ab 82.1%,#ead3c7 84.0%,#d9dce0 87.7%,#bdd2f6 93.3%,#c3d5f2 96.0%,#d3dbe6 99.8%)"></i><i style="top:160px;height:1px;background:linear-gradient(90deg,#3a4cc0 0.2%,#3c4fc3 20.7%,#4860d1 30.0%,#5571de 34.7%,#6d90f1 38.8%,#92b4fe 43.5%,#aac6fd 46.7%,#d0dae9 53.7%,#e5d8d0 57.4%,#f4c2aa 61.2%,#f59e7f 64.0%,#ed8467 66.7%,#e6745a 69.5%,#d95847 71.9%,#d75444 73.7%,#dd604c 75.6%,#ed8467 77.9%,#f7b295 80.2%,#e8d5ca 82.6%,#dfdbd9 84.0%,#ccd8ed 90.9%,#c2d4f3 94.7%,#d3dbe6 99.8%)"></i><i style="top:161px;height:1px;background:linear-gradient(90deg,#3a4cc0 0.2%,#3c4fc3 20.2%,#4860d1 29.5%,#5a78e3 35.1%,#7b9ef8 39.8%,#a4c2fe 44.9%,#cad8ee 51.9%,#dfdbd9 55.1%,#f3c6b0 59.8%,#f7ad8f 62.1%,#ed8467 64.9%,#e7755c 66.7%,#dd604c 72.3%,#e7755c 75.1%,#f08d6f 77.0%,#f7b397 79.3%,#edd0c1 81.2%,#dddcdb 82.6%,#d2dae7 84.4%,#ccd8ed 92.8%,#cad8ee 95.6%,#d5dbe5 99.8%)"></i><i style="top:162px;height:1px;background:linear-gradient(90deg,#3a4cc0 0.2%,#3c4fc3 19.8%,#4860d1 29.1%,#5b79e4 34.7%,#86a9fc 40.2%,#afcafb 45.8%,#d0dae9 51.9%,#e3d9d3 54.7%,#f4c2aa 59.3%,#f6aa8c 61.6%,#ea7b60 64.4%,#e16852 66.3%,#e26a53 70.9%,#eb7f63 73.7%,#f6aa8c 77.4%,#f1cab6 79.8%,#dcdcdd 81.6%,#ccd8ed 83.5%,#cdd9ec 86.3%,#d7dbe2 91.4%,#d1dae8 96.0%,#d5dbe5 99.8%)"></i><i style="top:163px;height:1px;background:linear-gradient(90deg,#3a4cc0 0.2%,#3c4fc3 19.3%,#475fd0 27.7%,#5775e1 33.3%,#7497f5 37.4%,#94b5fe 41.2%,#b7cff9 46.3%,#d3dbe6 51.4%,#e6d7cf 54.2%,#f5c0a7 58.4%,#f6a98a 61.2%,#e7755c 64.0%,#dd604c 65.8%,#dd604c 68.1%,#ea7d61 71.9%,#f6ab8d 75.6%,#f2c7b2 78.4%,#dedbda 80.7%,#c7d6f0 82.6%,#c3d5f2 84.4%,#dddcdb 91.4%,#d3dbe6 98.8%,#d3dbe6 99.8%)"></i><i style="top:164px;height:1px;background:linear-gradient(90deg,#3a4cc0 0.2%,#3c4fc3 19.3%,#4b64d4 29.1%,#5d7de6 33.7%,#7fa2fa 37.9%,#9bbbfe 41.2%,#c0d3f5 46.7%,#dadcdf 51.4%,#eecfbe 54.7%,#f6bba0 57.4%,#f6a98a 60.2%,#f39879 61.6%,#e16852 64.4%,#da5a48 66.3%,#de624e 68.1%,#ec8266 70.9%,#f7b194 74.2%,#ecd2c4 78.4%,#d5dbe5 80.7%,#c0d3f5 82.6%,#bed3f5 84.4%,#dcdcdd 89.5%,#e3d9d3 91.9%,#d3dbe6 99.8%)"></i><i style="top:165px;height:1px;background:linear-gradient(90deg,#3a4cc0 0.2%,#3c4fc3 18.8%,#4962d3 27.7%,#5b79e4 32.3%,#7ca0f9 37.0%,#9fbefe 40.7%,#c6d6f1 46.7%,#e0dad7 51.4%,#f2c7b2 54.7%,#f7b092 57.4%,#f49b7c 60.7%,#ec8266 62.6%,#e06650 64.4%,#dc5e4b 66.3%,#e26a53 68.1%,#f29375 70.9%,#f6bca2 73.7%,#ecd1c3 76.5%,#dddcdb 79.3%,#bbd1f7 82.6%,#bdd2f6 84.4%,#d6dbe4 88.1%,#e7d6cc 91.9%,#d3dbe6 98.8%,#d2dae7 99.8%)"></i><i style="top:166px;height:1px;background:linear-gradient(90deg,#3a4cc0 0.2%,#3c4fc3 18.4%,#4962d3 27.2%,#5f7ee7 32.3%,#8daffd 37.9%,#abc7fc 41.6%,#ccd8ed 46.7%,#e1dad6 50.5%,#f2c7b2 53.7%,#f6aa8c 56.5%,#f08b6d 61.6%,#e57057 64.0%,#e26a53 65.8%,#e7755c 67.7%,#f19072 69.5%,#f6bba0 72.3%,#edd0c1 74.7%,#dadcdf 79.3%,#bcd1f6 82.6%,#bbd1f7 84.0%,#d3dbe6 87.7%,#e4d8d1 90.5%,#e9d4c9 92.3%,#d7dbe2 97.9%,#d2dae7 99.8%)"></i><i style="top:167px;height:1px;background:linear-gradient(90deg,#3a4cc0 0.2%,#3c4fc3 17.9%,#4962d3 26.7%,#5d7de6 31.4%,#86a9fc 36.5%,#a8c5fd 40.2%,#c6d6f1 44.9%,#dedbda 48.6%,#f1cbb8 52.3%,#f7ad8f 55.1%,#f49a7b 57.0%,#f18e70 59.8%,#ed8467 62.1%,#e9795e 64.4%,#ec8064 66.7%,#f49d7e 69.1%,#f5c0a7 71.4%,#e7d6cc 74.2%,#dedbda 77.9%,#d3dbe6 80.2%,#bdd2f6 83.0%,#cdd9ec 86.7%,#e2d9d4 90.0%,#e9d4c9 92.8%,#d7dbe2 97.9%,#d2dae7 99.8%)"></i><i style="top:168px;height:1px;background:linear-gradient(90deg,#3a4cc0 0.2%,#3c4fc3 17.4%,#4860d1 25.3%,#5a78e3 30.0%,#8aadfd 36.0%,#b2cbfb 40.7%,#d0dae9 45.3%,#e3d9d3 48.1%,#f4c4ad 52.3%,#f49b7c 55.6%,#ee876a 57.9%,#ee876a 64.4%,#f5a081 67.7%,#f4c4ad 70.5%,#e7d6cd 72.8%,#dedbda 75.1%,#dedbda 79.3%,#c3d5f2 83.0%,#ced9eb 86.7%,#e3d9d3 90.5%,#e7d6cc 92.3%,#d3dbe6 99.3%,#d2dae7 99.8%)"></i><i style="top:169px;height:1px;background:linear-gradient(90deg,#3a4cc0 0.2%,#3c4fc3 17.0%,#4860d1 24.9%,#5b79e4 29.5%,#87aafc 34.7%,#b2cbfb 39.8%,#d0dae9 44.4%,#e1dad6 46.7%,#f3c6b0 50.9%,#f7b194 53.3%,#ed8467 56.5%,#ea7d61 58.8%,#f29375 64.0%,#f6b99d 68.1%,#e8d5ca 70.9%,#dedbda 72.8%,#dcdcdd 75.6%,#e3d9d3 79.3%,#cdd9ec 82.6%,#cad8ee 84.9%,#dedbda 89.5%,#e6d7cf 91.9%,#e2d9d4 94.7%,#d5dbe5 99.8%)"></i><i style="top:170px;height:1px;background:linear-gradient(90deg,#3a4cc0 0.2%,#3c4fc3 17.0%,#4962d3 24.4%,#5c7be5 29.1%,#87aafc 33.7%,#b2cbfb 38.8%,#d3dbe6 44.0%,#e7d6cc 46.7%,#f5c1a8 50.5%,#f7b092 52.8%,#ee876a 55.6%,#e8775d 57.4%,#ea7b60 59.3%,#f49a7b 63.5%,#f5c1a8 67.2%,#e7d6cd 70.0%,#dadcdf 71.4%,#d6dbe4 73.3%,#e2d9d4 77.0%,#e9d4c9 79.3%,#e0dad7 81.2%,#d2dae7 83.5%,#d3dbe6 86.7%,#e5d8d0 92.3%,#d7dbe2 99.8%)"></i><i style="top:171px;height:1px;background:linear-gradient(90deg,#3a4cc0 0.2%,#3c4fc3 16.5%,#4962d3 24.0%,#6586ec 29.5%,#90b2fe 33.7%,#b9d0f8 38.8%,#d8dbe1 43.5%,#ecd2c4 46.3%,#f6bba0 50.0%,#f6a98a 52.8%,#eb7f63 56.0%,#e8775d 57.9%,#f08b6d 61.2%,#f6a486 63.5%,#f3c5af 66.3%,#e6d7cf 69.1%,#d5dbe5 70.9%,#d1dae8 72.8%,#e1dad6 76.0%,#eecfbe 79.3%,#e8d5ca 81.2%,#dbdcde 83.5%,#d7dbe2 86.3%,#e4d8d1 92.8%,#dadcdf 99.8%)"></i><i style="top:172px;height:1px;background:linear-gradient(90deg,#3a4cc0 0.2%,#3c4fc3 16.0%,#4860d1 23.0%,#6889ee 29.1%,#8eb1fd 32.8%,#afcafb 36.5%,#d3dbe6 41.6%,#e6d7cf 44.4%,#f6bca2 48.1%,#f6a486 52.8%,#ec8266 56.0%,#eb7f63 57.9%,#f29173 61.2%,#f6aa8c 63.5%,#f2c8b3 65.8%,#dcdcdd 69.5%,#cfd9ea 71.4%,#d6dbe4 73.7%,#e8d5ca 76.5%,#f2c7b2 79.3%,#eecfbe 81.2%,#e1dad6 84.0%,#dddcdb 86.7%,#e5d8d0 92.8%,#dfdbd9 99.8%)"></i><i style="top:173px;height:1px;background:linear-gradient(90deg,#3a4cc0 0.2%,#3c4fc3 15.6%,#475fd0 22.1%,#5f7ee7 26.7%,#80a4fa 30.9%,#a2c0fe 33.7%,#c6d6f1 38.4%,#dfdbd9 42.1%,#efcdbb 44.9%,#f7b092 48.6%,#f49d7e 53.7%,#f08b6d 56.5%,#f29173 59.3%,#f6a486 62.6%,#f3c6b0 65.3%,#e7d6cc 67.7%,#d5dbe5 70.5%,#d2dae7 72.3%,#e5d8d0 75.1%,#f4c2aa 78.8%,#f4c2aa 80.2%,#e8d5ca 84.0%,#e3d9d3 86.7%,#e8d5ca 93.7%,#e5d8d0 99.8%)"></i><i style="top:174px;height:1px;background:linear-gradient(90deg,#3a4cc0 0.2%,#3c4fc3 15.1%,#4b64d4 22.6%,#6383ea 26.3%,#8aadfd 30.9%,#aec9fc 34.2%,#d1dae8 38.8%,#e4d8d1 41.6%,#f2c8b3 44.4%,#f6ab8d 47.7%,#f6a384 49.5%,#f6a384 53.7%,#f49b7c 57.0%,#f6a98a 62.6%,#f6bca2 64.4%,#ebd3c6 67.2%,#d8dbe1 70.9%,#dedbda 73.3%,#f3c5af 77.4%,#f6bba0 79.3%,#f5c1a8 81.2%,#ebd3c6 85.3%,#ebd3c6 89.5%,#ebd3c6 98.8%,#ebd3c6 99.8%)"></i><i style="top:175px;height:1px;background:linear-gradient(90deg,#3a4cc0 0.2%,#3c4fc3 14.7%,#4860d1 20.7%,#5876e2 24.4%,#7ea1f9 28.6%,#a8c5fd 32.8%,#ccd8ed 37.0%,#e1dad6 39.8%,#f2c8b3 43.5%,#f6a486 47.2%,#f49b7c 49.1%,#f6ab8d 55.1%,#f7b295 59.8%,#f7ad8f 62.6%,#f6bba0 64.4%,#edcfc0 67.2%,#dfdbd9 71.4%,#ebd3c6 74.2%,#f6b69a 79.3%,#f6b99d 80.7%,#f0ccb9 85.3%,#f0ccb9 92.8%,#efcdbb 99.8%)"></i><i style="top:176px;height:1px;background:linear-gradient(90deg,#3a4cc0 0.2%,#3c4fc3 14.2%,#4860d1 20.2%,#5d7de6 24.4%,#7fa2fa 27.7%,#a7c4fd 31.9%,#c8d7ef 35.6%,#e1dad6 38.8%,#f5c1a8 43.5%,#f49b7c 47.2%,#f39576 49.1%,#f6a98a 52.3%,#f6ba9f 55.6%,#f4c2aa 59.3%,#f7b194 63.0%,#f1cbb8 67.2%,#e7d6cc 71.4%,#f1cbb8 74.7%,#f7b295 79.3%,#f6bba0 82.1%,#f2c8b3 86.3%,#f2c7b2 99.8%)"></i><i style="top:177px;height:1px;background:linear-gradient(90deg,#3a4cc0 0.2%,#3c4fc3 13.7%,#455bcd 18.4%,#5c7be5 23.5%,#7fa2fa 26.7%,#a4c2fe 30.5%,#cad8ee 34.7%,#dfdbd9 37.4%,#f2c8b3 41.2%,#f6b69a 44.0%,#f39879 46.7%,#f29173 49.1%,#f6a98a 51.9%,#f3c5af 55.1%,#eecfbe 58.8%,#f1cab6 60.2%,#f7b598 63.0%,#f6bca2 64.9%,#efcdbb 70.0%,#efcebc 72.3%,#f7b194 79.3%,#f4c3ab 86.7%,#f4c2aa 99.8%)"></i><i style="top:178px;height:1px;background:linear-gradient(90deg,#3a4cc0 0.2%,#3c4fc3 13.3%,#4962d3 18.8%,#6383ea 23.5%,#83a6fb 26.3%,#99bafe 28.1%,#c1d4f4 32.3%,#dddcdb 36.0%,#f2c9b5 39.8%,#f7b295 44.0%,#f39678 46.7%,#f29173 48.6%,#f59e7f 50.5%,#f4c4ad 53.7%,#ebd3c6 56.0%,#e5d8d0 58.4%,#e7d6cc 59.8%,#f6bba0 62.6%,#f6b99d 64.4%,#f3c5af 69.1%,#f2c7b2 72.3%,#f7b295 79.8%,#f5c0a7 87.2%,#f5bfa5 99.8%)"></i><i style="top:179px;height:1px;background:linear-gradient(90deg,#3a4cc0 0.2%,#3c4fc3 12.8%,#4860d1 17.9%,#6f91f2 24.0%,#94b5fe 26.7%,#b7cff9 30.0%,#dddcdb 34.7%,#f2c8b3 38.8%,#f6bba0 42.1%,#f7b295 44.0%,#f39879 47.2%,#f49a7b 49.1%,#f6aa8c 50.9%,#f1cbb8 53.7%,#e5d8d0 55.6%,#dbdcde 58.4%,#e0dad7 59.8%,#f3c6b0 62.1%,#f6bba0 63.5%,#f3c5af 71.9%,#f6b79c 79.3%,#f5bfa5 88.1%,#f5bfa5 99.8%)"></i><i style="top:180px;height:1px;background:linear-gradient(90deg,#3a4cc0 0.2%,#3c4fc3 12.3%,#4860d1 17.4%,#6c8ef1 22.6%,#8aadfd 25.3%,#b0cbfb 28.1%,#d7dbe2 32.3%,#ead3c7 35.1%,#f6bda4 39.8%,#f6b69a 44.0%,#f5a182 47.2%,#f6a384 49.1%,#f6bda4 51.9%,#e5d8d0 54.7%,#d9dce0 56.5%,#d5dbe5 58.8%,#dedbda 60.2%,#f2c7b2 62.6%,#f5c1a8 63.5%,#f3c5af 72.3%,#f6bda4 80.2%,#f4c2aa 89.5%,#f5c1a8 99.8%)"></i><i style="top:181px;height:1px;background:linear-gradient(90deg,#3a4cc0 0.2%,#3c4fc3 11.4%,#4962d3 17.0%,#6080e8 19.8%,#779af6 22.6%,#a3c1fe 26.3%,#c6d6f1 29.1%,#dedbda 31.9%,#f2c8b3 35.6%,#f6bba0 38.8%,#f6bba0 41.6%,#f6bda4 43.5%,#f6ab8d 47.7%,#f6b99d 50.5%,#ecd2c4 53.3%,#d9dce0 55.6%,#cfd9ea 58.4%,#d9dce0 60.2%,#f1cab6 63.0%,#f3c6b0 64.9%,#f3c6b0 76.0%,#f3c6b0 89.1%,#f3c5af 99.8%)"></i><i style="top:182px;height:1px;background:linear-gradient(90deg,#3a4cc0 0.2%,#3c4fc3 10.9%,#4962d3 16.0%,#5876e2 18.4%,#789bf7 21.2%,#a2c0fe 25.3%,#c6d6f1 28.1%,#dddcdb 30.5%,#f2c7b2 34.2%,#f6b99d 36.5%,#f7b397 39.3%,#f6bba0 41.6%,#f4c3ab 43.5%,#f6b99d 48.1%,#f4c3ab 50.5%,#e4d8d1 53.7%,#d9dce0 55.1%,#ced9eb 58.4%,#d7dbe2 60.2%,#edcfc0 63.0%,#f0ccb9 65.3%,#f2c9b5 99.8%)"></i><i style="top:183px;height:1px;background:linear-gradient(90deg,#3a4cc0 0.2%,#3c4fc3 10.0%,#4962d3 15.1%,#5b79e4 17.9%,#80a4fa 20.7%,#aac6fd 24.9%,#cad8ee 27.7%,#dedbda 29.5%,#f4c4ad 33.3%,#f7b092 36.0%,#f7b092 39.3%,#f5c1a8 42.1%,#f2c8b3 43.5%,#f2c7b2 45.3%,#f4c4ad 48.1%,#efcdbb 50.9%,#dbdcde 54.7%,#cfd9ea 57.9%,#d2dae7 59.8%,#e1dad6 61.6%,#ecd2c4 63.5%,#f0ccb9 99.8%)"></i><i style="top:184px;height:1px;background:linear-gradient(90deg,#3a4cc0 0.2%,#3c4fc3 8.6%,#475fd0 13.3%,#5f7ee7 17.4%,#789bf7 19.3%,#95b7fe 21.2%,#bbd1f7 25.3%,#dddcdb 28.6%,#f3c6b0 31.9%,#f6a789 35.6%,#f6a789 38.4%,#f6b69a 40.7%,#efcdbb 43.5%,#efcdbb 46.3%,#efcebc 49.5%,#dddcdb 54.2%,#d1dae8 57.9%,#d7dbe2 60.2%,#e7d6cc 63.5%,#ebd3c6 84.4%,#efcdbb 99.8%)"></i><i style="top:185px;height:1px;background:linear-gradient(90deg,#3a4cc0 0.2%,#3c4fc3 7.7%,#465dcf 11.9%,#6080e8 16.5%,#7ea1f9 18.8%,#9fbefe 20.7%,#bbd1f7 23.5%,#cfd9ea 26.3%,#e0dad7 28.1%,#f3c6b0 30.9%,#f5a182 35.1%,#f59e7f 37.4%,#f7b194 40.2%,#edcfc0 43.5%,#ebd3c6 45.3%,#ebd3c6 49.5%,#d9dce0 56.0%,#d7dbe2 59.3%,#e6d7cf 64.0%,#e8d5ca 82.6%,#f1cbb8 99.8%)"></i><i style="top:186px;height:1px;background:linear-gradient(90deg,#3a4cc0 0.2%,#3e51c4 7.7%,#4860d1 11.4%,#6c8ef1 16.5%,#85a8fb 18.4%,#b0cbfb 20.7%,#c7d6f0 23.0%,#dcdcdd 26.7%,#f4c4ad 30.5%,#f49b7c 35.1%,#f49a7b 37.4%,#f6ab8d 39.8%,#f1cab6 42.6%,#ebd3c6 44.0%,#e7d6cd 51.4%,#dddcdb 56.0%,#dedbda 60.2%,#e6d7cf 64.4%,#e7d6cc 81.2%,#f4c3ab 99.8%)"></i><i style="top:187px;height:1px;background:linear-gradient(90deg,#3a4cc0 0.2%,#3e51c4 6.7%,#4b64d4 10.9%,#7a9df8 16.5%,#95b7fe 18.4%,#bbd1f7 20.2%,#d5dbe5 22.6%,#e4d8d1 26.7%,#f6bba0 30.9%,#f39879 35.1%,#f39879 37.0%,#f6ab8d 39.8%,#f2c9b5 42.6%,#ebd3c6 44.4%,#e4d8d1 55.1%,#e4d8d1 60.7%,#e7d6cc 67.7%,#e9d4c9 80.7%,#f6bca2 95.6%,#f6b69a 99.8%)"></i><i style="top:188px;height:1px;background:linear-gradient(90deg,#3a4cc0 0.2%,#3e51c4 5.8%,#4962d3 10.0%,#6b8df0 13.7%,#90b2fe 17.0%,#b0cbfb 18.8%,#d2dae7 20.7%,#e4d8d1 22.6%,#e8d5ca 24.0%,#ebd3c6 26.7%,#f7ad8f 32.3%,#f39879 35.1%,#f39879 37.0%,#f7b092 40.2%,#efcebc 43.5%,#ecd2c4 46.3%,#e9d4c9 61.2%,#ecd1c3 80.2%,#f7b295 93.3%,#f5a182 99.8%)"></i><i style="top:189px;height:1px;background:linear-gradient(90deg,#3a4cc0 0.2%,#3e51c4 5.3%,#4b64d4 9.5%,#5f7ee7 11.9%,#87aafc 15.1%,#b0cbfb 17.9%,#d3dbe6 19.8%,#ebd3c6 21.6%,#f2c9b5 23.5%,#efcdbb 26.3%,#f4c4ad 28.6%,#f5a081 34.2%,#f49b7c 36.5%,#f6ab8d 39.8%,#f0ccb9 44.0%,#edcfc0 60.7%,#efcdbb 80.2%,#f7ad8f 89.5%,#ee8669 99.8%)"></i><i style="top:190px;height:1px;background:linear-gradient(90deg,#3a4cc0 0.2%,#4054c7 5.8%,#4962d3 8.6%,#5f7ee7 11.4%,#89acfc 14.2%,#b0cbfb 17.0%,#c9d7ee 18.4%,#e1dad6 19.8%,#f2c7b2 21.6%,#f6bca2 23.0%,#f5bfa5 24.4%,#f3c6b0 26.3%,#f5c1a8 28.1%,#f5a182 34.7%,#f5a182 37.4%,#f6b69a 41.2%,#f2c7b2 44.0%,#f2c9b5 78.8%,#f6bda4 82.6%,#f19072 91.9%,#e16852 99.3%,#e06650 99.8%)"></i><i style="top:191px;height:1px;background:linear-gradient(90deg,#3a4cc0 0.2%,#3e51c4 4.4%,#475fd0 7.7%,#5571de 10.0%,#7b9ef8 12.8%,#a2c0fe 15.1%,#c6d6f1 17.4%,#dedbda 18.8%,#f0ccb9 20.2%,#f7b092 22.6%,#f7ae91 24.0%,#f5bfa5 26.3%,#f6bba0 28.6%,#f6a384 35.6%,#f7b092 40.2%,#f4c2aa 44.4%,#f5c1a8 79.8%,#f59e7f 86.3%,#dc5e4b 95.6%,#ce443c 99.3%,#ce443c 99.8%)"></i><i style="top:192px;height:1px;background:linear-gradient(90deg,#3a4cc0 0.2%,#4054c7 5.3%,#516cdb 9.1%,#698bef 11.4%,#94b5fe 13.7%,#b9d0f8 16.0%,#d8dbe1 17.9%,#edd0c1 19.3%,#f7ad8f 21.6%,#f59e7f 23.0%,#f6a687 24.4%,#f6b99d 26.3%,#f6b79c 28.6%,#f6a789 35.6%,#f7b194 40.7%,#f6bda4 44.9%,#f6bca2 79.3%,#f6a687 83.5%,#e36c54 90.9%,#c93b37 96.5%,#be232d 98.8%,#bb1a2b 99.3%,#bb1a2b 99.8%)"></i><i style="top:193px;height:1px;background:linear-gradient(90deg,#3a4cc0 0.2%,#4054c7 5.3%,#526edc 9.1%,#6d90f1 11.4%,#92b4fe 13.3%,#bbd1f7 15.6%,#d0dae9 17.0%,#e0dad7 17.9%,#f4c2aa 19.8%,#f5a182 21.6%,#f29173 23.0%,#f39678 24.0%,#f7b397 26.3%,#f7b397 29.5%,#f6aa8c 36.0%,#f6b99d 45.3%,#f6b69a 79.8%,#f08d6f 85.3%,#ce443c 93.3%,#be232d 96.0%,#b30326 97.9%,#b30326 99.8%)"></i><i style="top:194px;height:1px;background:linear-gradient(90deg,#3a4cc0 0.2%,#4258ca 5.8%,#5370dd 9.1%,#6889ee 10.9%,#8daffd 12.8%,#b0cbfb 14.7%,#ced9eb 16.5%,#dddcdb 17.4%,#f1cbb8 18.8%,#f6aa8c 20.7%,#f29173 22.1%,#ef896c 23.5%,#f59e7f 24.9%,#f7b295 26.7%,#f7ae91 34.2%,#f7b092 40.2%,#f7b598 46.7%,#f7b295 79.8%,#f08b6d 84.9%,#d24b3f 91.4%,#be232d 94.7%,#b30326 96.5%,#b30326 99.8%)"></i><i style="top:195px;height:1px;background:linear-gradient(90deg,#3a4cc0 0.2%,#4258ca 5.8%,#5571de 9.1%,#698bef 10.9%,#98b9fe 13.3%,#bbd1f7 15.1%,#d9dce0 17.0%,#edd0c1 18.4%,#f7b092 20.2%,#f08d6f 22.1%,#ed8467 23.0%,#ef896c 24.0%,#f6a98a 25.8%,#f7b295 27.7%,#f7b092 38.8%,#f7b397 51.4%,#f7b194 79.8%,#e9795e 86.3%,#c93b37 92.3%,#bc1f2c 94.2%,#b50827 95.1%,#b30326 96.0%,#b30326 99.8%)"></i></div>
<div class="hm" style="left:281px;top:285px;width:9px;height:196px;background:linear-gradient(180deg,#b40426 0%,#c53334 5%,#d65244 10%,#e36c55 15%,#ee8468 20%,#f4987a 25%,#f7ac8e 30%,#f6bda2 35%,#f2cbb7 40%,#e9d5cb 45%,#dddcdc 50%,#cfdaea 55%,#c0d4f5 60%,#afcafc 65%,#9ebeff 70%,#8db0fe 75%,#7b9ff9 80%,#6a8bef 85%,#5977e3 90%,#4961d2 95%,#3b4cc0 100%)"></div>
<div class="hm" style="left:407px;top:287px;width:215px;height:194px"><i style="top:0px;height:1px;background:linear-gradient(90deg,#3a4cc0 0.2%,#3c4fc3 59.8%,#4962d3 96.0%,#4c66d6 99.8%)"></i><i style="top:1px;height:1px;background:linear-gradient(90deg,#3a4cc0 0.2%,#3c4fc3 59.8%,#4962d3 96.0%,#4c66d6 99.8%)"></i><i style="top:2px;height:1px;background:linear-gradient(90deg,#3a4cc0 0.2%,#3c4fc3 59.8%,#4962d3 96.0%,#4c66d6 99.8%)"></i><i style="top:3px;height:1px;background:linear-gradient(90deg,#3a4cc0 0.2%,#3c4fc3 59.8%,#4962d3 95.6%,#4c66d6 99.8%)"></i><i style="top:4px;height:1px;background:linear-gradient(90deg,#3a4cc0 0.2%,#3c4fc3 59.8%,#4962d3 95.6%,#4c66d6 99.8%)"></i><i style="top:5px;height:1px;background:linear-gradient(90deg,#3a4cc0 0.2%,#3c4fc3 59.3%,#4962d3 95.1%,#4c66d6 99.8%)"></i><i style="top:6px;height:1px;background:linear-gradient(90deg,#3a4cc0 0.2%,#3c4fc3 59.3%,#4962d3 95.1%,#4c66d6 99.8%)"></i><i style="top:7px;height:1px;background:linear-gradient(90deg,#3a4cc0 0.2%,#3c4fc3 59.3%,#4962d3 94.7%,#4d67d7 99.8%)"></i><i style="top:8px;height:1px;background:linear-gradient(90deg,#3a4cc0 0.2%,#3c4fc3 58.8%,#4962d3 94.2%,#4d67d7 99.8%)"></i><i style="top:9px;height:1px;background:linear-gradient(90deg,#3a4cc0 0.2%,#3c4fc3 58.8%,#4962d3 94.2%,#4d67d7 99.8%)"></i><i style="top:10px;height:1px;background:linear-gradient(90deg,#3a4cc0 0.2%,#3c4fc3 58.4%,#4962d3 93.7%,#4d67d7 99.8%)"></i><i style="top:11px;height:1px;background:linear-gradient(90deg,#3a4cc0 0.2%,#3c4fc3 58.4%,#4962d3 93.3%,#4d67d7 99.8%)"></i><i style="top:12px;height:1px;background:linear-gradient(90deg,#3a4cc0 0.2%,#3c4fc3 57.9%,#4962d3 92.8%,#4e69d8 99.8%)"></i><i style="top:13px;height:1px;background:linear-gradient(90deg,#3a4cc0 0.2%,#3c4fc3 57.9%,#4962d3 92.8%,#4e69d8 99.8%)"></i><i style="top:14px;height:1px;background:linear-gradient(90deg,#3a4cc0 0.2%,#3c4fc3 57.4%,#4860d1 90.0%,#4e69d8 99.8%)"></i><i style="top:15px;height:1px;background:linear-gradient(90deg,#3a4cc0 0.2%,#3c4fc3 57.4%,#4962d3 91.9%,#4e69d8 99.8%)"></i><i style="top:16px;height:1px;background:linear-gradient(90deg,#3a4cc0 0.2%,#3c4fc3 57.4%,#4962d3 91.4%,#506bda 99.8%)"></i><i style="top:17px;height:1px;background:linear-gradient(90deg,#3a4cc0 0.2%,#3c4fc3 57.0%,#4962d3 90.9%,#506bda 99.8%)"></i><i style="top:18px;height:1px;background:linear-gradient(90deg,#3a4cc0 0.2%,#3c4fc3 57.0%,#4962d3 90.9%,#506bda 99.8%)"></i><i style="top:19px;height:1px;background:linear-gradient(90deg,#3a4cc0 0.2%,#3c4fc3 56.5%,#4962d3 90.5%,#506bda 99.8%)"></i><i style="top:20px;height:1px;background:linear-gradient(90deg,#3a4cc0 0.2%,#3c4fc3 56.5%,#4962d3 90.0%,#506bda 99.8%)"></i><i style="top:21px;height:1px;background:linear-gradient(90deg,#3a4cc0 0.2%,#3c4fc3 56.0%,#4962d3 89.5%,#516cdb 99.8%)"></i><i style="top:22px;height:1px;background:linear-gradient(90deg,#3a4cc0 0.2%,#3c4fc3 56.0%,#4962d3 89.5%,#516cdb 99.8%)"></i><i style="top:23px;height:1px;background:linear-gradient(90deg,#3a4cc0 0.2%,#3c4fc3 55.6%,#4962d3 89.1%,#516cdb 99.8%)"></i><i style="top:24px;height:1px;background:linear-gradient(90deg,#3a4cc0 0.2%,#3c4fc3 55.6%,#4962d3 88.6%,#526edc 99.8%)"></i><i style="top:25px;height:1px;background:linear-gradient(90deg,#3a4cc0 0.2%,#3c4fc3 55.1%,#4962d3 88.1%,#526edc 99.8%)"></i><i style="top:26px;height:1px;background:linear-gradient(90deg,#3a4cc0 0.2%,#3c4fc3 55.1%,#4962d3 88.1%,#526edc 99.8%)"></i><i style="top:27px;height:1px;background:linear-gradient(90deg,#3a4cc0 0.2%,#3c4fc3 55.1%,#4962d3 87.7%,#526edc 99.8%)"></i><i style="top:28px;height:1px;background:linear-gradient(90deg,#3a4cc0 0.2%,#3c4fc3 54.7%,#4962d3 87.2%,#5370dd 99.8%)"></i><i style="top:29px;height:1px;background:linear-gradient(90deg,#3a4cc0 0.2%,#3c4fc3 54.7%,#4962d3 86.7%,#5370dd 99.8%)"></i><i style="top:30px;height:1px;background:linear-gradient(90deg,#3a4cc0 0.2%,#3c4fc3 54.2%,#4962d3 86.3%,#5370dd 99.8%)"></i><i style="top:31px;height:1px;background:linear-gradient(90deg,#3a4cc0 0.2%,#3c4fc3 54.2%,#4962d3 86.3%,#5571de 99.8%)"></i><i style="top:32px;height:1px;background:linear-gradient(90deg,#3a4cc0 0.2%,#3c4fc3 53.7%,#4962d3 85.8%,#5571de 99.8%)"></i><i style="top:33px;height:1px;background:linear-gradient(90deg,#3a4cc0 0.2%,#3c4fc3 53.7%,#4962d3 85.3%,#5571de 99.8%)"></i><i style="top:34px;height:1px;background:linear-gradient(90deg,#3a4cc0 0.2%,#3c4fc3 53.3%,#4962d3 84.9%,#5673e0 99.8%)"></i><i style="top:35px;height:1px;background:linear-gradient(90deg,#3a4cc0 0.2%,#3c4fc3 53.3%,#4962d3 84.9%,#5673e0 99.8%)"></i><i style="top:36px;height:1px;background:linear-gradient(90deg,#3a4cc0 0.2%,#3c4fc3 52.8%,#4962d3 84.4%,#5673e0 99.8%)"></i><i style="top:37px;height:1px;background:linear-gradient(90deg,#3a4cc0 0.2%,#3c4fc3 52.8%,#4962d3 84.0%,#5775e1 99.8%)"></i><i style="top:38px;height:1px;background:linear-gradient(90deg,#3a4cc0 0.2%,#3c4fc3 52.3%,#4860d1 81.6%,#5775e1 99.8%)"></i><i style="top:39px;height:1px;background:linear-gradient(90deg,#3a4cc0 0.2%,#3c4fc3 52.3%,#4962d3 83.0%,#5876e2 99.8%)"></i><i style="top:40px;height:1px;background:linear-gradient(90deg,#3a4cc0 0.2%,#3c4fc3 52.3%,#4962d3 83.0%,#5876e2 99.8%)"></i><i style="top:41px;height:1px;background:linear-gradient(90deg,#3a4cc0 0.2%,#3c4fc3 51.9%,#4962d3 82.6%,#5a78e3 99.8%)"></i><i style="top:42px;height:1px;background:linear-gradient(90deg,#3a4cc0 0.2%,#3c4fc3 51.9%,#4962d3 82.1%,#5a78e3 99.8%)"></i><i style="top:43px;height:1px;background:linear-gradient(90deg,#3a4cc0 0.2%,#3c4fc3 51.4%,#4962d3 81.6%,#5b79e4 99.8%)"></i><i style="top:44px;height:1px;background:linear-gradient(90deg,#3a4cc0 0.2%,#3c4fc3 51.4%,#4962d3 81.2%,#5c7be5 99.8%)"></i><i style="top:45px;height:1px;background:linear-gradient(90deg,#3a4cc0 0.2%,#3c4fc3 50.9%,#4962d3 81.2%,#5c7be5 99.8%)"></i><i style="top:46px;height:1px;background:linear-gradient(90deg,#3a4cc0 0.2%,#3c4fc3 50.9%,#4962d3 80.7%,#5b79e4 97.9%,#5d7de6 99.8%)"></i><i style="top:47px;height:1px;background:linear-gradient(90deg,#3a4cc0 0.2%,#3c4fc3 50.5%,#4962d3 80.2%,#5b79e4 97.4%,#5f7ee7 99.8%)"></i><i style="top:48px;height:1px;background:linear-gradient(90deg,#3a4cc0 0.2%,#3c4fc3 50.5%,#4962d3 79.8%,#5b79e4 97.0%,#6080e8 99.8%)"></i><i style="top:49px;height:1px;background:linear-gradient(90deg,#3a4cc0 0.2%,#3c4fc3 50.0%,#4962d3 79.3%,#5b79e4 96.5%,#6182ea 99.8%)"></i><i style="top:50px;height:1px;background:linear-gradient(90deg,#3a4cc0 0.2%,#3c4fc3 50.0%,#4962d3 78.8%,#5b79e4 96.0%,#6383ea 99.8%)"></i><i style="top:51px;height:1px;background:linear-gradient(90deg,#3a4cc0 0.2%,#3c4fc3 49.5%,#4962d3 78.8%,#5b79e4 95.6%,#6485eb 99.8%)"></i><i style="top:52px;height:1px;background:linear-gradient(90deg,#3a4cc0 0.2%,#3c4fc3 49.5%,#4962d3 78.4%,#5b79e4 95.1%,#6586ec 99.8%)"></i><i style="top:53px;height:1px;background:linear-gradient(90deg,#3a4cc0 0.2%,#3c4fc3 49.1%,#4860d1 76.0%,#5b79e4 94.7%,#6788ed 99.8%)"></i><i style="top:54px;height:1px;background:linear-gradient(90deg,#3a4cc0 0.2%,#3c4fc3 49.1%,#4962d3 77.4%,#5b79e4 94.2%,#6889ee 99.8%)"></i><i style="top:55px;height:1px;background:linear-gradient(90deg,#3a4cc0 0.2%,#3c4fc3 48.6%,#4962d3 77.0%,#5b79e4 93.7%,#698bef 99.8%)"></i><i style="top:56px;height:1px;background:linear-gradient(90deg,#3a4cc0 0.2%,#3c4fc3 48.6%,#4962d3 77.0%,#5b79e4 93.3%,#6b8df0 99.8%)"></i><i style="top:57px;height:1px;background:linear-gradient(90deg,#3a4cc0 0.2%,#3c4fc3 48.1%,#4962d3 76.5%,#5b79e4 92.8%,#6c8ef1 99.8%)"></i><i style="top:58px;height:1px;background:linear-gradient(90deg,#3a4cc0 0.2%,#3c4fc3 48.1%,#4962d3 76.0%,#5b79e4 92.3%,#6d90f1 99.8%)"></i><i style="top:59px;height:1px;background:linear-gradient(90deg,#3a4cc0 0.2%,#3c4fc3 47.7%,#4962d3 75.6%,#5b79e4 91.9%,#7093f3 99.8%)"></i><i style="top:60px;height:1px;background:linear-gradient(90deg,#3a4cc0 0.2%,#3c4fc3 47.7%,#4962d3 75.1%,#5b79e4 91.4%,#7194f4 99.8%)"></i><i style="top:61px;height:1px;background:linear-gradient(90deg,#3a4cc0 0.2%,#3c4fc3 47.2%,#4962d3 74.7%,#5b79e4 90.5%,#7395f4 99.8%)"></i><i style="top:62px;height:1px;background:linear-gradient(90deg,#3a4cc0 0.2%,#3c4fc3 47.2%,#4962d3 74.7%,#5b79e4 90.0%,#7598f6 99.8%)"></i><i style="top:63px;height:1px;background:linear-gradient(90deg,#3a4cc0 0.2%,#3c4fc3 46.7%,#4962d3 74.2%,#5b79e4 89.5%,#779af6 99.8%)"></i><i style="top:64px;height:1px;background:linear-gradient(90deg,#3a4cc0 0.2%,#3c4fc3 46.7%,#4962d3 73.7%,#5b79e4 89.1%,#7a9df8 99.8%)"></i><i style="top:65px;height:1px;background:linear-gradient(90deg,#3a4cc0 0.2%,#3c4fc3 46.3%,#4962d3 73.3%,#5b79e4 88.6%,#7ca0f9 99.8%)"></i><i style="top:66px;height:1px;background:linear-gradient(90deg,#3a4cc0 0.2%,#3c4fc3 46.3%,#4962d3 72.8%,#5b79e4 88.1%,#779af6 97.4%,#7ea1f9 99.8%)"></i><i style="top:67px;height:1px;background:linear-gradient(90deg,#3a4cc0 0.2%,#3c4fc3 45.8%,#4860d1 70.9%,#5b79e4 87.7%,#779af6 97.0%,#80a4fa 99.8%)"></i><i style="top:68px;height:1px;background:linear-gradient(90deg,#3a4cc0 0.2%,#3c4fc3 45.8%,#4962d3 72.3%,#5b79e4 87.2%,#7598f6 96.0%,#83a6fb 99.8%)"></i><i style="top:69px;height:1px;background:linear-gradient(90deg,#3a4cc0 0.2%,#3c4fc3 45.3%,#4860d1 70.0%,#5b79e4 86.7%,#7497f5 95.1%,#86a9fc 99.8%)"></i><i style="top:70px;height:1px;background:linear-gradient(90deg,#3a4cc0 0.2%,#3c4fc3 45.3%,#4962d3 71.4%,#5b79e4 86.3%,#789bf7 95.6%,#89acfc 99.8%)"></i><i style="top:71px;height:1px;background:linear-gradient(90deg,#3a4cc0 0.2%,#3c4fc3 44.9%,#4962d3 70.9%,#5b79e4 85.8%,#789bf7 95.1%,#8baefd 99.8%)"></i><i style="top:72px;height:1px;background:linear-gradient(90deg,#3a4cc0 0.2%,#3c4fc3 44.9%,#4962d3 70.5%,#5b79e4 85.3%,#779af6 94.2%,#8eb1fd 99.8%)"></i><i style="top:73px;height:1px;background:linear-gradient(90deg,#3a4cc0 0.2%,#3c4fc3 44.4%,#4962d3 70.0%,#5b79e4 84.9%,#789bf7 93.7%,#91b3fe 99.8%)"></i><i style="top:74px;height:1px;background:linear-gradient(90deg,#3a4cc0 0.2%,#3c4fc3 44.4%,#4962d3 70.0%,#5c7be5 84.9%,#7ca0f9 94.2%,#94b5fe 99.8%)"></i><i style="top:75px;height:1px;background:linear-gradient(90deg,#3a4cc0 0.2%,#3c4fc3 44.0%,#4860d1 67.7%,#5b79e4 84.0%,#7497f5 91.9%,#97b8fe 99.8%)"></i><i style="top:76px;height:1px;background:linear-gradient(90deg,#3a4cc0 0.2%,#3c4fc3 44.0%,#4962d3 69.1%,#5c7be5 84.0%,#7fa2fa 93.7%,#99bafe 99.8%)"></i><i style="top:77px;height:1px;background:linear-gradient(90deg,#3a4cc0 0.2%,#3c4fc3 43.5%,#4962d3 68.6%,#5c7be5 83.5%,#7b9ef8 92.3%,#9bbbfe 99.3%,#9cbcfe 99.8%)"></i><i style="top:78px;height:1px;background:linear-gradient(90deg,#3a4cc0 0.2%,#3c4fc3 43.5%,#4962d3 68.1%,#5c7be5 83.0%,#7b9ef8 91.9%,#9cbcfe 98.8%,#9fbefe 99.8%)"></i><i style="top:79px;height:1px;background:linear-gradient(90deg,#3a4cc0 0.2%,#3c4fc3 43.0%,#4962d3 67.7%,#5b79e4 81.6%,#7598f6 90.0%,#9dbdfe 98.4%,#a0bffe 99.8%)"></i><i style="top:80px;height:1px;background:linear-gradient(90deg,#3a4cc0 0.2%,#3c4fc3 43.0%,#4962d3 67.2%,#5b79e4 81.2%,#7497f5 89.1%,#9cbcfe 97.4%,#a2c0fe 99.8%)"></i><i style="top:81px;height:1px;background:linear-gradient(90deg,#3a4cc0 0.2%,#3c4fc3 42.6%,#4962d3 66.7%,#5b79e4 80.7%,#7497f5 88.6%,#9cbcfe 97.0%,#a4c2fe 99.8%)"></i><i style="top:82px;height:1px;background:linear-gradient(90deg,#3a4cc0 0.2%,#3c4fc3 42.6%,#4962d3 66.7%,#5b79e4 80.2%,#7598f6 88.1%,#9fbefe 97.0%,#a6c3fd 99.8%)"></i><i style="top:83px;height:1px;background:linear-gradient(90deg,#3a4cc0 0.2%,#3c4fc3 42.1%,#4962d3 66.3%,#5b79e4 79.8%,#779af6 88.1%,#9cbcfe 95.6%,#a7c4fd 99.8%)"></i><i style="top:84px;height:1px;background:linear-gradient(90deg,#3a4cc0 0.2%,#3c4fc3 42.1%,#4962d3 65.8%,#5b79e4 79.3%,#789bf7 87.7%,#a0bffe 96.0%,#a8c5fd 99.8%)"></i><i style="top:85px;height:1px;background:linear-gradient(90deg,#3a4cc0 0.2%,#3c4fc3 41.6%,#4962d3 65.3%,#5b79e4 78.8%,#7497f5 86.3%,#9cbcfe 94.7%,#abc7fc 99.8%)"></i><i style="top:86px;height:1px;background:linear-gradient(90deg,#3a4cc0 0.2%,#3c4fc3 41.6%,#4962d3 64.9%,#5b79e4 78.4%,#7b9ef8 87.2%,#9fbefe 94.7%,#acc8fc 99.8%)"></i><i style="top:87px;height:1px;background:linear-gradient(90deg,#3a4cc0 0.2%,#3c4fc3 41.2%,#4962d3 64.4%,#5a78e3 77.0%,#6f91f2 84.0%,#98b9fe 92.3%,#aec9fc 99.3%,#aec9fc 99.8%)"></i><i style="top:88px;height:1px;background:linear-gradient(90deg,#3a4cc0 0.2%,#3c4fc3 41.2%,#4962d3 64.0%,#5c7be5 77.9%,#7ca0f9 86.3%,#a0bffe 93.7%,#afcafb 99.8%)"></i><i style="top:89px;height:1px;background:linear-gradient(90deg,#3a4cc0 0.2%,#3c4fc3 40.7%,#4860d1 62.1%,#5a78e3 76.0%,#7194f4 83.5%,#99bafe 91.4%,#b0cbfb 98.8%,#b0cbfb 99.8%)"></i><i style="top:90px;height:1px;background:linear-gradient(90deg,#3a4cc0 0.2%,#3c4fc3 40.2%,#4962d3 63.5%,#5b79e4 76.0%,#7497f5 83.5%,#9dbdfe 91.9%,#b3ccfa 99.8%)"></i><i style="top:91px;height:1px;background:linear-gradient(90deg,#3a4cc0 0.2%,#3c4fc3 40.2%,#4962d3 63.0%,#5c7be5 76.0%,#779af6 83.5%,#9cbcfe 90.9%,#b4cdfa 99.3%,#b4cdfa 99.8%)"></i><i style="top:92px;height:1px;background:linear-gradient(90deg,#3a4cc0 0.2%,#3c4fc3 39.8%,#4962d3 62.6%,#5c7be5 75.6%,#779af6 83.0%,#9dbdfe 90.5%,#b6cef9 99.8%)"></i><i style="top:93px;height:1px;background:linear-gradient(90deg,#3a4cc0 0.2%,#3c4fc3 39.8%,#4962d3 62.1%,#5c7be5 75.1%,#7ca0f9 83.5%,#a2c0fe 90.9%,#b8cff8 99.8%)"></i><i style="top:94px;height:1px;background:linear-gradient(90deg,#3a4cc0 0.2%,#3c4fc3 39.3%,#4962d3 61.6%,#5c7be5 74.7%,#789bf7 82.1%,#9cbcfe 89.1%,#b7cff9 97.9%,#b9d0f8 99.8%)"></i><i style="top:95px;height:1px;background:linear-gradient(90deg,#3a4cc0 0.2%,#3c4fc3 39.3%,#4962d3 61.2%,#5c7be5 74.2%,#7b9ef8 82.1%,#9dbdfe 88.6%,#bbd1f7 99.3%,#bbd1f7 99.8%)"></i><i style="top:96px;height:1px;background:linear-gradient(90deg,#3a4cc0 0.2%,#3c4fc3 38.8%,#4860d1 59.3%,#5b79e4 73.3%,#779af6 80.7%,#9dbdfe 88.1%,#bdd2f6 99.3%,#bdd2f6 99.8%)"></i><i style="top:97px;height:1px;background:linear-gradient(90deg,#3a4cc0 0.2%,#3c4fc3 38.8%,#4962d3 60.2%,#5c7be5 73.3%,#82a5fb 82.1%,#a2c0fe 88.6%,#bed3f5 99.8%)"></i><i style="top:98px;height:1px;background:linear-gradient(90deg,#3a4cc0 0.2%,#3c4fc3 38.4%,#4962d3 59.8%,#5b79e4 71.9%,#7598f6 79.3%,#9dbdfe 86.7%,#c1d4f4 99.3%,#c1d4f4 99.8%)"></i><i style="top:99px;height:1px;background:linear-gradient(90deg,#3a4cc0 0.2%,#3c4fc3 38.4%,#4962d3 59.3%,#5b79e4 71.4%,#7497f5 78.4%,#99bafe 85.3%,#abc7fc 90.0%,#c2d4f3 99.8%)"></i><i style="top:100px;height:1px;background:linear-gradient(90deg,#3a4cc0 0.2%,#3c4fc3 37.9%,#4962d3 58.8%,#5b79e4 70.9%,#779af6 78.4%,#9cbcfe 85.3%,#b8cff8 94.7%,#c5d5f2 99.8%)"></i><i style="top:101px;height:1px;background:linear-gradient(90deg,#3a4cc0 0.2%,#3c4fc3 37.4%,#4962d3 58.8%,#5b79e4 70.5%,#7598f6 77.4%,#9bbbfe 84.4%,#bed3f5 96.0%,#c7d6f0 99.8%)"></i><i style="top:102px;height:1px;background:linear-gradient(90deg,#3a4cc0 0.2%,#3c4fc3 37.4%,#4962d3 58.4%,#5d7de6 70.9%,#82a5fb 79.3%,#a0bffe 84.9%,#c3d5f2 97.0%,#c8d7ef 99.8%)"></i><i style="top:103px;height:1px;background:linear-gradient(90deg,#3a4cc0 0.2%,#3c4fc3 37.0%,#4962d3 57.9%,#5d7de6 70.5%,#83a6fb 78.8%,#9fbefe 84.0%,#c3d5f2 96.5%,#cad8ee 99.8%)"></i><i style="top:104px;height:1px;background:linear-gradient(90deg,#3a4cc0 0.2%,#3c4fc3 37.0%,#4962d3 57.4%,#5c7be5 69.5%,#7fa2fa 77.4%,#a2c0fe 84.0%,#c6d6f1 96.5%,#cdd9ec 99.8%)"></i><i style="top:105px;height:1px;background:linear-gradient(90deg,#3a4cc0 0.2%,#3c4fc3 36.5%,#4962d3 57.0%,#5c7be5 68.6%,#7b9ef8 76.0%,#a0bffe 83.0%,#c3d5f2 95.1%,#cfd9ea 99.8%)"></i><i style="top:106px;height:1px;background:linear-gradient(90deg,#3a4cc0 0.2%,#3c4fc3 36.5%,#4962d3 56.5%,#5c7be5 68.1%,#80a4fa 76.5%,#a3c1fe 83.0%,#c6d6f1 95.1%,#d1dae8 99.8%)"></i><i style="top:107px;height:1px;background:linear-gradient(90deg,#3a4cc0 0.2%,#3c4fc3 36.0%,#4962d3 56.0%,#5c7be5 67.7%,#7ca0f9 75.1%,#9fbefe 81.6%,#c1d4f4 92.8%,#d3dbe6 99.8%)"></i><i style="top:108px;height:1px;background:linear-gradient(90deg,#3a4cc0 0.2%,#3c4fc3 36.0%,#4962d3 55.6%,#5c7be5 67.2%,#7fa2fa 75.1%,#9dbdfe 80.7%,#b3ccfa 86.7%,#d1dae8 97.4%,#d6dbe4 99.8%)"></i><i style="top:109px;height:1px;background:linear-gradient(90deg,#3a4cc0 0.2%,#3c4fc3 35.6%,#4962d3 55.1%,#5c7be5 66.7%,#7b9ef8 73.7%,#9dbdfe 79.8%,#c3d5f2 91.9%,#d8dbe1 99.8%)"></i><i style="top:110px;height:1px;background:linear-gradient(90deg,#3a4cc0 0.2%,#3c4fc3 35.1%,#4962d3 54.7%,#5b79e4 65.3%,#7497f5 71.9%,#99bafe 78.4%,#b7cff9 86.7%,#d5dbe5 97.0%,#dbdcde 99.8%)"></i><i style="top:111px;height:1px;background:linear-gradient(90deg,#3a4cc0 0.2%,#3c4fc3 35.1%,#4b64d4 55.1%,#5b79e4 64.9%,#7093f3 70.5%,#98b9fe 77.4%,#afcafb 83.5%,#cfd9ea 94.7%,#dedbda 99.8%)"></i><i style="top:112px;height:1px;background:linear-gradient(90deg,#3a4cc0 0.2%,#3c4fc3 34.7%,#4962d3 53.7%,#5b79e4 64.4%,#7b9ef8 71.9%,#a0bffe 78.4%,#c3d5f2 89.5%,#d8dbe1 96.5%,#e2d9d4 99.8%)"></i><i style="top:113px;height:1px;background:linear-gradient(90deg,#3a4cc0 0.2%,#3c4fc3 34.7%,#4962d3 53.3%,#5c7be5 64.4%,#7a9df8 70.9%,#9cbcfe 77.0%,#b7cff9 84.9%,#d6dbe4 95.1%,#e5d8d0 99.8%)"></i><i style="top:114px;height:1px;background:linear-gradient(90deg,#3a4cc0 0.2%,#3c4fc3 34.2%,#4962d3 52.8%,#5c7be5 64.0%,#7fa2fa 71.4%,#9bbbfe 76.0%,#b8cff8 84.4%,#d7dbe2 94.7%,#e8d5ca 99.8%)"></i><i style="top:115px;height:1px;background:linear-gradient(90deg,#3a4cc0 0.2%,#3c4fc3 33.7%,#4962d3 52.3%,#5a78e3 62.6%,#789bf7 69.5%,#9cbcfe 75.6%,#bdd2f6 85.3%,#d6dbe4 93.3%,#e1dad6 96.5%,#ecd1c3 99.8%)"></i><i style="top:116px;height:1px;background:linear-gradient(90deg,#3a4cc0 0.2%,#3c4fc3 33.7%,#4962d3 51.9%,#5b79e4 62.1%,#779af6 68.6%,#9dbdfe 75.1%,#c1d4f4 85.8%,#dbdcde 94.2%,#efcebc 99.8%)"></i><i style="top:117px;height:1px;background:linear-gradient(90deg,#3a4cc0 0.2%,#3c4fc3 33.3%,#4962d3 51.4%,#5b79e4 61.6%,#779af6 68.1%,#9cbcfe 74.2%,#c2d4f3 85.3%,#d8dbe1 92.3%,#e8d5ca 96.5%,#f1cab6 99.3%,#f1cab6 99.8%)"></i><i style="top:118px;height:1px;background:linear-gradient(90deg,#3a4cc0 0.2%,#3c4fc3 33.3%,#4962d3 50.9%,#5b79e4 61.2%,#789bf7 67.7%,#9fbefe 74.2%,#c1d4f4 84.4%,#d8dbe1 91.4%,#e8d5ca 95.6%,#f3c5af 99.8%)"></i><i style="top:119px;height:1px;background:linear-gradient(90deg,#3a4cc0 0.2%,#3c4fc3 32.8%,#4962d3 50.5%,#5b79e4 60.7%,#7497f5 66.3%,#9bbbfe 72.8%,#b7cff9 80.2%,#d6dbe4 90.0%,#e7d6cc 94.7%,#f5c1a8 99.3%,#f5c1a8 99.8%)"></i><i style="top:120px;height:1px;background:linear-gradient(90deg,#3a4cc0 0.2%,#3c4fc3 32.3%,#4860d1 49.1%,#5876e2 59.3%,#779af6 66.3%,#99bafe 71.9%,#b3ccfa 78.4%,#d1dae8 88.1%,#e2d9d4 92.3%,#f5bfa5 98.4%,#f6bba0 99.8%)"></i><i style="top:121px;height:1px;background:linear-gradient(90deg,#3a4cc0 0.2%,#3c4fc3 32.3%,#4962d3 49.5%,#5876e2 58.4%,#6d90f1 64.0%,#97b8fe 70.5%,#b7cff9 78.8%,#d6dbe4 88.6%,#e6d7cf 92.3%,#f5bfa5 97.4%,#f6b69a 99.8%)"></i><i style="top:122px;height:1px;background:linear-gradient(90deg,#3a4cc0 0.2%,#3c4fc3 31.9%,#4860d1 48.1%,#5b79e4 58.8%,#7497f5 64.4%,#9cbcfe 70.9%,#bbd1f7 79.3%,#d6dbe4 87.7%,#e5d8d0 91.4%,#f6bca2 97.0%,#f7b092 99.8%)"></i><i style="top:123px;height:1px;background:linear-gradient(90deg,#3a4cc0 0.2%,#3c4fc3 31.9%,#4962d3 48.6%,#5b79e4 58.4%,#779af6 64.4%,#9cbcfe 70.0%,#bed3f5 79.8%,#d9dce0 87.7%,#ecd1c3 92.3%,#f7b194 97.9%,#f6aa8c 99.8%)"></i><i style="top:124px;height:1px;background:linear-gradient(90deg,#3a4cc0 0.2%,#3c4fc3 31.4%,#4962d3 48.1%,#5b79e4 57.9%,#7b9ef8 64.4%,#a2c0fe 70.5%,#c6d6f1 81.2%,#dbdcde 87.2%,#efcdbb 92.3%,#f7ae91 97.4%,#f6a687 99.8%)"></i><i style="top:125px;height:1px;background:linear-gradient(90deg,#3a4cc0 0.2%,#3c4fc3 30.9%,#4860d1 46.7%,#5876e2 56.0%,#6c8ef1 61.2%,#94b5fe 67.7%,#aac6fd 71.9%,#ced9eb 83.0%,#e2d9d4 88.1%,#f5c1a8 93.7%,#f5a182 98.8%,#f5a081 99.8%)"></i><i style="top:126px;height:1px;background:linear-gradient(90deg,#3a4cc0 0.2%,#3c4fc3 30.9%,#4962d3 47.2%,#5b79e4 56.5%,#7598f6 62.1%,#9dbdfe 68.6%,#afcafb 72.8%,#d0dae9 82.6%,#e3d9d3 87.2%,#f5bfa5 93.3%,#f59e7f 98.4%,#f49b7c 99.8%)"></i><i style="top:127px;height:1px;background:linear-gradient(90deg,#3a4cc0 0.2%,#3c4fc3 30.5%,#4860d1 45.8%,#5b79e4 56.0%,#789bf7 62.1%,#97b8fe 66.7%,#b7cff9 74.2%,#d6dbe4 83.5%,#e8d5ca 87.7%,#f6bba0 92.8%,#f39678 98.8%,#f39576 99.8%)"></i><i style="top:128px;height:1px;background:linear-gradient(90deg,#3a4cc0 0.2%,#3c4fc3 30.5%,#4962d3 46.3%,#5a78e3 55.1%,#779af6 61.2%,#9bbbfe 66.7%,#b9d0f8 74.2%,#d6dbe4 82.6%,#e6d7cf 86.3%,#f6bba0 91.9%,#f19072 99.3%,#f18e70 99.8%)"></i><i style="top:129px;height:1px;background:linear-gradient(90deg,#3a4cc0 0.2%,#3c4fc3 30.0%,#4860d1 44.9%,#5b79e4 54.7%,#7093f3 59.3%,#98b9fe 65.3%,#b7cff9 72.8%,#d6dbe4 81.6%,#e6d7cf 85.3%,#f6bda4 90.5%,#f18e70 98.4%,#ee876a 99.8%)"></i><i style="top:130px;height:1px;background:linear-gradient(90deg,#3a4cc0 0.2%,#3c4fc3 29.5%,#4860d1 44.4%,#5b79e4 54.2%,#779af6 59.8%,#9cbcfe 65.3%,#bed3f5 74.2%,#d8dbe1 81.2%,#e7d6cc 84.9%,#f6bba0 90.0%,#f18e70 97.4%,#eb7f63 99.8%)"></i><i style="top:131px;height:1px;background:linear-gradient(90deg,#3a4cc0 0.2%,#3c4fc3 29.5%,#4962d3 44.9%,#5b79e4 53.7%,#789bf7 59.3%,#a2c0fe 65.8%,#c8d7ef 76.0%,#dfdbd9 82.1%,#f4c4ad 87.7%,#f6a687 92.3%,#ef896c 97.4%,#e7755c 99.8%)"></i><i style="top:132px;height:1px;background:linear-gradient(90deg,#3a4cc0 0.2%,#3c4fc3 29.1%,#4860d1 43.5%,#5876e2 52.3%,#7598f6 58.4%,#9fbefe 64.4%,#c1d4f4 73.3%,#d6dbe4 78.8%,#e6d7cf 82.6%,#f6bca2 88.1%,#f59e7f 92.8%,#ee876a 97.0%,#e36c54 99.3%,#e26a53 99.8%)"></i><i style="top:133px;height:1px;background:linear-gradient(90deg,#3a4cc0 0.2%,#3c4fc3 28.6%,#4860d1 43.0%,#5876e2 51.4%,#6c8ef1 56.0%,#94b5fe 62.1%,#b0cbfb 67.7%,#d2dae7 77.4%,#e1dad6 80.7%,#f4c4ad 85.8%,#f49a7b 92.3%,#ec8064 97.0%,#dd604c 99.3%,#dc5e4b 99.8%)"></i><i style="top:134px;height:1px;background:linear-gradient(90deg,#3a4cc0 0.2%,#3c4fc3 28.6%,#4962d3 43.5%,#5b79e4 51.9%,#789bf7 57.4%,#98b9fe 62.1%,#b3ccfa 67.7%,#d2dae7 76.5%,#e3d9d3 80.2%,#f5c1a8 85.3%,#f39678 91.9%,#e9795e 97.0%,#d75444 99.3%,#d65243 99.8%)"></i><i style="top:135px;height:1px;background:linear-gradient(90deg,#3a4cc0 0.2%,#3c4fc3 28.1%,#4962d3 43.0%,#5a78e3 50.9%,#7395f4 56.0%,#97b8fe 61.2%,#b9d0f8 68.6%,#d5dbe5 76.0%,#e5d8d0 79.8%,#f6bda4 84.9%,#f19072 91.9%,#e57057 97.0%,#d1493e 99.3%,#ce443c 99.8%)"></i><i style="top:136px;height:1px;background:linear-gradient(90deg,#3a4cc0 0.2%,#3c4fc3 27.7%,#4962d3 42.6%,#5b79e4 50.5%,#7497f5 55.6%,#9cbcfe 61.2%,#bbd1f7 68.1%,#d5dbe5 75.1%,#e5d8d0 78.8%,#f5c1a8 83.5%,#f39678 90.0%,#e46e56 95.1%,#dd604c 97.4%,#ca3d38 99.3%,#c83835 99.8%)"></i><i style="top:137px;height:1px;background:linear-gradient(90deg,#3a4cc0 0.2%,#3c4fc3 27.7%,#4962d3 42.1%,#5c7be5 50.5%,#86a9fc 57.4%,#a3c1fe 61.6%,#c6d6f1 70.5%,#dedbda 76.5%,#f2c7b2 81.6%,#f6a687 86.7%,#f19072 90.0%,#e06650 94.2%,#d75444 97.4%,#c22d31 99.8%)"></i><i style="top:138px;height:1px;background:linear-gradient(90deg,#3a4cc0 0.2%,#3c4fc3 27.2%,#4962d3 41.6%,#5b79e4 49.5%,#7ea1f9 55.6%,#a4c2fe 61.2%,#cad8ee 70.9%,#e1dad6 76.0%,#f4c2aa 81.6%,#f6a384 86.3%,#ef896c 90.0%,#da5a48 93.7%,#d24b3f 95.6%,#cf463d 97.4%,#c12a30 99.3%,#bf282e 99.8%)"></i><i style="top:139px;height:1px;background:linear-gradient(90deg,#3a4cc0 0.2%,#3c4fc3 26.7%,#4860d1 40.2%,#5876e2 48.1%,#7598f6 53.7%,#9dbdfe 59.3%,#bed3f5 66.7%,#d6dbe4 72.8%,#e7d6cc 76.5%,#f6bca2 81.6%,#f49b7c 86.3%,#ee8669 89.5%,#d34d40 93.3%,#c93b37 95.1%,#c53233 97.9%,#bc1f2c 99.8%)"></i><i style="top:140px;height:1px;background:linear-gradient(90deg,#3a4cc0 0.2%,#3c4fc3 26.7%,#4962d3 40.7%,#5b79e4 48.1%,#779af6 53.3%,#98b9fe 57.9%,#b2cbfb 62.6%,#d1dae8 70.9%,#e3d9d3 74.7%,#f5c1a8 79.8%,#f39576 86.3%,#eb7f63 89.5%,#cd423a 92.8%,#c12a30 94.2%,#bc1f2c 96.0%,#bf282e 97.4%,#bf282e 98.4%,#be232d 99.3%,#be232d 99.8%)"></i><i style="top:141px;height:1px;background:linear-gradient(90deg,#3a4cc0 0.2%,#3c4fc3 26.3%,#4962d3 40.2%,#5d7de6 48.1%,#7ca0f9 53.3%,#a0bffe 58.4%,#c0d3f5 65.3%,#dadcdf 71.9%,#efcebc 76.5%,#f7ae91 81.6%,#f18e70 85.8%,#ea7b60 89.1%,#db5c4a 90.9%,#bf282e 93.3%,#b81129 94.2%,#b30326 95.1%,#b50827 96.0%,#bf282e 98.8%,#c12a30 99.8%)"></i><i style="top:142px;height:1px;background:linear-gradient(90deg,#3a4cc0 0.2%,#3c4fc3 25.8%,#4962d3 39.8%,#5c7be5 47.2%,#7ea1f9 52.8%,#9cbcfe 57.0%,#bbd1f7 63.5%,#d6dbe4 70.0%,#e7d6cc 73.7%,#f6bca2 78.4%,#f39879 83.5%,#eb7f63 86.7%,#e26a53 89.5%,#d44f42 90.9%,#c22d31 92.3%,#b30326 93.7%,#b30326 96.5%,#c12a30 98.4%,#c63534 99.3%,#c63534 99.8%)"></i><i style="top:143px;height:1px;background:linear-gradient(90deg,#3a4cc0 0.2%,#3c4fc3 25.8%,#4962d3 38.8%,#5775e1 45.3%,#7b9ef8 51.9%,#9fbefe 56.5%,#c1d4f4 64.0%,#dcdcdd 70.5%,#f1cbb8 75.1%,#f6aa8c 80.2%,#f18e70 83.5%,#e36c54 87.7%,#dd604c 89.5%,#c43032 91.9%,#b30326 93.3%,#b30326 96.5%,#c83835 98.4%,#cf463d 99.8%)"></i><i style="top:144px;height:1px;background:linear-gradient(90deg,#3a4cc0 0.2%,#3c4fc3 25.3%,#4962d3 38.4%,#5d7de6 46.3%,#89acfc 52.8%,#a8c5fd 57.4%,#ccd8ed 65.8%,#e1dad6 70.5%,#f4c3ab 75.6%,#f6a384 80.2%,#ef896c 83.0%,#df644f 86.3%,#d65243 89.5%,#bf282e 91.9%,#b81129 92.8%,#b30326 93.7%,#b30326 95.6%,#cc3f39 97.9%,#d75444 98.8%,#db5c4a 99.8%)"></i><i style="top:145px;height:1px;background:linear-gradient(90deg,#3a4cc0 0.2%,#3c4fc3 24.9%,#4962d3 37.9%,#5c7be5 45.3%,#86a9fc 51.9%,#a4c2fe 56.0%,#c6d6f1 63.5%,#dfdbd9 69.1%,#f4c3ab 74.7%,#f49b7c 80.2%,#f08b6d 82.1%,#db5c4a 85.3%,#d34d40 87.2%,#cc3f39 90.0%,#bb1a2b 92.8%,#b9162a 93.7%,#bc1f2c 95.1%,#d24b3f 97.4%,#e26a53 98.8%,#e6745a 99.8%)"></i><i style="top:146px;height:1px;background:linear-gradient(90deg,#3a4cc0 0.2%,#3c4fc3 24.9%,#4860d1 36.5%,#5b79e4 44.4%,#7497f5 48.6%,#99bafe 53.7%,#b2cbfb 57.9%,#d3dbe6 65.8%,#e4d8d1 69.1%,#f6bca2 74.7%,#f49a7b 79.3%,#ee876a 81.6%,#d1493e 85.3%,#c63534 87.7%,#c53233 90.5%,#c22d31 92.8%,#cc3f39 95.1%,#db5c4a 97.0%,#ec8266 98.8%,#f08b6d 99.8%)"></i><i style="top:147px;height:1px;background:linear-gradient(90deg,#3a4cc0 0.2%,#3c4fc3 24.4%,#4860d1 36.0%,#5876e2 43.0%,#7598f6 48.1%,#95b7fe 52.3%,#b6cef9 57.9%,#d6dbe4 65.3%,#e4d8d1 68.1%,#f5c1a8 72.8%,#f39576 78.8%,#eb7f63 81.6%,#c63534 85.3%,#bc1f2c 87.2%,#be232d 88.6%,#c93b37 92.3%,#e57057 96.5%,#f5a081 99.3%,#f6a384 99.8%)"></i><i style="top:148px;height:1px;background:linear-gradient(90deg,#3a4cc0 0.2%,#3c4fc3 24.0%,#4860d1 35.6%,#5b79e4 43.0%,#779af6 47.7%,#98b9fe 51.9%,#b9d0f8 57.9%,#d8dbe1 64.9%,#ebd3c6 68.6%,#f7b194 74.2%,#f08b6d 78.8%,#ea7b60 81.2%,#d95847 83.0%,#be232d 85.3%,#b60d28 86.3%,#b30326 87.2%,#b50827 88.1%,#c43032 90.5%,#df644f 93.7%,#f49b7c 97.4%,#f7b598 99.3%,#f6b69a 99.8%)"></i><i style="top:149px;height:1px;background:linear-gradient(90deg,#3a4cc0 0.2%,#3c4fc3 24.0%,#4962d3 36.0%,#5d7de6 43.0%,#80a4fa 48.1%,#a0bffe 52.3%,#c1d4f4 58.8%,#dadcdf 64.4%,#efcebc 68.6%,#f7b092 73.3%,#ec8266 78.4%,#e57057 81.2%,#d95847 82.6%,#bc1f2c 84.9%,#b50827 85.8%,#b30326 86.7%,#b30326 88.1%,#cd423a 90.9%,#ee8669 94.2%,#f6ab8d 97.0%,#f4c3ab 98.8%,#f2c7b2 99.8%)"></i><i style="top:150px;height:1px;background:linear-gradient(90deg,#3a4cc0 0.2%,#3c4fc3 23.5%,#4962d3 35.6%,#5c7be5 42.1%,#8aadfd 48.6%,#a6c3fd 52.3%,#ced9eb 60.7%,#e2d9d4 64.9%,#f3c6b0 69.1%,#f6a384 73.7%,#e8775d 77.9%,#df644f 81.2%,#c93b37 83.5%,#b60d28 85.3%,#b30326 85.8%,#b30326 87.7%,#ca3d38 90.0%,#e26a53 91.9%,#f39576 93.7%,#f5c0a7 97.0%,#ecd2c4 99.3%,#ebd3c6 99.8%)"></i><i style="top:151px;height:1px;background:linear-gradient(90deg,#3a4cc0 0.2%,#3c4fc3 23.0%,#4962d3 34.7%,#5d7de6 41.6%,#87aafc 47.7%,#a6c3fd 51.4%,#ced9eb 59.8%,#e3d9d3 64.0%,#f4c3ab 68.6%,#f59e7f 73.3%,#e57057 77.0%,#db5c4a 79.3%,#d65243 81.6%,#bc1f2c 84.9%,#b9162a 86.3%,#bb1a2b 87.2%,#ca3d38 89.1%,#e6745a 91.4%,#f5a081 93.3%,#f6bda4 95.1%,#e5d8d0 98.4%,#dfdbd9 99.8%)"></i><i style="top:152px;height:1px;background:linear-gradient(90deg,#3a4cc0 0.2%,#3c4fc3 22.6%,#4962d3 34.2%,#5c7be5 40.7%,#83a6fb 46.3%,#aac6fd 51.4%,#ced9eb 58.8%,#e1dad6 62.6%,#f5c0a7 68.1%,#f39576 73.3%,#de624e 76.5%,#d24b3f 78.8%,#ce443c 81.6%,#c22d31 84.9%,#c63534 86.7%,#d44f42 88.6%,#ec8064 90.9%,#f7b397 93.3%,#f1cbb8 95.1%,#dddcdb 97.9%,#d5dbe5 99.8%)"></i><i style="top:153px;height:1px;background:linear-gradient(90deg,#3a4cc0 0.2%,#3c4fc3 22.6%,#4962d3 33.7%,#5b79e4 39.8%,#7b9ef8 44.4%,#a3c1fe 49.5%,#c1d4f4 55.1%,#d7dbe2 59.8%,#ebd3c6 63.5%,#f7b194 69.1%,#f08b6d 73.3%,#d44f42 76.5%,#c93b37 78.4%,#c63534 79.8%,#c93b37 82.6%,#ca3d38 84.4%,#dc5e4b 87.7%,#ee8669 90.0%,#f6bba0 92.8%,#ecd1c3 94.7%,#d9dce0 97.0%,#ccd8ed 99.8%)"></i><i style="top:154px;height:1px;background:linear-gradient(90deg,#3a4cc0 0.2%,#3c4fc3 22.1%,#4860d1 32.3%,#5a78e3 38.8%,#789bf7 43.5%,#90b2fe 46.3%,#b6cef9 51.9%,#d5dbe5 58.4%,#e4d8d1 61.2%,#f5c0a7 65.8%,#f39576 71.4%,#ec8266 73.3%,#cc3f39 76.5%,#c43032 77.4%,#bc1f2c 78.8%,#c12a30 80.7%,#d44f42 84.4%,#ef896c 88.6%,#f7b598 91.4%,#e7d6cc 94.2%,#d3dbe6 96.5%,#c5d5f2 99.3%,#c5d5f2 99.8%)"></i><i style="top:155px;height:1px;background:linear-gradient(90deg,#3a4cc0 0.2%,#3c4fc3 21.6%,#4860d1 31.9%,#5b79e4 38.4%,#7b9ef8 43.0%,#97b8fe 46.3%,#bed3f5 52.8%,#dadcdf 58.4%,#efcdbb 62.6%,#f7b092 66.7%,#ed8467 72.3%,#e57057 73.7%,#c43032 76.5%,#b81129 77.9%,#b60d28 79.3%,#bb1a2b 80.2%,#d65243 83.5%,#ee8669 86.3%,#f6b69a 90.0%,#ebd3c6 92.8%,#dbdcde 94.7%,#c3d5f2 97.9%,#c0d3f5 99.8%)"></i><i style="top:156px;height:1px;background:linear-gradient(90deg,#3a4cc0 0.2%,#3c4fc3 21.2%,#4860d1 31.4%,#5a78e3 37.4%,#7ca0f9 42.6%,#9bbbfe 45.8%,#c1d4f4 52.3%,#dfdbd9 58.4%,#f4c4ad 63.0%,#f49d7e 67.7%,#ec8064 71.4%,#e57057 73.3%,#bf282e 76.5%,#b81129 77.4%,#b50827 78.8%,#b81129 79.8%,#c12a30 80.7%,#df644f 83.5%,#f39879 85.8%,#f6b69a 88.1%,#ead3c7 91.9%,#d9dce0 94.2%,#c1d4f4 97.9%,#bed3f5 99.8%)"></i><i style="top:157px;height:1px;background:linear-gradient(90deg,#3a4cc0 0.2%,#3c4fc3 21.2%,#4962d3 31.4%,#5b79e4 37.0%,#83a6fb 42.6%,#a0bffe 45.8%,#cad8ee 53.3%,#e0dad7 57.4%,#f4c4ad 62.1%,#f49d7e 66.3%,#ea7b60 70.0%,#e36c54 72.8%,#d85646 74.2%,#bc1f2c 77.0%,#b9162a 78.4%,#bf282e 79.8%,#d34d40 81.6%,#ee8669 84.0%,#f7b092 85.8%,#f4c4ad 87.7%,#e2d9d4 91.9%,#ced9eb 95.6%,#c1d4f4 98.4%,#c0d3f5 99.8%)"></i><i style="top:158px;height:1px;background:linear-gradient(90deg,#3a4cc0 0.2%,#3c4fc3 20.7%,#4962d3 30.9%,#5c7be5 36.5%,#85a8fb 42.1%,#a7c4fd 45.8%,#cad8ee 52.3%,#dfdbd9 56.0%,#f4c4ad 61.2%,#f49d7e 65.3%,#e7755c 68.6%,#e06650 71.4%,#dc5e4b 73.3%,#c63534 76.5%,#c43032 77.9%,#c93b37 79.3%,#df644f 81.6%,#f49b7c 84.0%,#f5c1a8 85.8%,#eecfbe 87.2%,#e2d9d4 90.0%,#cdd9ec 96.5%,#c5d5f2 99.8%)"></i><i style="top:159px;height:1px;background:linear-gradient(90deg,#3a4cc0 0.2%,#3c4fc3 20.2%,#4860d1 29.5%,#5571de 34.2%,#6d90f1 38.4%,#90b2fe 42.6%,#afcafb 46.3%,#cdd9ec 51.9%,#e3d9d3 55.6%,#f5c0a7 60.7%,#f49a7b 64.9%,#e57057 67.7%,#db5c4a 69.5%,#d95847 71.9%,#d85646 73.7%,#d24b3f 75.6%,#d24b3f 77.4%,#d75444 78.8%,#e7755c 81.2%,#f6a789 83.5%,#f2c9b5 85.3%,#e7d6cd 86.7%,#dcdcdd 89.1%,#d2dae7 96.5%,#ccd8ed 99.8%)"></i><i style="top:160px;height:1px;background:linear-gradient(90deg,#3a4cc0 0.2%,#3c4fc3 19.8%,#4860d1 29.1%,#5a78e3 34.7%,#789bf7 38.8%,#9fbefe 43.5%,#b9d0f8 47.2%,#d5dbe5 52.3%,#ebd3c6 56.0%,#f7b092 61.6%,#f19072 64.9%,#da5a48 68.1%,#d34d40 69.5%,#d24b3f 71.4%,#d85646 73.7%,#dd604c 77.0%,#ed8467 80.2%,#f6aa8c 82.6%,#f2c9b5 84.4%,#dfdbd9 86.3%,#d5dbe5 88.1%,#d7dbe2 91.9%,#d9dce0 97.0%,#d3dbe6 99.8%)"></i><i style="top:161px;height:1px;background:linear-gradient(90deg,#3a4cc0 0.2%,#3c4fc3 19.8%,#4b64d4 29.5%,#5b79e4 34.2%,#779af6 37.9%,#97b8fe 41.6%,#b9d0f8 46.3%,#d5dbe5 51.4%,#e9d4c9 54.7%,#f5bfa5 58.4%,#f39879 63.5%,#ec8064 65.3%,#d34d40 68.1%,#cc3f39 69.5%,#cc3f39 70.9%,#e57057 76.0%,#f59e7f 80.2%,#f4c3ab 83.0%,#dfdbd9 85.3%,#ced9eb 87.2%,#cfd9ea 90.0%,#e2d9d4 96.0%,#dcdcdd 99.8%)"></i><i style="top:162px;height:1px;background:linear-gradient(90deg,#3a4cc0 0.2%,#3c4fc3 19.3%,#4b64d4 29.1%,#5f7ee7 34.2%,#8baefd 39.3%,#b3ccfa 44.4%,#d6dbe4 50.5%,#e9d4c9 53.7%,#f6bba0 57.4%,#f18e70 63.5%,#ec8064 64.9%,#d34d40 67.7%,#c93b37 69.5%,#ca3d38 70.9%,#e9795e 75.1%,#f6a486 78.4%,#f3c6b0 82.1%,#e1dad6 84.4%,#ccd8ed 86.3%,#c6d6f1 88.1%,#dcdcdd 92.8%,#e8d5ca 96.5%,#e3d9d3 99.8%)"></i><i style="top:163px;height:1px;background:linear-gradient(90deg,#3a4cc0 0.2%,#3c4fc3 18.8%,#4860d1 27.2%,#5775e1 31.9%,#779af6 36.5%,#9fbefe 40.7%,#c5d5f2 46.3%,#dedbda 50.9%,#f2c9b5 54.7%,#f6a98a 58.4%,#ef896c 63.0%,#ea7b60 64.9%,#d34d40 67.7%,#ca3d38 69.5%,#ce443c 70.9%,#e6745a 73.7%,#f6a486 76.5%,#f5c0a7 79.3%,#e7d6cd 83.0%,#d5dbe5 84.9%,#c3d5f2 86.7%,#c3d5f2 88.6%,#dbdcde 92.3%,#ecd1c3 96.5%,#e7d6cc 99.8%)"></i><i style="top:164px;height:1px;background:linear-gradient(90deg,#3a4cc0 0.2%,#3c4fc3 18.4%,#4962d3 27.2%,#5d7de6 32.3%,#86a9fc 37.4%,#a3c1fe 40.2%,#c5d5f2 45.3%,#dedbda 49.5%,#f2c9b5 53.7%,#f6a486 57.4%,#ef896c 60.7%,#eb7f63 63.5%,#e8775d 64.9%,#d75444 67.7%,#d24b3f 69.5%,#d44f42 70.5%,#e26a53 72.3%,#f5a182 75.1%,#f6bca2 77.0%,#efcebc 79.8%,#dfdbd9 83.5%,#c6d6f1 86.3%,#c1d4f4 88.1%,#d8dbe1 91.9%,#ecd1c3 95.6%,#eecfbe 97.4%,#ead3c7 99.8%)"></i><i style="top:165px;height:1px;background:linear-gradient(90deg,#3a4cc0 0.2%,#3c4fc3 17.9%,#4962d3 26.7%,#5c7be5 31.4%,#85a8fb 36.5%,#acc8fc 40.7%,#ced9eb 45.8%,#e2d9d4 49.1%,#f3c5af 53.3%,#f6aa8c 56.0%,#ef896c 58.8%,#e9795e 61.2%,#e8775d 64.9%,#de624e 67.7%,#de624e 69.5%,#e36c54 70.9%,#f08b6d 72.8%,#f6bca2 75.6%,#eecfbe 77.9%,#dedbda 83.5%,#c6d6f1 86.7%,#c5d5f2 88.6%,#dcdcdd 92.3%,#edcfc0 96.0%,#eecfbe 97.4%,#ebd3c6 99.8%)"></i><i style="top:166px;height:1px;background:linear-gradient(90deg,#3a4cc0 0.2%,#3c4fc3 17.4%,#4860d1 25.3%,#5b79e4 30.5%,#80a4fa 35.1%,#a8c5fd 39.3%,#c8d7ef 44.0%,#e1dad6 47.7%,#f3c6b0 51.9%,#f6a687 55.6%,#ea7b60 58.8%,#e36c54 61.2%,#e8775d 65.3%,#e8775d 68.6%,#ee876a 70.9%,#f6ab8d 73.3%,#f3c6b0 75.1%,#ebd3c6 77.0%,#e5d8d0 79.8%,#e3d9d3 83.0%,#ced9eb 86.3%,#c9d7ee 88.6%,#d9dce0 91.9%,#edd0c1 96.0%,#ecd2c4 98.8%,#ead3c7 99.8%)"></i><i style="top:167px;height:1px;background:linear-gradient(90deg,#3a4cc0 0.2%,#3c4fc3 17.4%,#4962d3 25.3%,#5c7be5 30.0%,#86a9fc 34.7%,#afcafb 39.3%,#d1dae8 44.4%,#e5d8d0 47.2%,#f4c4ad 50.9%,#f59e7f 55.6%,#e57057 58.8%,#de624e 60.7%,#e06650 62.6%,#ea7d61 65.8%,#f49b7c 70.5%,#f6b99d 72.8%,#ecd2c4 75.1%,#e4d8d1 76.5%,#e2d9d4 79.3%,#e7d6cc 83.0%,#d6dbe4 86.3%,#cfd9ea 88.1%,#d6dbe4 90.9%,#e7d6cc 94.7%,#ecd1c3 97.0%,#e9d4c9 99.8%)"></i><i style="top:168px;height:1px;background:linear-gradient(90deg,#3a4cc0 0.2%,#3c4fc3 17.0%,#4962d3 24.9%,#5f7ee7 29.5%,#7ca0f9 32.8%,#9bbbfe 36.0%,#c1d4f4 40.7%,#dcdcdd 44.9%,#f2c9b5 48.6%,#f6a486 54.2%,#ec8266 57.0%,#e06650 58.8%,#db5c4a 60.7%,#df644f 62.6%,#f59e7f 68.1%,#f6ba9f 71.4%,#e8d5ca 74.2%,#dddcdb 76.0%,#dfdbd9 78.4%,#ecd1c3 82.6%,#e9d4c9 84.4%,#d9dce0 87.2%,#d6dbe4 89.5%,#e2d9d4 93.3%,#ebd3c6 97.0%,#e8d5ca 99.8%)"></i><i style="top:169px;height:1px;background:linear-gradient(90deg,#3a4cc0 0.2%,#3c4fc3 16.5%,#4860d1 23.5%,#6080e8 29.1%,#7fa2fa 32.3%,#9cbcfe 35.1%,#c2d4f3 39.8%,#dfdbd9 44.4%,#f4c4ad 48.1%,#f7b092 50.9%,#f19072 55.6%,#df644f 58.8%,#db5c4a 60.7%,#e06650 62.6%,#f29375 66.3%,#f7b194 68.6%,#f1cbb8 71.9%,#dcdcdd 74.7%,#d9dce0 77.0%,#ecd1c3 81.2%,#f1cab6 83.0%,#edcfc0 84.9%,#dedbda 88.1%,#dedbda 91.4%,#ead3c7 96.5%,#e8d5ca 99.8%)"></i><i style="top:170px;height:1px;background:linear-gradient(90deg,#3a4cc0 0.2%,#3c4fc3 16.0%,#4b64d4 24.0%,#6788ed 29.1%,#8daffd 32.8%,#a8c5fd 35.6%,#cad8ee 39.8%,#e1dad6 43.5%,#f2c7b2 46.7%,#f7ad8f 49.5%,#f49a7b 53.3%,#ee8669 56.5%,#e06650 59.3%,#df644f 61.2%,#e9795e 63.5%,#f49b7c 66.3%,#f6bca2 68.6%,#e8d5ca 72.3%,#dadcdf 74.2%,#d6dbe4 76.0%,#e4d8d1 78.8%,#f4c4ad 82.6%,#f4c3ab 84.0%,#e5d8d0 88.6%,#e3d9d3 91.4%,#ebd3c6 97.4%,#ead3c7 99.8%)"></i><i style="top:171px;height:1px;background:linear-gradient(90deg,#3a4cc0 0.2%,#3c4fc3 15.6%,#4860d1 22.6%,#5d7de6 26.7%,#7fa2fa 30.9%,#a2c0fe 33.7%,#c3d5f2 37.9%,#dedbda 41.6%,#f1cab6 45.3%,#f6a687 49.1%,#f39576 51.9%,#f08b6d 56.5%,#e67259 59.3%,#e8775d 61.6%,#f39576 65.3%,#f5c0a7 68.6%,#e4d8d1 72.8%,#d8dbe1 74.7%,#dadcdf 76.5%,#f0ccb9 80.2%,#f6bba0 83.0%,#f5bfa5 84.9%,#ebd3c6 89.1%,#e9d4c9 92.3%,#edd0c1 97.9%,#edd0c1 99.8%)"></i><i style="top:172px;height:1px;background:linear-gradient(90deg,#3a4cc0 0.2%,#3c4fc3 15.1%,#4860d1 21.6%,#5a78e3 25.3%,#7fa2fa 30.0%,#aac6fd 33.7%,#d0dae9 38.4%,#e4d8d1 41.2%,#f3c5af 44.9%,#f6a98a 47.7%,#f18e70 50.5%,#f18e70 54.2%,#f29375 56.0%,#ed8467 59.8%,#f49b7c 65.3%,#f7b194 67.2%,#f2c7b2 69.5%,#dddcdb 74.7%,#e1dad6 76.5%,#f5bfa5 81.2%,#f7b397 83.0%,#f6b69a 84.9%,#efcdbb 89.5%,#efcdbb 95.1%,#f0ccb9 99.8%)"></i><i style="top:173px;height:1px;background:linear-gradient(90deg,#3a4cc0 0.2%,#3c4fc3 14.7%,#4860d1 21.2%,#5f7ee7 25.3%,#80a4fa 29.1%,#a8c5fd 32.8%,#c6d6f1 36.0%,#dcdcdd 38.8%,#efcebc 42.1%,#f6b99d 45.3%,#f08d6f 49.1%,#ec8266 51.4%,#f08d6f 53.7%,#f49d7e 57.0%,#f49b7c 60.2%,#f6a384 63.0%,#f6a384 65.8%,#f5c1a8 69.1%,#e6d7cf 74.2%,#e8d5ca 76.5%,#f6bba0 80.7%,#f6ab8d 83.5%,#f6b79c 86.3%,#f3c6b0 90.0%,#f3c6b0 95.6%,#f3c5af 99.8%)"></i><i style="top:174px;height:1px;background:linear-gradient(90deg,#3a4cc0 0.2%,#3c4fc3 14.2%,#4860d1 20.2%,#5c7be5 24.4%,#83a6fb 28.1%,#b2cbfb 32.8%,#d6dbe4 37.0%,#e7d6cc 39.3%,#f5c1a8 43.0%,#f5a182 46.7%,#ec8064 49.5%,#ea7d61 51.4%,#ee876a 53.3%,#f6a98a 56.5%,#f7b598 62.1%,#f7ae91 64.0%,#f6a789 65.8%,#f7b397 67.7%,#efcebc 73.3%,#edd0c1 75.6%,#f7ad8f 82.1%,#f6a789 84.0%,#f7b598 87.2%,#f5c0a7 90.9%,#f5bfa5 99.8%)"></i><i style="top:175px;height:1px;background:linear-gradient(90deg,#3a4cc0 0.2%,#3c4fc3 13.7%,#4860d1 19.3%,#5f7ee7 24.0%,#89acfc 27.7%,#aec9fc 31.4%,#d3dbe6 35.6%,#e6d7cf 37.9%,#f4c3ab 41.2%,#f6a486 45.8%,#ea7b60 49.5%,#e9795e 50.9%,#ee8669 52.8%,#f7b397 56.5%,#f5c0a7 59.3%,#f3c5af 62.1%,#f6ba9f 64.0%,#f6aa8c 66.3%,#f3c6b0 73.3%,#f2c7b2 76.0%,#f6a789 82.6%,#f6a98a 85.3%,#f6ba9f 90.9%,#f6b99d 99.8%)"></i><i style="top:176px;height:1px;background:linear-gradient(90deg,#3a4cc0 0.2%,#3c4fc3 13.3%,#475fd0 18.4%,#6182ea 23.5%,#82a5fb 26.3%,#a8c5fd 29.5%,#ced9eb 33.7%,#e3d9d3 36.5%,#f4c3ab 39.8%,#f49d7e 46.3%,#ea7b60 49.5%,#e9795e 50.9%,#f19072 53.3%,#f6bda4 56.5%,#f1cbb8 58.8%,#ecd2c4 61.6%,#efcdbb 63.0%,#f7b092 65.8%,#f7b092 67.7%,#f5c1a8 74.7%,#f6bba0 77.4%,#f6a687 83.5%,#f7b598 91.4%,#f7b598 99.8%)"></i><i style="top:177px;height:1px;background:linear-gradient(90deg,#3a4cc0 0.2%,#3c4fc3 12.8%,#4962d3 18.4%,#6f91f2 24.0%,#8daffd 26.3%,#b0cbfb 29.1%,#d5dbe5 33.3%,#e8d5ca 36.0%,#f5c1a8 38.8%,#f7b092 41.6%,#f5a182 45.8%,#ec8064 49.5%,#ed8467 51.4%,#f59e7f 53.7%,#f3c6b0 56.5%,#e9d4c9 58.8%,#e3d9d3 61.6%,#e9d4c9 63.0%,#f6bba0 65.3%,#f7b194 66.7%,#f6bba0 75.1%,#f6aa8c 83.5%,#f7b397 92.3%,#f7b397 99.8%)"></i><i style="top:178px;height:1px;background:linear-gradient(90deg,#3a4cc0 0.2%,#3c4fc3 12.3%,#4860d1 17.4%,#7093f3 23.0%,#90b2fe 25.8%,#b7cff9 28.6%,#dcdcdd 32.8%,#f2c9b5 36.5%,#f7b092 39.8%,#f6a98a 43.0%,#f6a789 45.8%,#f08d6f 49.5%,#f19072 51.4%,#f6a384 53.3%,#f2c8b3 56.0%,#e5d8d0 58.4%,#dbdcde 61.6%,#e3d9d3 63.0%,#f6bda4 65.8%,#f6b69a 66.7%,#f6ba9f 77.0%,#f7b194 84.0%,#f6b69a 94.2%,#f6b69a 99.8%)"></i><i style="top:179px;height:1px;background:linear-gradient(90deg,#3a4cc0 0.2%,#3c4fc3 11.9%,#4962d3 17.0%,#7497f5 22.1%,#90b2fe 24.9%,#b7cff9 27.7%,#dcdcdd 31.4%,#f2c9b5 35.1%,#f7ad8f 38.4%,#f6a486 40.7%,#f6ab8d 44.0%,#f7ae91 45.8%,#f49b7c 49.5%,#f5a182 51.9%,#f5bfa5 54.7%,#e5d8d0 57.4%,#d7dbe2 60.7%,#dbdcde 62.6%,#efcdbb 64.9%,#f6bda4 66.7%,#f6bca2 78.8%,#f6ba9f 84.9%,#f6bca2 99.8%)"></i><i style="top:180px;height:1px;background:linear-gradient(90deg,#3a4cc0 0.2%,#3c4fc3 10.9%,#4d67d7 17.0%,#6182ea 19.3%,#80a4fa 22.1%,#a8c5fd 25.8%,#d2dae7 29.1%,#e3d9d3 30.9%,#f5bfa5 35.1%,#f5a182 38.4%,#f59e7f 41.2%,#f6b69a 45.3%,#f7b397 47.2%,#f6aa8c 50.0%,#f7b295 52.3%,#ecd2c4 56.0%,#dddcdb 58.4%,#d5dbe5 61.6%,#e0dad7 63.5%,#f3c6b0 66.3%,#f4c3ab 68.6%,#f4c2aa 99.8%)"></i><i style="top:181px;height:1px;background:linear-gradient(90deg,#3a4cc0 0.2%,#3c4fc3 10.0%,#4962d3 15.1%,#5f7ee7 18.4%,#7fa2fa 20.7%,#a6c3fd 24.4%,#c7d6f0 27.2%,#e1dad6 29.5%,#f2c8b3 32.3%,#f6a98a 36.0%,#f39576 38.4%,#f39678 40.2%,#f6a687 42.6%,#f6bda4 45.3%,#f6bda4 47.7%,#f6b99d 50.0%,#f6bca2 51.9%,#efcdbb 54.7%,#dcdcdd 58.4%,#d6dbe4 61.6%,#dedbda 63.5%,#f0ccb9 66.3%,#f2c9b5 71.9%,#f2c9b5 99.8%)"></i><i style="top:182px;height:1px;background:linear-gradient(90deg,#3a4cc0 0.2%,#3c4fc3 9.5%,#516cdb 15.6%,#6383ea 17.9%,#87aafc 20.2%,#a8c5fd 23.0%,#c8d7ef 26.3%,#e0dad7 28.6%,#f3c6b0 31.4%,#f5a182 35.6%,#f08b6d 37.9%,#f08b6d 39.3%,#f5a182 42.1%,#f4c4ad 45.3%,#f2c7b2 47.2%,#f4c3ab 50.5%,#efcdbb 53.7%,#dddcdb 58.4%,#d9dce0 62.1%,#e2d9d4 64.0%,#edcfc0 66.7%,#efcebc 72.3%,#efcebc 99.8%)"></i><i style="top:183px;height:1px;background:linear-gradient(90deg,#3a4cc0 0.2%,#3e51c4 9.1%,#475fd0 12.3%,#6889ee 17.4%,#8eb1fd 19.8%,#abc7fc 21.6%,#d3dbe6 26.3%,#e7d6cc 28.6%,#f6bda4 31.4%,#f39678 35.6%,#ec8266 37.9%,#ee8669 39.3%,#f5a182 42.1%,#f4c4ad 44.9%,#f0ccb9 46.7%,#f0ccb9 51.9%,#dfdbd9 58.8%,#dddcdb 62.1%,#ecd1c3 67.2%,#edd0c1 99.8%)"></i><i style="top:184px;height:1px;background:linear-gradient(90deg,#3a4cc0 0.2%,#3e51c4 8.6%,#4962d3 11.9%,#7598f6 17.4%,#9fbefe 19.8%,#b7cff9 21.2%,#d5dbe5 24.4%,#e4d8d1 27.2%,#f6ba9f 30.9%,#f08b6d 36.0%,#eb7f63 37.9%,#ec8266 39.3%,#f5a182 42.1%,#f3c6b0 44.9%,#eecfbe 46.7%,#eecfbe 52.3%,#e3d9d3 59.3%,#e5d8d0 63.5%,#ecd2c4 67.7%,#ecd1c3 99.8%)"></i><i style="top:185px;height:1px;background:linear-gradient(90deg,#3a4cc0 0.2%,#3e51c4 7.7%,#4860d1 10.9%,#7093f3 15.6%,#8eb1fd 17.9%,#b2cbfb 19.8%,#ced9eb 21.6%,#e2d9d4 24.0%,#eecfbe 27.7%,#f7b092 31.4%,#ec8064 37.0%,#ec8064 38.8%,#f49d7e 41.6%,#f5c1a8 44.4%,#efcdbb 46.3%,#edcfc0 53.7%,#e8d5ca 60.7%,#ecd1c3 65.8%,#edd0c1 99.8%)"></i><i style="top:186px;height:1px;background:linear-gradient(90deg,#3a4cc0 0.2%,#3e51c4 6.7%,#4860d1 10.5%,#7598f6 14.7%,#98b9fe 17.4%,#bbd1f7 19.3%,#d9dce0 21.2%,#edd0c1 23.5%,#f0ccb9 25.3%,#f2c8b3 27.7%,#f6a486 32.3%,#ec8064 37.4%,#ee8669 39.3%,#f7ad8f 43.0%,#f3c6b0 45.3%,#f1cbb8 47.2%,#efcebc 56.0%,#edcfc0 63.0%,#efcdbb 70.0%,#efcdbb 99.8%)"></i><i style="top:187px;height:1px;background:linear-gradient(90deg,#3a4cc0 0.2%,#3e51c4 6.3%,#475fd0 9.5%,#5673e0 11.4%,#7ea1f9 14.2%,#a2c0fe 17.0%,#c3d5f2 18.8%,#dcdcdd 20.2%,#efcebc 22.1%,#f5c0a7 24.0%,#f5c0a7 27.7%,#f5a081 32.8%,#ee876a 37.0%,#ee876a 38.8%,#f6ab8d 43.0%,#f4c2aa 45.3%,#f2c7b2 48.1%,#f2c7b2 87.7%,#f2c7b2 99.8%)"></i><i style="top:188px;height:1px;background:linear-gradient(90deg,#3a4cc0 0.2%,#3e51c4 5.8%,#4962d3 9.5%,#5b79e4 11.4%,#83a6fb 13.7%,#abc7fc 16.5%,#ccd8ed 18.4%,#dcdcdd 19.3%,#f1cab6 21.2%,#f7b092 23.5%,#f7ae91 24.9%,#f6b99d 27.2%,#f7b295 29.1%,#f29173 35.6%,#f08b6d 38.4%,#f6a687 42.6%,#f6bda4 45.8%,#f5c1a8 51.4%,#f5c1a8 99.8%)"></i><i style="top:189px;height:1px;background:linear-gradient(90deg,#3a4cc0 0.2%,#3e51c4 5.3%,#4860d1 9.1%,#5876e2 10.9%,#85a8fb 13.3%,#abc7fc 15.6%,#c9d7ee 17.4%,#e1dad6 18.8%,#f4c3ab 20.7%,#f6a384 23.0%,#f49b7c 24.4%,#f7b194 27.7%,#f29173 37.9%,#f6a384 42.1%,#f6b99d 46.3%,#f6ba9f 99.8%)"></i><i style="top:190px;height:1px;background:linear-gradient(90deg,#3a4cc0 0.2%,#3e51c4 5.3%,#4860d1 8.6%,#5673e0 10.5%,#789bf7 12.3%,#a0bffe 14.2%,#c5d5f2 16.5%,#dcdcdd 17.9%,#f3c6b0 19.8%,#f5a081 22.1%,#f08d6f 23.5%,#f08b6d 24.4%,#f6a98a 27.2%,#f6a98a 29.5%,#f39678 37.9%,#f6a687 43.0%,#f7b295 46.7%,#f7b295 99.8%)"></i><i style="top:191px;height:1px;background:linear-gradient(90deg,#3a4cc0 0.2%,#3e51c4 4.9%,#475fd0 8.1%,#526edc 10.0%,#7194f4 11.9%,#94b5fe 13.3%,#bed3f5 15.6%,#dcdcdd 17.4%,#efcdbb 18.8%,#f7ad8f 20.7%,#ed8467 23.0%,#ea7b60 24.0%,#ef896c 25.3%,#f5a182 27.2%,#f6a789 28.6%,#f49b7c 38.4%,#f7ad8f 47.7%,#f7ad8f 99.8%)"></i><i style="top:192px;height:1px;background:linear-gradient(90deg,#3a4cc0 0.2%,#3e51c4 4.9%,#4962d3 8.6%,#5a78e3 10.5%,#80a4fa 12.3%,#acc8fc 14.2%,#d2dae7 16.5%,#e2d9d4 17.4%,#f5bfa5 19.3%,#f49d7e 21.2%,#e9795e 23.0%,#e67259 24.0%,#ec8064 25.3%,#f59e7f 27.2%,#f6a486 29.5%,#f59e7f 39.3%,#f6a98a 47.7%,#f6a98a 99.8%)"></i><i style="top:193px;height:1px;background:linear-gradient(90deg,#3a4cc0 0.2%,#4054c7 5.8%,#4d67d7 9.1%,#5a78e3 10.5%,#82a5fb 12.3%,#a6c3fd 13.7%,#c7d6f0 15.6%,#dddcdb 17.0%,#f4c4ad 18.8%,#f5a182 20.7%,#e6745a 23.0%,#e36c54 24.0%,#ea7d61 25.3%,#f49b7c 27.2%,#f6a486 29.1%,#f5a182 41.6%,#f6a789 50.5%,#f6a789 99.8%)"></i></div>
<div class="hm" style="left:636px;top:287px;width:8px;height:194px;background:linear-gradient(180deg,#b40426 0%,#c53334 5%,#d65244 10%,#e36c55 15%,#ee8468 20%,#f4987a 25%,#f7ac8e 30%,#f6bda2 35%,#f2cbb7 40%,#e9d5cb 45%,#dddcdc 50%,#cfdaea 55%,#c0d4f5 60%,#afcafc 65%,#9ebeff 70%,#8db0fe 75%,#7b9ff9 80%,#6a8bef 85%,#5977e3 90%,#4961d2 95%,#3b4cc0 100%)"></div>
<svg width="685" height="525" viewBox="0 0 685 525">
<line x1="42" y1="186.363" x2="45" y2="186.363" stroke="#222" stroke-width="0.9"/>
<text x="39.7" y="191.663" text-anchor="end" style="font-family:'Liberation Serif',serif;font-size:15px;fill:#000">2</text>
<line x1="42" y1="137.287" x2="45" y2="137.287" stroke="#222" stroke-width="0.9"/>
<text x="39.7" y="142.588" text-anchor="end" style="font-family:'Liberation Serif',serif;font-size:15px;fill:#000">4</text>
<line x1="42" y1="88.2125" x2="45" y2="88.2125" stroke="#222" stroke-width="0.9"/>
<text x="39.7" y="93.5125" text-anchor="end" style="font-family:'Liberation Serif',serif;font-size:15px;fill:#000">6</text>
<line x1="42" y1="39.1375" x2="45" y2="39.1375" stroke="#222" stroke-width="0.9"/>
<text x="39.7" y="44.4375" text-anchor="end" style="font-family:'Liberation Serif',serif;font-size:15px;fill:#000">8</text>
<line x1="97.8549" y1="210.9" x2="97.8549" y2="213.9" stroke="#222" stroke-width="0.9"/>
<text x="97.8549" y="227.1" text-anchor="middle" style="font-family:'Liberation Serif',serif;font-size:15px;fill:#000">2.5</text>
<line x1="153.703" y1="210.9" x2="153.703" y2="213.9" stroke="#222" stroke-width="0.9"/>
<text x="153.703" y="227.1" text-anchor="middle" style="font-family:'Liberation Serif',serif;font-size:15px;fill:#000">5.0</text>
<line x1="209.552" y1="210.9" x2="209.552" y2="213.9" stroke="#222" stroke-width="0.9"/>
<text x="209.552" y="227.1" text-anchor="middle" style="font-family:'Liberation Serif',serif;font-size:15px;fill:#000">7.5</text>
<line x1="265.4" y1="210.9" x2="265.4" y2="213.9" stroke="#222" stroke-width="0.9"/>
<text x="265.4" y="227.1" text-anchor="middle" style="font-family:'Liberation Serif',serif;font-size:15px;fill:#000">10.0</text>
<line x1="289.3" y1="210.9" x2="292.3" y2="210.9" stroke="#222" stroke-width="0.9"/>
<text x="294.8" y="216.1" text-anchor="start" style="font-family:'Liberation Serif',serif;font-size:15px;fill:#000">0.00</text>
<line x1="289.3" y1="177.516" x2="292.3" y2="177.516" stroke="#222" stroke-width="0.9"/>
<text x="294.8" y="182.716" text-anchor="start" style="font-family:'Liberation Serif',serif;font-size:15px;fill:#000">0.05</text>
<line x1="289.3" y1="144.131" x2="292.3" y2="144.131" stroke="#222" stroke-width="0.9"/>
<text x="294.8" y="149.331" text-anchor="start" style="font-family:'Liberation Serif',serif;font-size:15px;fill:#000">0.10</text>
<line x1="289.3" y1="110.747" x2="292.3" y2="110.747" stroke="#222" stroke-width="0.9"/>
<text x="294.8" y="115.947" text-anchor="start" style="font-family:'Liberation Serif',serif;font-size:15px;fill:#000">0.15</text>
<line x1="289.3" y1="77.3626" x2="292.3" y2="77.3626" stroke="#222" stroke-width="0.9"/>
<text x="294.8" y="82.5626" text-anchor="start" style="font-family:'Liberation Serif',serif;font-size:15px;fill:#000">0.20</text>
<line x1="289.3" y1="43.9782" x2="292.3" y2="43.9782" stroke="#222" stroke-width="0.9"/>
<text x="294.8" y="49.1782" text-anchor="start" style="font-family:'Liberation Serif',serif;font-size:15px;fill:#000">0.25</text>
<line x1="404.2" y1="183.514" x2="407.2" y2="183.514" stroke="#222" stroke-width="0.9"/>
<text x="401.9" y="188.814" text-anchor="end" style="font-family:'Liberation Serif',serif;font-size:15px;fill:#000">5</text>
<line x1="404.2" y1="148.782" x2="407.2" y2="148.782" stroke="#222" stroke-width="0.9"/>
<text x="401.9" y="154.082" text-anchor="end" style="font-family:'Liberation Serif',serif;font-size:15px;fill:#000">10</text>
<line x1="404.2" y1="114.05" x2="407.2" y2="114.05" stroke="#222" stroke-width="0.9"/>
<text x="401.9" y="119.35" text-anchor="end" style="font-family:'Liberation Serif',serif;font-size:15px;fill:#000">15</text>
<line x1="404.2" y1="79.3179" x2="407.2" y2="79.3179" stroke="#222" stroke-width="0.9"/>
<text x="401.9" y="84.6179" text-anchor="end" style="font-family:'Liberation Serif',serif;font-size:15px;fill:#000">20</text>
<line x1="404.2" y1="44.5857" x2="407.2" y2="44.5857" stroke="#222" stroke-width="0.9"/>
<text x="401.9" y="49.8857" text-anchor="end" style="font-family:'Liberation Serif',serif;font-size:15px;fill:#000">25</text>
<line x1="478.633" y1="211.3" x2="478.633" y2="214.3" stroke="#222" stroke-width="0.9"/>
<text x="478.633" y="227.5" text-anchor="middle" style="font-family:'Liberation Serif',serif;font-size:15px;fill:#000">10</text>
<line x1="550.067" y1="211.3" x2="550.067" y2="214.3" stroke="#222" stroke-width="0.9"/>
<text x="550.067" y="227.5" text-anchor="middle" style="font-family:'Liberation Serif',serif;font-size:15px;fill:#000">20</text>
<line x1="621.5" y1="211.3" x2="621.5" y2="214.3" stroke="#222" stroke-width="0.9"/>
<text x="621.5" y="227.5" text-anchor="middle" style="font-family:'Liberation Serif',serif;font-size:15px;fill:#000">30</text>
<line x1="644.5" y1="211.3" x2="647.5" y2="211.3" stroke="#222" stroke-width="0.9"/>
<text x="650" y="216.5" text-anchor="start" style="font-family:'Liberation Serif',serif;font-size:15px;fill:#000">0.0</text>
<line x1="644.5" y1="147.296" x2="647.5" y2="147.296" stroke="#222" stroke-width="0.9"/>
<text x="650" y="152.496" text-anchor="start" style="font-family:'Liberation Serif',serif;font-size:15px;fill:#000">0.5</text>
<line x1="644.5" y1="83.2921" x2="647.5" y2="83.2921" stroke="#222" stroke-width="0.9"/>
<text x="650" y="88.4921" text-anchor="start" style="font-family:'Liberation Serif',serif;font-size:15px;fill:#000">1.0</text>
<line x1="644.5" y1="19.2882" x2="647.5" y2="19.2882" stroke="#222" stroke-width="0.9"/>
<text x="650" y="24.4882" text-anchor="start" style="font-family:'Liberation Serif',serif;font-size:15px;fill:#000">1.5</text>
<line x1="49.4" y1="453.114" x2="52.4" y2="453.114" stroke="#222" stroke-width="0.9"/>
<text x="47.1" y="458.414" text-anchor="end" style="font-family:'Liberation Serif',serif;font-size:15px;fill:#000">5</text>
<line x1="49.4" y1="418.132" x2="52.4" y2="418.132" stroke="#222" stroke-width="0.9"/>
<text x="47.1" y="423.432" text-anchor="end" style="font-family:'Liberation Serif',serif;font-size:15px;fill:#000">10</text>
<line x1="49.4" y1="383.15" x2="52.4" y2="383.15" stroke="#222" stroke-width="0.9"/>
<text x="47.1" y="388.45" text-anchor="end" style="font-family:'Liberation Serif',serif;font-size:15px;fill:#000">15</text>
<line x1="49.4" y1="348.168" x2="52.4" y2="348.168" stroke="#222" stroke-width="0.9"/>
<text x="47.1" y="353.468" text-anchor="end" style="font-family:'Liberation Serif',serif;font-size:15px;fill:#000">20</text>
<line x1="49.4" y1="313.186" x2="52.4" y2="313.186" stroke="#222" stroke-width="0.9"/>
<text x="47.1" y="318.486" text-anchor="end" style="font-family:'Liberation Serif',serif;font-size:15px;fill:#000">25</text>
<line x1="123.967" y1="481.1" x2="123.967" y2="484.1" stroke="#222" stroke-width="0.9"/>
<text x="123.967" y="497.3" text-anchor="middle" style="font-family:'Liberation Serif',serif;font-size:15px;fill:#000">10</text>
<line x1="195.533" y1="481.1" x2="195.533" y2="484.1" stroke="#222" stroke-width="0.9"/>
<text x="195.533" y="497.3" text-anchor="middle" style="font-family:'Liberation Serif',serif;font-size:15px;fill:#000">20</text>
<line x1="267.1" y1="481.1" x2="267.1" y2="484.1" stroke="#222" stroke-width="0.9"/>
<text x="267.1" y="497.3" text-anchor="middle" style="font-family:'Liberation Serif',serif;font-size:15px;fill:#000">30</text>
<line x1="290.4" y1="481.1" x2="293.4" y2="481.1" stroke="#222" stroke-width="0.9"/>
<text x="295.9" y="486.3" text-anchor="start" style="font-family:'Liberation Serif',serif;font-size:15px;fill:#000">0.0</text>
<line x1="290.4" y1="419.648" x2="293.4" y2="419.648" stroke="#222" stroke-width="0.9"/>
<text x="295.9" y="424.848" text-anchor="start" style="font-family:'Liberation Serif',serif;font-size:15px;fill:#000">0.5</text>
<line x1="290.4" y1="358.196" x2="293.4" y2="358.196" stroke="#222" stroke-width="0.9"/>
<text x="295.9" y="363.396" text-anchor="start" style="font-family:'Liberation Serif',serif;font-size:15px;fill:#000">1.0</text>
<line x1="290.4" y1="296.745" x2="293.4" y2="296.745" stroke="#222" stroke-width="0.9"/>
<text x="295.9" y="301.945" text-anchor="start" style="font-family:'Liberation Serif',serif;font-size:15px;fill:#000">1.5</text>
<line x1="404.2" y1="453.6" x2="407.2" y2="453.6" stroke="#222" stroke-width="0.9"/>
<text x="401.9" y="458.9" text-anchor="end" style="font-family:'Liberation Serif',serif;font-size:15px;fill:#000">5</text>
<line x1="404.2" y1="418.975" x2="407.2" y2="418.975" stroke="#222" stroke-width="0.9"/>
<text x="401.9" y="424.275" text-anchor="end" style="font-family:'Liberation Serif',serif;font-size:15px;fill:#000">10</text>
<line x1="404.2" y1="384.35" x2="407.2" y2="384.35" stroke="#222" stroke-width="0.9"/>
<text x="401.9" y="389.65" text-anchor="end" style="font-family:'Liberation Serif',serif;font-size:15px;fill:#000">15</text>
<line x1="404.2" y1="349.725" x2="407.2" y2="349.725" stroke="#222" stroke-width="0.9"/>
<text x="401.9" y="355.025" text-anchor="end" style="font-family:'Liberation Serif',serif;font-size:15px;fill:#000">20</text>
<line x1="404.2" y1="315.1" x2="407.2" y2="315.1" stroke="#222" stroke-width="0.9"/>
<text x="401.9" y="320.4" text-anchor="end" style="font-family:'Liberation Serif',serif;font-size:15px;fill:#000">25</text>
<line x1="478.667" y1="481.3" x2="478.667" y2="484.3" stroke="#222" stroke-width="0.9"/>
<text x="478.667" y="497.5" text-anchor="middle" style="font-family:'Liberation Serif',serif;font-size:15px;fill:#000">10</text>
<line x1="550.133" y1="481.3" x2="550.133" y2="484.3" stroke="#222" stroke-width="0.9"/>
<text x="550.133" y="497.5" text-anchor="middle" style="font-family:'Liberation Serif',serif;font-size:15px;fill:#000">20</text>
<line x1="621.6" y1="481.3" x2="621.6" y2="484.3" stroke="#222" stroke-width="0.9"/>
<text x="621.6" y="497.5" text-anchor="middle" style="font-family:'Liberation Serif',serif;font-size:15px;fill:#000">30</text>
<line x1="644.5" y1="481.3" x2="647.5" y2="481.3" stroke="#222" stroke-width="0.9"/>
<text x="650" y="486.5" text-anchor="start" style="font-family:'Liberation Serif',serif;font-size:15px;fill:#000">0.0</text>
<line x1="644.5" y1="417.349" x2="647.5" y2="417.349" stroke="#222" stroke-width="0.9"/>
<text x="650" y="422.549" text-anchor="start" style="font-family:'Liberation Serif',serif;font-size:15px;fill:#000">0.5</text>
<line x1="644.5" y1="353.398" x2="647.5" y2="353.398" stroke="#222" stroke-width="0.9"/>
<text x="650" y="358.598" text-anchor="start" style="font-family:'Liberation Serif',serif;font-size:15px;fill:#000">1.0</text>
<line x1="644.5" y1="289.446" x2="647.5" y2="289.446" stroke="#222" stroke-width="0.9"/>
<text x="650" y="294.646" text-anchor="start" style="font-family:'Liberation Serif',serif;font-size:15px;fill:#000">1.5</text>
<rect x="45" y="14.6" width="220.4" height="196.3" fill="none" stroke="#1b1b22" stroke-width="1.1"/>
<rect x="279.4" y="14.6" width="9.9" height="196.3" fill="none" stroke="#2a2a2a" stroke-width="0.9"/>
<rect x="407.2" y="16.8" width="214.3" height="194.5" fill="none" stroke="#1b1b22" stroke-width="1.1"/>
<rect x="635.5" y="16.6" width="9" height="194.7" fill="none" stroke="#2a2a2a" stroke-width="0.9"/>
<rect x="52.4" y="285.2" width="214.7" height="195.9" fill="none" stroke="#1b1b22" stroke-width="1.1"/>
<rect x="280.6" y="284.7" width="9.8" height="196.4" fill="none" stroke="#2a2a2a" stroke-width="0.9"/>
<rect x="407.2" y="287.4" width="214.4" height="193.9" fill="none" stroke="#1b1b22" stroke-width="1.1"/>
<rect x="635.5" y="287.4" width="9" height="193.9" fill="none" stroke="#2a2a2a" stroke-width="0.9"/>
<text x="89.2" y="245.5" text-anchor="start" style="font-family:'Liberation Serif',serif;font-size:15px;fill:#000">2-norm:</text>
<rect x="142.95" y="234.90" width="1.3" height="14.60" fill="#1a1a1a"/>
<rect x="147.75" y="234.90" width="1.3" height="14.60" fill="#1a1a1a"/>
<text x="151.2" y="245.5" text-anchor="start" style="font-family:'Liberation Sans',sans-serif;font-style:italic;font-size:14.8px;fill:#000">H</text>
<text x="162.20" y="248.10" textLength="39" lengthAdjust="spacingAndGlyphs" style="font-family:'Liberation Sans',sans-serif;font-style:italic;font-size:10.6px">random</text>
<text x="203.5" y="245.5" text-anchor="start" style="font-family:'Liberation Sans',sans-serif;font-style:italic;font-size:17px;fill:#000">τ</text>
<rect x="213.25" y="234.90" width="1.3" height="14.60" fill="#1a1a1a"/>
<rect x="218.35" y="234.90" width="1.3" height="14.60" fill="#1a1a1a"/>
<text x="469.5" y="245.8" text-anchor="start" style="font-family:'Liberation Serif',serif;font-size:15px;fill:#000">2-norm:</text>
<rect x="523.25" y="235.20" width="1.3" height="14.60" fill="#1a1a1a"/>
<rect x="528.05" y="235.20" width="1.3" height="14.60" fill="#1a1a1a"/>
<text x="531.5" y="245.8" text-anchor="start" style="font-family:'Liberation Sans',sans-serif;font-style:italic;font-size:14.8px;fill:#000">H</text>
<text x="541.5" y="245.8" text-anchor="start" style="font-family:'Liberation Sans',sans-serif;font-style:italic;font-size:17px;fill:#000">τ</text>
<rect x="552.75" y="235.20" width="1.3" height="14.60" fill="#1a1a1a"/>
<rect x="557.85" y="235.20" width="1.3" height="14.60" fill="#1a1a1a"/>
<text x="114.8" y="516.5" text-anchor="start" style="font-family:'Liberation Serif',serif;font-size:15px;fill:#000">2-norm:</text>
<rect x="168.55" y="505.90" width="1.3" height="14.60" fill="#1a1a1a"/>
<rect x="173.35" y="505.90" width="1.3" height="14.60" fill="#1a1a1a"/>
<text x="176.8" y="516.5" text-anchor="start" style="font-family:'Liberation Sans',sans-serif;font-style:italic;font-size:14.8px;fill:#000">H</text>
<text x="186.8" y="516.5" text-anchor="start" style="font-family:'Liberation Sans',sans-serif;font-style:italic;font-size:17px;fill:#000">τ</text>
<rect x="198.05" y="505.90" width="1.3" height="14.60" fill="#1a1a1a"/>
<rect x="203.15" y="505.90" width="1.3" height="14.60" fill="#1a1a1a"/>
<text x="469.8" y="516.6" text-anchor="start" style="font-family:'Liberation Serif',serif;font-size:15px;fill:#000">2-norm:</text>
<rect x="523.55" y="506.00" width="1.3" height="14.60" fill="#1a1a1a"/>
<rect x="528.35" y="506.00" width="1.3" height="14.60" fill="#1a1a1a"/>
<text x="531.8" y="516.6" text-anchor="start" style="font-family:'Liberation Sans',sans-serif;font-style:italic;font-size:14.8px;fill:#000">H</text>
<text x="541.8" y="516.6" text-anchor="start" style="font-family:'Liberation Sans',sans-serif;font-style:italic;font-size:17px;fill:#000">τ</text>
<rect x="553.05" y="506.00" width="1.3" height="14.60" fill="#1a1a1a"/>
<rect x="558.15" y="506.00" width="1.3" height="14.60" fill="#1a1a1a"/>
<text x="24.2" y="113" text-anchor="middle" transform="rotate(-90 24.2 113)" style="font-family:'Liberation Serif',serif;font-size:15px">Taylor order: <tspan style="font-family:'Liberation Sans',sans-serif;font-style:italic">R</tspan></text>
<text x="379.5" y="114" text-anchor="middle" transform="rotate(-90 379.5 114)" style="font-family:'Liberation Serif',serif;font-size:15px">Trotter segments: <tspan style="font-family:'Liberation Sans',sans-serif;font-style:italic">L</tspan></text>
<text x="24.4" y="383" text-anchor="middle" transform="rotate(-90 24.4 383)" style="font-family:'Liberation Serif',serif;font-size:15px">Trotter segments: <tspan style="font-family:'Liberation Sans',sans-serif;font-style:italic">L</tspan></text>
<text x="379.5" y="385" text-anchor="middle" transform="rotate(-90 379.5 385)" style="font-family:'Liberation Serif',serif;font-size:15px">Trotter segments: <tspan style="font-family:'Liberation Sans',sans-serif;font-style:italic">L</tspan></text>
<text x="334" y="112.2" text-anchor="middle" transform="rotate(-90 334 112.2)" style="font-family:'Liberation Serif',serif;font-size:15px">Error <tspan style="font-family:'Liberation Sans',sans-serif;font-style:italic">ε</tspan></text>
<text x="683" y="114.1" text-anchor="middle" transform="rotate(-90 683 114.1)" style="font-family:'Liberation Serif',serif;font-size:15px">Error <tspan style="font-family:'Liberation Sans',sans-serif;font-style:italic">ε</tspan></text>
<text x="328.2" y="382.7" text-anchor="middle" transform="rotate(-90 328.2 382.7)" style="font-family:'Liberation Serif',serif;font-size:15px">Error <tspan style="font-family:'Liberation Sans',sans-serif;font-style:italic">ε</tspan></text>
<text x="683" y="384.6" text-anchor="middle" transform="rotate(-90 683 384.6)" style="font-family:'Liberation Serif',serif;font-size:15px">Error <tspan style="font-family:'Liberation Sans',sans-serif;font-style:italic">ε</tspan></text>
<text x="3.2" y="13.6" text-anchor="start" style="font-family:'Liberation Sans',sans-serif;font-size:14px;fill:#000;font-weight:bold">a)</text>
<text x="346.5" y="13.6" text-anchor="start" style="font-family:'Liberation Sans',sans-serif;font-size:14px;fill:#000;font-weight:bold">b)</text>
<text x="3.7" y="284" text-anchor="start" style="font-family:'Liberation Sans',sans-serif;font-size:14px;fill:#000;font-weight:bold">c)</text>
<text x="346.5" y="284" text-anchor="start" style="font-family:'Liberation Sans',sans-serif;font-size:14px;fill:#000;font-weight:bold">d)</text>
<text x="164" y="345.9" text-anchor="start" style="font-family:'Liberation Serif',serif;font-size:14px;fill:#eef0fa;stroke:#eef0fa;stroke-width:.2px">Taylor order: 2</text>
<text x="515" y="347.5" text-anchor="start" style="font-family:'Liberation Serif',serif;font-size:14px;fill:#eef0fa;stroke:#eef0fa;stroke-width:.2px">Taylor order: 10</text>
<polyline points="238.2,14.6 221.4,29.0 202.6,47.8 189.5,57.2" fill="none" stroke="#101040" stroke-width="1.35" stroke-dasharray="5.2,2.5" stroke-linejoin="round"/>
<polyline points="167.0,77.0 153.8,87.2 146.3,92.8 135.0,104.0 125.7,113.4 118.2,121.0 110.4,130.0 106.5,137.0 99.5,140.2 90.9,145.6 84.6,153.4 79.2,162.8 72.1,169.0 68.2,176.9 65.9,185.5 58.0,187.5 51.0,190.2 47.9,195.6 46.3,203.4 45.6,210.9" fill="none" stroke="#101040" stroke-width="1.35" stroke-dasharray="5.2,2.5" stroke-linejoin="round"/>
<text x="178.4" y="67.1" text-anchor="middle" dominant-baseline="central" transform="rotate(-40.6 178.4 67.1)" style="font-family:'Liberation Serif',serif;font-size:12.8px;fill:#101040;stroke:#101040;stroke-width:.45px">0.01</text>
<polyline points="514.4,16.8 512.7,21.8 511.1,26.8 509.4,31.9 507.7,36.9 506.0,41.9" fill="none" stroke="#101040" stroke-width="1.35" stroke-dasharray="5.2,2.5"/>
<polyline points="495.8,71.4 494.3,75.6 492.7,79.9 491.1,84.1 489.5,88.4 487.8,92.6 486.1,96.8 484.4,101.1 482.7,105.3 480.9,109.6 479.0,113.8 477.1,118.0 475.2,122.3 473.2,126.5 471.2,130.8 469.1,135.0 467.0,139.2 464.8,143.5 462.5,147.7 460.2,151.9 457.8,156.2 455.3,160.4 452.8,164.7 450.2,168.9 447.6,173.1 444.8,177.4 442.0,181.6 439.1,185.9 436.1,190.1 433.1,194.3 429.9,198.6 426.7,202.8 423.3,207.1 419.9,211.3" fill="none" stroke="#101040" stroke-width="1.35" stroke-dasharray="5.2,2.5"/>
<text x="499.3" y="58.7" text-anchor="middle" dominant-baseline="central" transform="rotate(-60.5 499.3 58.7)" style="font-family:'Liberation Serif',serif;font-size:12.8px;fill:#101040;stroke:#101040;stroke-width:.45px">0.01</text>
<polyline points="159.9,285.2 158.3,290.0 156.7,294.9 155.1,299.7 153.5,304.5 151.8,309.3 150.2,314.1 148.5,319.0 146.9,323.8" fill="none" stroke="#101040" stroke-width="1.35" stroke-dasharray="5.2,2.5"/>
<polyline points="134.7,356.9 133.0,361.0 131.3,365.2 129.6,369.3 127.9,373.5 126.1,377.6 124.3,381.7 122.4,385.9 120.5,390.0 118.5,394.2 116.5,398.3 114.5,402.4 112.4,406.6 110.2,410.7 108.0,414.9 105.7,419.0 103.4,423.1 101.0,427.3 98.6,431.4 96.1,435.6 93.5,439.7 90.9,443.8 88.2,448.0 85.4,452.1 82.6,456.3 79.6,460.4 76.6,464.5 73.6,468.7 70.4,472.8 67.2,477.0 63.9,481.1" fill="none" stroke="#101040" stroke-width="1.35" stroke-dasharray="5.2,2.5"/>
<text x="138" y="341.5" text-anchor="middle" dominant-baseline="central" transform="rotate(-58.7 138 341.5)" style="font-family:'Liberation Serif',serif;font-size:12.8px;fill:#101040;stroke:#101040;stroke-width:.45px">0.01</text>
<polyline points="514.6,287.4 512.9,292.0 511.2,296.6 509.6,301.3 507.9,305.9 506.3,310.5 504.6,315.1 503.0,319.8 501.4,324.4" fill="none" stroke="#101040" stroke-width="1.35" stroke-dasharray="5.2,2.5"/>
<polyline points="488.9,358.4 487.3,362.6 485.6,366.9 483.9,371.1 482.2,375.4 480.4,379.6 478.6,383.8 476.7,388.1 474.8,392.3 472.8,396.5 470.8,400.8 468.7,405.0 466.6,409.3 464.4,413.5 462.1,417.7 459.8,422.0 457.4,426.2 454.9,430.4 452.4,434.7 449.7,438.9 447.0,443.2 444.2,447.4 441.3,451.6 438.4,455.9 435.3,460.1 432.1,464.3 428.9,468.6 425.5,472.8 422.0,477.1 418.5,481.3" fill="none" stroke="#101040" stroke-width="1.35" stroke-dasharray="5.2,2.5"/>
<text x="493.1" y="342.5" text-anchor="middle" dominant-baseline="central" transform="rotate(-57.2 493.1 342.5)" style="font-family:'Liberation Serif',serif;font-size:12.8px;fill:#101040;stroke:#101040;stroke-width:.45px">0.01</text>
</svg>
</div></body></html>
